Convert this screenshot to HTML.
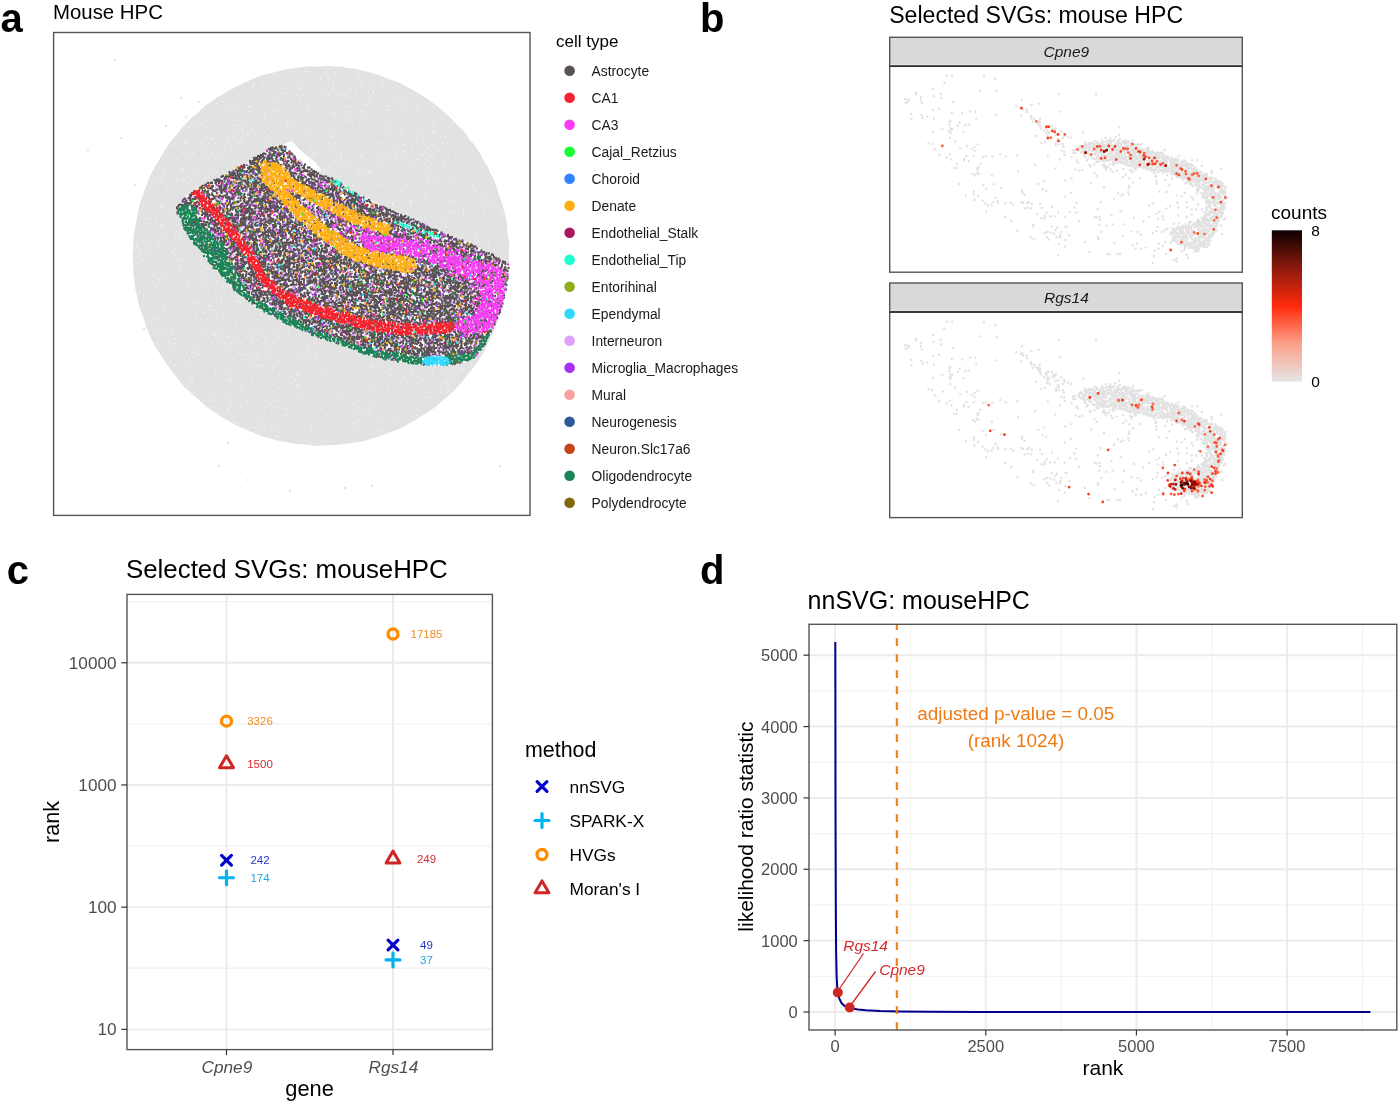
<!DOCTYPE html>
<html><head><meta charset="utf-8"><title>figure</title>
<style>html,body{margin:0;padding:0;background:#fff;}svg{display:block;will-change:transform;}text{font-family:"Liberation Sans", sans-serif;}</style>
</head><body>
<svg width="1400" height="1104" viewBox="0 0 1400 1104" font-family='"Liberation Sans", sans-serif'>
<rect width="1400" height="1104" fill="#fff"/>
<text x="0.5" y="31.6" font-size="40" font-weight="bold">a</text>
<text x="700.0" y="31.6" font-size="40" font-weight="bold">b</text>
<text x="6.8" y="583.6" font-size="40" font-weight="bold">c</text>
<text x="700.0" y="583.6" font-size="40" font-weight="bold">d</text>
<text x="53.0" y="19.3" font-size="20.4">Mouse HPC</text>
<path d="M509.2 255.8 509.0 262.4 508.9 269.0 508.1 275.6 507.2 282.2 506.5 288.7 505.6 295.3 504.0 301.8 502.3 308.2 500.0 314.4 498.1 320.7 495.5 326.8 492.9 332.9 490.1 338.9 487.2 344.8 484.5 350.9 481.0 356.5 477.4 362.1 473.6 367.5 469.3 372.5 465.2 377.7 461.1 382.9 456.7 387.8 452.1 392.5 447.3 397.1 441.9 400.9 437.1 405.4 431.9 409.5 426.4 413.2 420.7 416.5 415.2 420.2 409.3 423.1 403.8 426.7 397.8 429.5 391.7 431.8 385.4 434.0 379.4 436.6 373.0 438.3 366.7 440.3 360.3 441.7 353.8 442.7 347.3 443.7 340.8 444.6 334.2 445.1 327.7 445.2 321.1 445.4 314.5 445.7 308.0 444.8 301.5 444.2 294.9 443.9 288.4 442.5 281.9 441.5 275.6 439.9 269.2 438.1 262.8 436.7 256.8 433.9 250.6 431.7 244.6 429.0 238.5 426.5 232.8 423.2 227.0 420.1 221.2 416.9 215.9 413.0 210.4 409.4 205.0 405.6 200.3 401.0 195.3 396.6 190.4 392.2 185.5 387.8 181.1 382.9 177.0 377.7 172.8 372.6 169.0 367.2 165.0 361.9 161.7 356.2 157.9 350.8 154.6 345.1 151.5 339.2 148.9 333.1 146.2 327.0 144.5 320.6 142.2 314.4 139.7 308.2 138.2 301.8 137.0 295.2 135.3 288.8 134.5 282.2 133.6 275.7 133.4 269.0 133.2 262.4 132.8 255.8 133.2 249.2 133.4 242.6 133.5 235.9 134.8 229.4 136.0 222.9 137.3 216.4 138.6 209.9 139.9 203.4 142.1 197.2 144.3 190.9 146.8 184.8 148.7 178.4 151.9 172.6 155.0 166.8 158.3 161.1 161.7 155.4 165.2 149.8 168.6 144.2 172.9 139.1 177.1 134.0 181.2 128.8 185.8 124.1 190.0 119.0 195.3 115.0 200.0 110.4 205.0 106.1 210.5 102.3 215.6 98.1 221.3 94.9 227.1 91.6 232.7 88.3 238.7 85.5 244.5 82.5 250.6 80.0 256.6 77.2 262.8 75.0 269.2 73.4 275.6 72.0 282.0 70.3 288.4 69.1 294.9 68.1 301.4 67.3 307.9 66.2 314.5 66.4 321.1 66.4 327.7 65.8 334.2 66.4 340.8 66.6 347.3 67.9 353.9 68.6 360.3 70.0 366.7 71.4 373.1 73.2 379.3 75.3 385.4 77.8 391.6 80.0 397.8 82.1 403.8 84.9 409.7 87.9 415.2 91.5 421.0 94.7 426.5 98.3 431.8 102.2 437.2 106.0 442.2 110.4 447.2 114.7 452.0 119.2 456.4 124.1 461.3 128.6 465.6 133.6 469.2 139.2 473.7 144.0 477.5 149.5 480.9 155.1 483.9 161.1 487.6 166.5 490.1 172.7 493.5 178.4 495.8 184.6 497.7 191.0 499.9 197.2 502.2 203.5 503.9 209.9 505.5 216.3 506.9 222.8 507.3 229.4 508.0 236.0 509.3 242.5 508.9 249.2Z" fill="#e2e2e2"/>
<path transform="scale(0.5)" d="M656 137h0m-81 6h0m1 0h0m12-3h0m2 3h0m21 0h0m1 0h0m40 0h0m28 0h0m-109 2h0m51-1h0m6 2h0m22-1h0m20 1h0m-118 4h0m42 0h0m8 3h0m6-3h0m13 5h0m12-2h0m8 1h0m13-3h0m16-1h0m26 1h0m20 3h0m2-2h0m3 1h0m28-2h0m8 3h0m-221 2h0m105 2h0m2-2h0m11 0h0m3 0h0m57 0h0m13 5h0m17-1h0m5 0h0m-242 7h0m57-3h0m59-2h0m42 4h0m2 0h0m39 0h0m41-1h0m18 1h0m12 1h0m-270 4h0m0 2h0m20-4h0m50 4h0m2-3h0m15-2h0m4 5h0m7-3h0m52 3h0m16-2h0m48-1h0m2 3h0m21 0h0m18-2h0m4 2h0m29-2h0m-291 3h0m6 5h0m16-5h0m6 4h0m65-1h0m4 0h0m10 2h0m16-1h0m20-1h0m16 0h0m4 2h0m1-5h0m35 4h0m6 1h0m17-2h0m0-1h0m29 0h0m33-2h0m25 2h0m-330 9h0m59-5h0m10 1h0m25 0h0m26-1h0m13 4h0m37 1h0m15-4h0m12 3h0m10 1h0m22-1h0m0 1h0m34-4h0m1 2h0m20 0h0m19-1h0m8 0h0m16 3h0m-334 4h0m13-2h0m12 1h0m20-2h0m33 1h0m15-1h0m3 1h0m3 0h0m10 3h0m9 1h0m38 0h0m15-1h0m11 0h0m15-3h0m5 3h0m5-3h0m2 2h0m7-1h0m45-2h0m3 5h0m7-5h0m13 0h0m59 0h0m15 4h0m-389 6h0m34-4h0m53 2h0m14 1h0m7-1h0m14-2h0m5 2h0m27 2h0m2-4h0m26 5h0m65-1h0m4-2h0m8-1h0m82-1h0m4 3h0m6 2h0m15-1h0m13-1h0m-378 7h0m41 1h0m68-5h0m44 3h0m39-1h0m27 2h0m0-1h0m43 0h0m30-2h0m4 1h0m31 2h0m38-1h0m10 0h0m13-1h0m-409 9h0m8-2h0m7 2h0m12 0h0m9-4h0m3 4h0m13-1h0m64 0h0m8-2h0m137 3h0m48 0h0m1 0h0m3-5h0m23 1h0m7-1h0m18 1h0m19 0h0m3 4h0m25 0h0m3-1h0m-373 4h0m25-2h0m10 3h0m1 2h0m21-4h0m63-1h0m8 3h0m27-1h0m9 3h0m40-5h0m34 3h0m73 0h0m5-2h0m2 1h0m54 1h0m18-3h0m16 5h0m-460 2h0m59-1h0m0 1h0m14 1h0m60 3h0m4-4h0m5 3h0m2-1h0m4 0h0m44 1h0m14 1h0m4-5h0m30 1h0m5 0h0m66 2h0m20 2h0m7-5h0m0 1h0m29 3h0m2 0h0m24 0h0m3 1h0m12-5h0m-392 11h0m35-5h0m39 1h0m26 0h0m21 0h0m20 3h0m35-1h0m32-2h0m0 3h0m19 1h0m11-1h0m8 1h0m20-4h0m8 0h0m2 3h0m22-3h0m2 0h0m10 4h0m76-2h0m5 1h0m0-3h0m6 1h0m15-1h0m11 3h0m12 1h0m11-3h0m-469 5h0m24 3h0m7-4h0m25 2h0m7 1h0m47 0h0m17-1h0m47 2h0m14 0h0m54-4h0m22 1h0m4 4h0m20-1h0m5 0h0m1 0h0m28-1h0m9-2h0m4 0h0m44 2h0m11 0h0m57 0h0m-438 5h0m52 1h0m12-2h0m54 3h0m1-1h0m27-2h0m29 1h0m33-1h0m56 0h0m79-1h0m49 0h0m-404 6h0m11 5h0m4-4h0m59 0h0m6-1h0m35 4h0m59-2h0m9 1h0m0-1h0m69 1h0m24 1h0m17-2h0m0-1h0m2 2h0m77-1h0m20 2h0m46-4h0m29 4h0m2-1h0m36 1h0m-520 7h0m5-2h0m9-3h0m3 1h0m2 2h0m31 1h0m30 1h0m18-1h0m7-4h0m27 1h0m22 1h0m26-1h0m10 0h0m1 3h0m13-4h0m50 4h0m34-1h0m7 2h0m26 0h0m14-3h0m13 1h0m44-3h0m6 1h0m34 3h0m6 0h0m44-3h0m1 3h0m25 1h0m14-2h0m-529 6h0m36 2h0m63-5h0m9 5h0m7-2h0m43 2h0m47-1h0m82-3h0m18 4h0m71-3h0m17-2h0m20 4h0m43 0h0m3-3h0m17 4h0m45-4h0m-506 7h0m26 0h0m1 1h0m48-2h0m7 1h0m9 1h0m2-2h0m20 1h0m43-1h0m57 4h0m7-5h0m9 4h0m5-1h0m34 1h0m7-4h0m9 5h0m16-2h0m62-2h0m17-1h0m31 3h0m2-3h0m33 2h0m31 3h0m4 0h0m-510 2h0m9 2h0m35 0h0m19 2h0m29-2h0m10 2h0m13-2h0m33 0h0m5-3h0m12 4h0m15-2h0m1-1h0m64 3h0m16-1h0m19 1h0m7-1h0m9-2h0m36-1h0m34 4h0m50-2h0m2 1h0m17 0h0m6 1h0m8-3h0m17 2h0m17-1h0m5 2h0m16-1h0m3-2h0m54 3h0m-509 6h0m33 0h0m11 1h0m9-2h0m5-2h0m11 4h0m12-5h0m2 0h0m80 1h0m39-1h0m46 2h0m1 3h0m1 0h0m3-1h0m31 1h0m106-3h0m31 0h0m42 3h0m12-3h0m1 3h0m1-2h0m-533 3h0m42 5h0m23-3h0m1-1h0m1 1h0m29-2h0m27 1h0m30 0h0m24 4h0m7-5h0m71 1h0m38-1h0m78 2h0m4 3h0m4-1h0m51-4h0m13 5h0m32-5h0m2 2h0m10 0h0m35-2h0m37 4h0m-549 5h0m0 2h0m1-5h0m2 3h0m6 2h0m12-1h0m14 1h0m2 0h0m7-5h0m19 4h0m17-3h0m6-1h0m5 1h0m16-1h0m0 4h0m10 1h0m49-1h0m107-4h0m17 4h0m39-2h0m16-2h0m25 0h0m18 5h0m4 0h0m21-4h0m104 1h0m9 2h0m11-3h0m10 4h0m-575 4h0m9-3h0m62 1h0m96-1h0m3 2h0m19 1h0m92 1h0m1-4h0m34 0h0m15 5h0m45-5h0m34 5h0m6-4h0m38 0h0m12 0h0m18-1h0m0 4h0m25-4h0m10 4h0m9-3h0m20 1h0m22 3h0m-555 3h0m18 2h0m32-1h0m9-2h0m36 2h0m11 0h0m161 0h0m7 2h0m43 0h0m9-5h0m47 5h0m32-5h0m37 3h0m1-1h0m26 3h0m14-5h0m6 0h0m11 1h0m1 3h0m11-1h0m5-1h0m55 2h0m-593 6h0m54 1h0m7-2h0m16 2h0m1-1h0m13 0h0m11-4h0m5 0h0m8 1h0m215 2h0m36 1h0m13-2h0m23 1h0m8 1h0m45-3h0m19 0h0m0 2h0m10 2h0m47 0h0m14-2h0m39 0h0m-538 6h0m6-1h0m2-2h0m14 4h0m3-2h0m17 1h0m3-1h0m21 3h0m27-4h0m30-1h0m124 5h0m1-5h0m0 2h0m2-1h0m2 0h0m3 2h0m47 0h0m0 2h0m41-1h0m31-2h0m16-1h0m8 3h0m13-1h0m3-1h0m11 0h0m5 2h0m33-1h0m25 1h0m43-2h0m8 2h0m18 0h0m17-1h0m-626 8h0m18-3h0m30-1h0m3 0h0m30 2h0m20-1h0m9 3h0m6-1h0m199-4h0m19 1h0m19 2h0m10-2h0m30 0h0m4 2h0m36-3h0m39 0h0m13 5h0m6-4h0m43-1h0m2 2h0m26-2h0m22 2h0m-559 4h0m2 1h0m1 4h0m76-4h0m12 2h0m25 2h0m21 0h0m118-4h0m56 2h0m17-3h0m12 4h0m2-3h0m59-1h0m8 2h0m1 0h0m9-2h0m19 0h0m6 4h0m8 1h0m21-2h0m7-2h0m2-1h0m1 0h0m15 1h0m2 4h0m4-3h0m13 2h0m16 1h0m11-4h0m43 4h0m5-1h0m-573 5h0m6-3h0m17 1h0m1 3h0m30 0h0m13-4h0m13 5h0m26-4h0m8-1h0m128 3h0m56-3h0m5 2h0m0 2h0m6-2h0m18 1h0m5 0h0m19-2h0m18 3h0m26-1h0m31 2h0m19-5h0m5 4h0m21 1h0m6 0h0m40 0h0m14-3h0m33-1h0m-618 10h0m7-5h0m78 1h0m10 1h0m11 2h0m233-2h0m3 2h0m28-2h0m17 1h0m40-2h0m16-1h0m23 2h0m29 1h0m27 2h0m23-5h0m15 1h0m10 3h0m39 0h0m-608 2h0m9 1h0m2 2h0m32 0h0m5-1h0m31 1h0m28-2h0m2 3h0m27-3h0m193 3h0m0-4h0m1 2h0m1-2h0m9 2h0m3 3h0m5 0h0m50-3h0m1-1h0m12 1h0m6 2h0m68-4h0m47 5h0m1-4h0m20 2h0m10 2h0m22-5h0m13 2h0m13-2h0m19 3h0m-583 3h0m20 0h0m5 4h0m14-1h0m1 0h0m14-2h0m5 3h0m8-3h0m13 0h0m203 1h0m5-1h0m21 2h0m16-1h0m25 3h0m12-3h0m10 1h0m1-1h0m1-1h0m103 2h0m18-1h0m68 1h0m-607 7h0m9-4h0m12 3h0m7-2h0m27 3h0m19 1h0m22-1h0m240-3h0m21 4h0m38-5h0m13 4h0m114-1h0m12 2h0m96-1h0m-636 4h0m1 2h0m38 1h0m57-2h0m280-1h0m0 1h0m2-2h0m21 0h0m12 1h0m55 3h0m42-2h0m31 1h0m12-4h0m37 2h0m67 2h0m-649 2h0m1 4h0m4-2h0m10 0h0m17 0h0m2 1h0m11-3h0m2 3h0m14-1h0m16-2h0m362 5h0m1-1h0m49-1h0m21 0h0m21-2h0m17 2h0m9-1h0m32 0h0m48 0h0m15-2h0m-676 10h0m5-2h0m7-2h0m24 4h0m42-2h0m2 0h0m16 2h0m311-2h0m19 0h0m29 0h0m3 2h0m56-1h0m9 0h0m2-3h0m38 0h0m2 5h0m44-4h0m15 1h0m16-1h0m7 3h0m-590 5h0m350-3h0m11 2h0m42-1h0m25 3h0m1-4h0m29 2h0m88-1h0m2 2h0m42-3h0m2 4h0m32 0h0m-645 6h0m21-1h0m446-1h0m4 0h0m11 2h0m31 0h0m6-4h0m39 3h0m58-1h0m28 0h0m-647 4h0m6 2h0m11-1h0m419 3h0m6-1h0m19 1h0m19-4h0m41 0h0m4 1h0m108 1h0m6 0h0m-677 8h0m447-2h0m29 1h0m35 0h0m41-1h0m7 3h0m75 0h0m26-4h0m1 0h0m7 1h0m35 1h0m-699 7h0m18-4h0m440 1h0m60 4h0m5 0h0m3-2h0m28 0h0m14 0h0m30-1h0m2 3h0m13-5h0m28 2h0m-162 7h0m8 0h0m2 2h0m34-2h0m2-2h0m2 0h0m61-1h0m15 2h0m6 1h0m21 0h0m22 0h0m4 2h0m13-1h0m5-1h0m14 1h0m3-4h0m-701 8h0m35-1h0m1 4h0m1-4h0m1 1h0m7-2h0m453 0h0m1 3h0m2 0h0m33 0h0m39-2h0m11 3h0m4 0h0m69-3h0m18 2h0m19 1h0m11-1h0m-709 8h0m37 0h0m6-5h0m5 3h0m6 2h0m9 0h0m443-5h0m43 5h0m2-2h0m133 0h0m-656 6h0m552-2h0m6 3h0m20-4h0m6 0h0m2 2h0m5 0h0m1 3h0m23-4h0m0-1h0m2 4h0m0-2h0m76 2h0m0-4h0m-704 6h0m21 3h0m24 2h0m469-4h0m51 3h0m52-2h0m11 1h0m28-1h0m13-2h0m35 1h0m-703 10h0m37-5h0m497 4h0m5 0h0m3 0h0m6-1h0m24-3h0m18 3h0m22 2h0m28-4h0m40 4h0m15-4h0m8 1h0m-708 4h0m17 1h0m529 1h0m37 0h0m14 1h0m27-2h0m-642 9h0m17-2h0m5 2h0m12-4h0m14 5h0m534-1h0m26-4h0m4 5h0m13-5h0m9 2h0m43-2h0m11 1h0m-688 9h0m14-3h0m22 0h0m8 0h0m1 2h0m3 2h0m27-4h0m9 4h0m508-3h0m2 3h0m20-3h0m1 3h0m62-5h0m22 1h0m-632 9h0m3-4h0m13 5h0m2-2h0m596-3h0m12 4h0m-643 7h0m22-1h0m9 0h0m10-2h0m531-1h0m13 0h0m40 1h0m-674 8h0m80-1h0m0-1h0m579 0h0m12 2h0m5-3h0m48 1h0m9 1h0m-735 5h0m46-1h0m4 1h0m24-1h0m12 1h0m565 1h0m22-2h0m1 3h0m26-3h0m3 1h0m25-1h0m-717 9h0m5-3h0m20-1h0m2 2h0m1 1h0m8-2h0m27-1h0m590 0h0m20 5h0m16-1h0m35-1h0m-738 7h0m0 1h0m26-5h0m14 5h0m5-2h0m18 1h0m19-2h0m24 2h0m6 0h0m565-1h0m26-2h0m23-1h0m-730 9h0m1 2h0m3-3h0m17 2h0m12-3h0m47 4h0m629-1h0m17-4h0m0 5h0m-703 3h0m4 0h0m68 0h0m623-1h0m-709 10h0m2-5h0m21 4h0m5 0h0m3-3h0m35 0h0m23 4h0m6-4h0m19 3h0m597-4h0m15 4h0m-732 5h0m3-2h0m20 4h0m37-5h0m17 0h0m50 5h0m1-3h0m1 0h0m-132 5h0m13 3h0m62 1h0m13-2h0m4-2h0m3 2h0m3-2h0m2 1h0m14 0h0m7 2h0m12-2h0m2 3h0m-123 2h0m19 3h0m58-4h0m42 0h0m2 3h0m-122 4h0m4 1h0m27 3h0m37-1h0m7-3h0m2 3h0m36-1h0m9 0h0m4-1h0m8 3h0m-100 2h0m45 3h0m24-3h0m29 0h0m3 3h0m-122 3h0m8 4h0m1-4h0m24-1h0m2 4h0m23-3h0m7-1h0m48 4h0m-113 5h0m15 1h0m13-3h0m33 2h0m16-2h0m8 3h0m21-3h0m4 2h0m-132 7h0m49-3h0m9 4h0m4-2h0m4-1h0m6 0h0m76 2h0m9-3h0m-138 9h0m26-3h0m2-1h0m40 5h0m19 0h0m6-3h0m0 3h0m6-4h0m10 4h0m5-5h0m1 5h0m6-3h0m13 0h0m7 3h0m-155 6h0m11-4h0m29 0h0m58-1h0m61 0h0m11 3h0m-138 6h0m1 0h0m1 2h0m22-1h0m1 0h0m17 0h0m25 0h0m3 0h0m36-4h0m1 3h0m16-1h0m11 0h0m4 2h0m7 0h0m-175 7h0m90-1h0m22-3h0m8-1h0m9 1h0m8 0h0m-118 7h0m61 2h0m60-3h0m12 1h0m-144 8h0m0-4h0m1 0h0m3 1h0m158-1h0m2 1h0m13 0h0m10 4h0m2 0h0m-188 2h0m7 4h0m16-2h0m96-1h0m33 3h0m11 0h0m-142 5h0m26-4h0m26 0h0m3 1h0m22 3h0m24-3h0m9-1h0m3 3h0m1-1h0m10 0h0m10-2h0m27 0h0m7 4h0m3 0h0m-196 7h0m18-5h0m19 4h0m1-4h0m18 2h0m36 3h0m5-3h0m10-1h0m8 0h0m20 4h0m2-1h0m22-3h0m-160 6h0m43 4h0m3-4h0m44 4h0m17 0h0m17-2h0m11-3h0m3 0h0m18 0h0m1 1h0m15 0h0m38 0h0m17 4h0m-182 1h0m2 4h0m22-2h0m12 1h0m31-2h0m22-1h0m6 2h0m51-2h0m2 3h0m-175 3h0m42 1h0m8 0h0m1-1h0m26 1h0m13 0h0m16-1h0m26 1h0m12 4h0m2-5h0m17 2h0m59 0h0m1 3h0m-231 3h0m133 3h0m3-4h0m107 1h0m-230 4h0m8 3h0m4 1h0m2-1h0m33 0h0m24-1h0m14-1h0m11 2h0m12 0h0m32-1h0m17 1h0m6 0h0m7-2h0m7 1h0m22-2h0m1 1h0m6 1h0m7 2h0m-216 5h0m11 1h0m0-1h0m17 0h0m3-1h0m9-2h0m25 5h0m103-1h0m1-4h0m20 5h0m28 0h0m-143 1h0m23 0h0m24 2h0m27-1h0m30-1h0m50 4h0m27 1h0m6-5h0m5 4h0m-256 6h0m20 1h0m6-5h0m47 2h0m20 3h0m22-4h0m9 4h0m0-4h0m67 2h0m20 2h0m13-5h0m-236 6h0m4 0h0m17 4h0m20-4h0m3 2h0m16 2h0m52 0h0m21-2h0m1 3h0m51-5h0m15 5h0m17 0h0m17-3h0m5-2h0m18 1h0m9 2h0m9-3h0m3 0h0m-266 6h0m14 5h0m16-4h0m20-1h0m25 1h0m15 1h0m22-2h0m5 5h0m1-2h0m9-2h0m5 0h0m10 0h0m32 3h0m21-1h0m18-3h0m20 3h0m8 1h0m23 0h0m-226 7h0m21-3h0m0 1h0m45 0h0m26 2h0m14-4h0m20 0h0m2 3h0m21-2h0m2 2h0m4 1h0m17-5h0m9 1h0m18 3h0m7-1h0m60 0h0m-223 8h0m4-4h0m10 3h0m30-4h0m1 4h0m32-4h0m36 4h0m7-1h0m3-1h0m12-1h0m6 4h0m13-2h0m38 0h0m42 0h0m-316 6h0m6 1h0m19-3h0m8 2h0m6 0h0m28 2h0m8 0h0m22-1h0m14 0h0m0-1h0m5 2h0m18-5h0m5 3h0m11 0h0m19 0h0m3-2h0m61 1h0m84 1h0m-279 7h0m46-3h0m42 3h0m14 0h0m87-4h0m34 4h0m17-3h0m25 4h0m19-5h0m27 2h0m4 2h0m-320 2h0m9 1h0m20 1h0m25-1h0m34 2h0m27-1h0m56-1h0m14 1h0m13 0h0m3 2h0m62-2h0m8 1h0m30 2h0m39-3h0m-356 4h0m19 0h0m16 3h0m9 0h0m1-1h0m10 1h0m9 1h0m3 1h0m43 0h0m19-5h0m21 5h0m28-2h0m25-1h0m4 0h0m18-2h0m19 1h0m40-1h0m3 2h0m6 2h0m32-2h0m53-2h0m-356 9h0m48-3h0m21 3h0m12 2h0m25-5h0m27 1h0m5 0h0m10 1h0m18-1h0m2-1h0m12 0h0m63 3h0m20 2h0m0-3h0m20 0h0m12-2h0m11 4h0m1 1h0m8-3h0m50-1h0m3 3h0m12 1h0m-352 4h0m6-3h0m40 5h0m11-2h0m22 1h0m6 1h0m6-1h0m24 1h0m17-2h0m3 1h0m5-1h0m10 1h0m11-1h0m20 2h0m37 0h0m6-4h0m28 0h0m1 3h0m10-4h0m38 1h0m71 3h0m-410 4h0m33 2h0m67-1h0m9 0h0m32-3h0m71 5h0m5-2h0m64 0h0m43 0h0m28 0h0m37-1h0m28-1h0m12 4h0m-421 6h0m15 0h0m18-3h0m18 3h0m10-4h0m14-1h0m47 2h0m32-1h0m11 2h0m4 1h0m10 1h0m11-1h0m46 1h0m42-3h0m11 2h0m11 1h0m28-1h0m18-2h0m50 3h0m58-1h0m-422 5h0m78-2h0m39 0h0m11-1h0m11 0h0m4 1h0m21 4h0m3-3h0m14-1h0m18-1h0m88 4h0m2-4h0m70 2h0m4 0h0m13 1h0m9-3h0m94 3h0m68 2h0m16-5h0m-546 6h0m9 2h0m24-1h0m0 3h0m17-3h0m7 3h0m9-4h0m15 5h0m87-1h0m1-2h0m16 3h0m1-2h0m10 1h0m24-3h0m24 2h0m4 2h0m2-3h0m99 1h0m21 2h0m12-4h0m1-1h0m39 1h0m3 1h0m35 3h0m7-2h0m0 2h0m25-5h0m1 2h0m3 2h0m8 0h0m1-3h0m19 1h0m3-2h0m13 3h0m-577 4h0m34 3h0m46-4h0m13 1h0m2 3h0m27-4h0m76 3h0m34 2h0m5-3h0m0 3h0m2-5h0m63 3h0m5 1h0m24-2h0m68 2h0m19-2h0m22 1h0m22 0h0m13-2h0m8 1h0m64-2h0m12 0h0m-539 9h0m113 2h0m7-3h0m1-2h0m3 4h0m80 1h0m7-4h0m3-1h0m29 3h0m15 0h0m13 2h0m9-1h0m57 0h0m15 1h0m49-4h0m27 2h0m4-3h0m22 3h0m74-1h0m-531 6h0m6 3h0m1-2h0m71-1h0m2 3h0m1-3h0m4-1h0m26 1h0m13 2h0m57 0h0m31 1h0m12-4h0m77 4h0m41-3h0m88 0h0m8 3h0m27-5h0m17 3h0m9 1h0m21-1h0m3 2h0m7 0h0m3-5h0m2 0h0m6 5h0m-527 3h0m22 3h0m22-2h0m2-1h0m44-2h0m62 0h0m36 4h0m10 1h0m9-4h0m8 2h0m14 1h0m36-1h0m34 1h0m5-3h0m95 2h0m17 2h0m4-1h0m13 1h0m16 0h0m29 0h0m10 0h0m14-2h0m8-3h0m1 3h0m22 0h0m-542 8h0m103-3h0m6 1h0m19-2h0m59 3h0m29 1h0m5-4h0m1 0h0m0 3h0m21 1h0m21 0h0m30-4h0m94 0h0m12 4h0m18 0h0m2-4h0m31 0h0m3 1h0m39-1h0m13 3h0m3-4h0m12 4h0m3-4h0m-519 6h0m12 4h0m5-2h0m5 3h0m20-1h0m62-2h0m4 0h0m8 0h0m32-2h0m12 1h0m17 0h0m1 2h0m5 2h0m30-4h0m53-1h0m41 5h0m63-3h0m107 3h0m26-1h0m8-3h0m5 2h0m5-1h0m-513 9h0m70 0h0m23-4h0m4 2h0m21-3h0m65 4h0m79-3h0m28 1h0m61-1h0m6 1h0m32-2h0m78 4h0m3 0h0m24 1h0m12 0h0m3-4h0m-479 10h0m6-5h0m8 3h0m6 2h0m68-4h0m29 3h0m33 1h0m22-1h0m42-3h0m46 4h0m20-1h0m6-3h0m13 0h0m32 1h0m18 2h0m3-1h0m26-3h0m27 4h0m21-2h0m8-2h0m-392 6h0m5 1h0m15 2h0m117 0h0m1-2h0m5 0h0m58 4h0m15-3h0m5 0h0m16 1h0m13 1h0m44-2h0m82-2h0m21 3h0m7-2h0m-454 7h0m10-1h0m0 2h0m16-2h0m6 3h0m16-4h0m39 5h0m35 0h0m19-1h0m6-2h0m102-2h0m38 3h0m22 0h0m22 2h0m55-4h0m15-1h0m7 1h0m-360 7h0m4 0h0m20 1h0m13-3h0m14 3h0m18-2h0m11 4h0m5-2h0m23-1h0m16 2h0m3 0h0m13 1h0m102-1h0m30-2h0m28-1h0m18 4h0m14-4h0m11-1h0m-382 10h0m7 1h0m37-1h0m7-1h0m11 2h0m2-2h0m10-1h0m56 2h0m10 0h0m74-3h0m54 0h0m21-1h0m7 3h0m26 0h0m4-3h0m76 5h0m37-1h0m1-4h0m-419 6h0m15 4h0m2-2h0m0 3h0m33-2h0m79-2h0m6 3h0m16-1h0m49-2h0m3 1h0m36 2h0m13-1h0m0-1h0m38-1h0m82-1h0m9 0h0m-361 8h0m47-1h0m16-1h0m20 1h0m1 3h0m32 0h0m9-3h0m48 2h0m32 0h0m6-2h0m34 0h0m7 4h0m4-5h0m9 2h0m12-1h0m6 2h0m35-1h0m1 0h0m-338 4h0m8 2h0m19 2h0m20 1h0m4-5h0m11 5h0m5-1h0m23-3h0m6 4h0m25 0h0m1-2h0m6-2h0m6 2h0m33 2h0m32 0h0m13-5h0m19 1h0m15 3h0m36-3h0m5 2h0m13 0h0m2-1h0m19 2h0m1-2h0m7 0h0m16 0h0m37 2h0m4-1h0m6 0h0m-364 6h0m45 1h0m1-2h0m8 3h0m32-1h0m107-3h0m19 1h0m16 2h0m21 0h0m43-3h0m1 3h0m11-1h0m19-3h0m4 4h0m16 0h0m15-3h0m-356 10h0m3 0h0m57-5h0m18 0h0m20 4h0m13-1h0m31-3h0m1 5h0m46-1h0m29 1h0m27 0h0m4-3h0m28 3h0m6-3h0m16-2h0m20 4h0m11-4h0m-322 8h0m50 2h0m21-1h0m72 1h0m21 1h0m4-4h0m37 3h0m10-2h0m13-1h0m1 0h0m3-1h0m33 0h0m38 2h0m-283 8h0m2 0h0m8 1h0m1-3h0m6-2h0m3 0h0m7 5h0m17-3h0m5-2h0m50 5h0m2-3h0m14 2h0m5-2h0m4 3h0m21-2h0m26 0h0m24 1h0m16 0h0m0-2h0m19 3h0m23-1h0m16 1h0m-251 2h0m13 1h0m24 1h0m23-3h0m13 5h0m19-1h0m13-2h0m35 1h0m21-2h0m23-1h0m11 4h0m5-4h0m1 2h0m14 1h0m27 0h0m7 0h0m-243 6h0m38 0h0m11-3h0m32 1h0m9 1h0m25 1h0m115-3h0m-221 6h0m21 2h0m3 1h0m32-1h0m39 3h0m17-1h0m12 1h0m31-2h0m19-1h0m20 3h0m-77 5h0m23-4h0m11 1h0m-68 6h0m4 3h0m5 1h0m7 0h0m16-3h0m18 1h0m44-3h0" stroke="#f7f7f7" stroke-width="2.4" stroke-linecap="round"/>
<path transform="scale(0.5)" d="M230 120h0m132 76h0m36 8h0m26 16h0m-52 14h0m-40 18h0m-90 24h0m-66 24h0m224 8h0m-130 62h0m50 250h0m-32 38h0m168 228h0m-18 46h0m562 0h0m-504 28h0m194 16h0m54-4h0m-164 10h0" stroke="#e0dfe0" stroke-width="4.4" stroke-linecap="round"/>
<path d="M284 144 L292 141 L298 148 L306 155 L316 163 L322 171 L312 172 L300 163 L290 154Z" fill="#fff"/>
<path d="M175.4 209.3 177.5 205.3 181.2 200.9 185.0 197.0 188.2 194.2 191.4 191.9 195.2 189.6 199.8 187.1 204.9 184.5 210.0 182.0 214.4 179.9 218.7 177.9 224.2 175.1 232.3 170.6 241.7 165.2 249.6 160.6 254.8 157.5 258.6 155.1 262.0 153.0 265.4 151.0 268.5 149.3 271.3 147.9 273.8 146.6 275.9 145.6 278.0 145.0 280.1 144.7 282.1 144.8 284.0 145.5 285.7 147.0 287.4 149.2 289.4 151.5 292.0 153.9 294.9 156.5 298.0 159.0 301.1 161.4 304.4 163.8 307.5 166.0 310.6 168.1 313.5 169.9 316.0 171.5 317.4 172.5 318.3 173.3 320.0 174.1 323.1 175.2 327.0 176.4 330.9 177.8 334.5 179.4 338.1 181.2 341.7 183.2 345.3 185.5 348.8 187.9 352.6 190.4 356.6 192.8 360.9 195.3 365.3 197.7 369.9 200.1 374.8 202.5 379.8 204.9 385.2 207.4 390.7 209.9 396.1 212.2 400.9 214.0 405.6 215.6 410.6 217.6 416.4 220.4 422.5 223.7 428.7 226.7 434.7 229.2 440.8 231.6 446.8 233.9 452.8 236.3 458.9 238.6 464.9 241.2 471.1 244.1 477.2 247.3 483.0 250.2 488.3 252.9 493.2 255.3 497.5 257.5 501.0 259.2 503.8 260.6 506.0 262.0 507.4 262.9 508.2 263.8 508.6 266.0 508.6 270.5 508.2 276.5 507.5 282.6 506.5 288.5 505.1 294.6 503.5 300.7 501.7 306.9 499.7 313.0 497.5 318.8 495.2 323.9 492.8 328.6 490.3 333.3 487.9 338.3 485.6 343.3 483.0 347.8 480.1 351.6 477.1 354.8 474.0 357.5 471.2 359.6 468.3 361.2 464.9 362.5 460.4 363.4 455.3 364.0 450.4 364.5 446.3 365.0 442.3 365.3 437.8 365.5 432.1 365.5 425.9 365.4 419.6 365.0 413.6 364.4 407.5 363.5 401.5 362.5 395.5 361.5 389.4 360.3 383.4 359.0 377.4 357.5 371.3 355.9 365.3 354.0 359.3 351.8 353.2 349.3 347.2 347.0 340.8 344.8 334.5 342.7 329.1 341.0 325.3 339.8 322.6 338.9 320.0 338.0 317.7 337.2 315.6 336.5 312.9 335.4 308.9 333.4 304.3 331.1 300.0 329.0 296.3 327.6 293.0 326.5 289.7 325.3 286.5 323.7 283.3 322.0 280.2 320.2 277.0 318.5 273.9 316.8 270.7 315.1 267.5 313.5 264.3 311.8 261.2 310.1 258.3 308.2 255.6 306.3 253.0 304.4 250.8 302.7 248.8 301.0 246.6 299.3 244.2 297.5 241.6 295.6 239.0 293.6 236.5 291.7 234.1 289.7 231.4 287.2 228.5 283.9 225.5 280.2 222.2 276.5 218.7 273.1 215.0 269.8 211.3 265.9 207.6 261.0 203.9 255.5 200.4 250.7 197.3 247.2 194.4 244.2 191.7 240.9 188.9 236.7 186.3 232.0 184.1 227.8 182.8 224.2 182.0 221.1 180.9 218.0 178.7 215.2 176.2 212.4Z" fill="#fdfdfd"/>
<path transform="scale(0.5)" d="M559 293h0m4-1h0m-25 6h0m4-2h0m2 3h0m1-4h0m4 2h0m2 0h0m2-1h0m7-1h0m3 0h0m6-1h0m2 0h0m-37 8h0m5 3h0m2-5h0m3 1h0m1 0h0m3 2h0m3 1h0m5-4h0m1 4h0m6-4h0m3 1h0m0 4h0m4-3h0m9 1h0m-57 7h0m1 1h0m3-3h0m2-1h0m3 1h0m8 0h0m3 1h0m4 0h0m2-2h0m2-1h0m2 5h0m2 0h0m1-3h0m3 1h0m2 1h0m1-3h0m2 1h0m5 2h0m6-4h0m5 2h0m4-1h0m2 2h0m-77 7h0m3 0h0m4-1h0m1-3h0m4 0h0m0 2h0m2 2h0m4-3h0m2 4h0m1-2h0m5 1h0m1 0h0m1-4h0m2 2h0m0-1h0m3 4h0m2-2h0m1-2h0m8 4h0m2-3h0m4-2h0m4 4h0m6-4h0m8 3h0m3-3h0m0 2h0m9 0h0m1-1h0m1 3h0m-90 6h0m5 1h0m0-1h0m3-2h0m2 0h0m3-1h0m2 0h0m2 3h0m2-4h0m5 4h0m2-2h0m9-1h0m0 2h0m2 2h0m2-5h0m5 5h0m1-5h0m2 4h0m3 1h0m4-3h0m1 3h0m10-3h0m1-2h0m1 4h0m8 1h0m2-1h0m5-4h0m2 3h0m3 0h0m3 2h0m1-4h0m-91 5h0m1 3h0m1-1h0m1 2h0m3-1h0m1-3h0m1 4h0m3-2h0m3 0h0m0 2h0m1-2h0m7-1h0m2 0h0m11-1h0m5 1h0m10-1h0m7 3h0m11 0h0m5-3h0m1 3h0m9-2h0m4 4h0m1-5h0m4 2h0m1-1h0m2 4h0m1-5h0m4 2h0m10 3h0m-133 6h0m6-3h0m0 2h0m3 0h0m2-4h0m1 1h0m0 4h0m5-5h0m5 3h0m4 1h0m7-2h0m3 2h0m1-2h0m1-2h0m1 3h0m1 1h0m1 0h0m20-4h0m3 1h0m20 1h0m1-2h0m9 0h0m2 2h0m4 1h0m1-3h0m1 2h0m6 0h0m2 1h0m1 1h0m4-3h0m6 1h0m5-2h0m5 3h0m8 2h0m3 0h0m-147 5h0m5-3h0m2 4h0m1-4h0m3 4h0m2-2h0m11-3h0m2 2h0m1-1h0m4 3h0m3-3h0m3 0h0m4 2h0m4-2h0m3 1h0m0 2h0m11 1h0m40 0h0m1-5h0m3 1h0m4 0h0m1 4h0m2-5h0m1 1h0m1-1h0m10 2h0m1-2h0m4 1h0m0 3h0m6-4h0m3 0h0m3 4h0m4 1h0m8-2h0m-164 5h0m6 2h0m2-4h0m0 4h0m3-2h0m4-2h0m1 4h0m3-4h0m6 1h0m3-1h0m3 1h0m4-1h0m0 2h0m4 2h0m3-4h0m2 1h0m3 4h0m1-5h0m10 0h0m2 3h0m2 2h0m0-3h0m4 3h0m14-5h0m40 1h0m2 0h0m3 3h0m2 0h0m4 1h0m0-1h0m5-4h0m5 5h0m2-4h0m0 2h0m4-2h0m2-1h0m4 0h0m3 1h0m4 0h0m4 3h0m3-3h0m2-1h0m1 3h0m3-1h0m4 3h0m-192 6h0m2-1h0m6 0h0m3 1h0m4-5h0m0 4h0m2 0h0m1-3h0m2-1h0m2 3h0m2-3h0m2 0h0m1 4h0m4-1h0m2-1h0m1 3h0m2-5h0m2 1h0m0 1h0m2 0h0m10 2h0m1 0h0m0-3h0m6 2h0m2 1h0m8-4h0m0 2h0m2-1h0m2 0h0m9 2h0m58-3h0m1 4h0m4-1h0m6-3h0m4 4h0m6 1h0m1-3h0m6 3h0m6-4h0m3 2h0m1-3h0m2 5h0m1-3h0m1-2h0m1 0h0m0 2h0m3-2h0m1 5h0m1 0h0m3-2h0m1-2h0m0 4h0m6-2h0m3 1h0m4 1h0m5 0h0m-218 6h0m4 0h0m5-5h0m6 5h0m0-1h0m1-3h0m2 2h0m5-3h0m8 2h0m2 0h0m3 0h0m2-1h0m1 4h0m1 0h0m2-2h0m4 0h0m0 2h0m5-5h0m10 2h0m1 2h0m1-4h0m4 3h0m5-2h0m2 1h0m2 0h0m5 0h0m0-1h0m3 2h0m1 2h0m3-1h0m13 0h0m28 1h0m7-3h0m18-1h0m1 2h0m0-2h0m7 0h0m0 4h0m5-3h0m3 1h0m2-1h0m6-1h0m6 3h0m5-1h0m2 2h0m4 0h0m8-2h0m1-3h0m2 4h0m1-1h0m3 1h0m3-3h0m3 2h0m6-1h0m3 1h0m5 0h0m1 2h0m-241 6h0m5-5h0m2 2h0m1 2h0m3-2h0m3 1h0m0-1h0m3-1h0m2 2h0m1-1h0m0 2h0m12-4h0m1 3h0m2-2h0m4 3h0m5-1h0m15 1h0m4-3h0m3 0h0m1 3h0m4-3h0m2 3h0m9 1h0m3-4h0m1 4h0m1-1h0m2-3h0m1 4h0m4 0h0m4-2h0m23-1h0m17 3h0m30-5h0m4 2h0m5-1h0m4 2h0m0-3h0m0 4h0m4 1h0m3-2h0m2-3h0m4 2h0m5 2h0m3 0h0m6-2h0m2 1h0m3-2h0m5 4h0m0-5h0m3 4h0m3-4h0m4 1h0m2 1h0m1 3h0m2-5h0m2 3h0m2 0h0m6-1h0m-257 9h0m2-2h0m4-3h0m5 0h0m3 0h0m7 0h0m2 3h0m5-3h0m5 4h0m7 1h0m3-4h0m1 2h0m7-2h0m0-1h0m2 0h0m2 5h0m4-3h0m3-2h0m1 0h0m3 5h0m2-5h0m1 0h0m2 0h0m0 4h0m12-4h0m1 2h0m3 1h0m1 2h0m3-4h0m2 3h0m4-3h0m3 2h0m1-3h0m3 1h0m1 0h0m8 2h0m4-1h0m1 2h0m20-4h0m56 2h0m3-1h0m2 3h0m1-3h0m4 3h0m4 1h0m2-5h0m4 3h0m2-2h0m3-1h0m1 4h0m6 1h0m1-4h0m4 2h0m9 2h0m1 0h0m12-2h0m1 0h0m0-2h0m4 4h0m13-5h0m2 3h0m-283 7h0m2-1h0m3 1h0m0-4h0m1 0h0m7 1h0m3 3h0m4 1h0m2-1h0m1-3h0m1 2h0m2-3h0m11 0h0m1 0h0m1 5h0m1-4h0m3 1h0m5 3h0m1-4h0m1 4h0m2-5h0m1 1h0m6 3h0m1-3h0m8 3h0m3-2h0m5 3h0m1-4h0m6 4h0m1-3h0m3 0h0m1 1h0m2-3h0m1 2h0m5-1h0m2-1h0m5 2h0m5 3h0m0-5h0m2 1h0m1 3h0m1-4h0m11 2h0m1-2h0m1 3h0m0 2h0m4-1h0m1-3h0m2 1h0m2 0h0m3 3h0m44-2h0m6-2h0m33 0h0m3 1h0m2 3h0m0-4h0m4 4h0m2-1h0m5 0h0m2-4h0m3 3h0m1-2h0m2 3h0m1-4h0m9 5h0m3-5h0m1 5h0m0-5h0m6 2h0m5 0h0m1 0h0m5-2h0m5 0h0m1 2h0m5 2h0m1-2h0m-299 9h0m10-2h0m7 0h0m5 0h0m6 1h0m9-2h0m2 1h0m0 1h0m4 0h0m3-3h0m5 0h0m3 4h0m1-5h0m1 2h0m4 0h0m1 2h0m3 1h0m1-5h0m8 3h0m3-1h0m7 3h0m2-4h0m1 0h0m2 0h0m3 2h0m0 2h0m6-5h0m6 4h0m2-1h0m0-3h0m7 0h0m1 1h0m3-1h0m1 3h0m7 1h0m2-4h0m1 4h0m5-1h0m0-3h0m1 4h0m2-4h0m1 1h0m3 3h0m1 0h0m4-3h0m5 2h0m1 2h0m3-3h0m4 3h0m9-5h0m7 5h0m18-4h0m29 4h0m3-2h0m13-3h0m11 2h0m5 1h0m4 1h0m2-2h0m3 1h0m2-3h0m6 4h0m4-4h0m1 1h0m3-1h0m1 4h0m2-4h0m0 2h0m2-2h0m9 1h0m2 4h0m7-2h0m2 0h0m2 2h0m6-1h0m-316 7h0m2-3h0m24 1h0m1-3h0m4 1h0m1-1h0m2 2h0m1 1h0m7 0h0m0 2h0m10-3h0m9 0h0m1-2h0m10 5h0m0-3h0m4-2h0m3 1h0m2 1h0m4 3h0m3-3h0m4-2h0m1 2h0m3-1h0m4 2h0m4 1h0m3 0h0m7 1h0m2-3h0m2-2h0m3 2h0m3 1h0m0-3h0m3 0h0m0 1h0m9 1h0m2-2h0m1 1h0m9 2h0m2-1h0m2-2h0m0 2h0m3 2h0m5-3h0m4 1h0m33-2h0m2 4h0m2 0h0m3-1h0m0 2h0m9-2h0m37-3h0m1 2h0m5-2h0m4 0h0m4 3h0m4-1h0m4-2h0m3 3h0m3 1h0m1 1h0m2-1h0m2-2h0m7 0h0m1-2h0m2 4h0m2-2h0m0-1h0m1 4h0m8-5h0m2 2h0m2 3h0m5-2h0m2-1h0m3 1h0m3 2h0m6 0h0m1-3h0m2 3h0m1-1h0m-333 2h0m0 4h0m2-2h0m8 2h0m24-3h0m2 2h0m1 2h0m1 0h0m1-5h0m7 1h0m2 2h0m4 0h0m3-1h0m3 1h0m0 2h0m2-4h0m1 1h0m4 2h0m1 1h0m1-3h0m4-1h0m1 4h0m4-1h0m2 0h0m7-4h0m0 4h0m4-1h0m2-3h0m6 0h0m3 0h0m3 3h0m5-2h0m2 3h0m10-4h0m1 4h0m3-1h0m9-1h0m2 0h0m2-2h0m3 1h0m1 0h0m6 2h0m1 0h0m3 0h0m5 0h0m3-3h0m4 1h0m5 1h0m6 2h0m1-3h0m26 4h0m5 0h0m4-2h0m2-2h0m1 4h0m2 0h0m1-4h0m2 0h0m1 4h0m2-4h0m32 1h0m7 3h0m6-3h0m4-1h0m3-1h0m4 0h0m3 5h0m2-3h0m3 0h0m1-2h0m2 5h0m5-3h0m5 1h0m18 2h0m0-3h0m3-1h0m0-1h0m3 4h0m2-3h0m4 1h0m3-1h0m1 4h0m6 0h0m9 0h0m-360 4h0m3-2h0m1 2h0m2 2h0m4-5h0m3 4h0m1-3h0m1 4h0m4-3h0m4 0h0m1 0h0m6-1h0m8 4h0m3 0h0m11-3h0m5 0h0m2 0h0m4-2h0m3 4h0m8 1h0m2-3h0m0 2h0m1-1h0m11-2h0m4 1h0m1 3h0m2-4h0m3 1h0m3 0h0m8-2h0m5 5h0m0-5h0m7 5h0m0-5h0m1 4h0m9-3h0m0 4h0m3-2h0m2-3h0m7 3h0m1 1h0m3-2h0m3-2h0m0 4h0m3 1h0m3-3h0m2 3h0m0-4h0m1 4h0m3-4h0m1 3h0m4-4h0m1 0h0m1 3h0m5-3h0m5 0h0m1 2h0m3-2h0m3 3h0m2 2h0m7 0h0m12 0h0m3-1h0m5-1h0m6 1h0m4-2h0m7-2h0m2 5h0m6-1h0m3-2h0m9-2h0m2 5h0m3-4h0m3 3h0m17-1h0m15-3h0m8 4h0m0-3h0m1 0h0m5 4h0m1 0h0m1-5h0m3 2h0m1 1h0m2 1h0m1-4h0m8 4h0m3-4h0m2 5h0m4-1h0m3 1h0m2-1h0m0-4h0m2 2h0m0 2h0m4-1h0m4-2h0m3 4h0m4-5h0m1 5h0m0-5h0m16 4h0m-373 3h0m5 4h0m1-3h0m3 2h0m4 0h0m4-1h0m3-3h0m4 4h0m3 0h0m2-2h0m1 0h0m16-2h0m9 3h0m2-2h0m13 0h0m2 0h0m1 3h0m5 1h0m8 0h0m3-5h0m5 3h0m7 1h0m2 1h0m1-3h0m4 1h0m2-2h0m2 1h0m8 3h0m3-5h0m1 1h0m2 2h0m1 1h0m3-3h0m1 0h0m1 2h0m6 2h0m0-5h0m2 3h0m2-3h0m1 1h0m3 0h0m4-1h0m5 4h0m0-3h0m4 1h0m1 3h0m5-4h0m1 2h0m0-1h0m4 0h0m2 2h0m3 0h0m0-3h0m2-1h0m1 4h0m3-3h0m1 2h0m3-1h0m3 2h0m1 0h0m2-3h0m2 0h0m2 0h0m0 4h0m5 0h0m34-5h0m2 4h0m6 1h0m13-2h0m8-3h0m2 3h0m5 0h0m23-3h0m10 2h0m1 1h0m2-3h0m3 2h0m6-1h0m0 3h0m2-3h0m2 1h0m3 3h0m6 0h0m1-3h0m2-2h0m1 4h0m5 0h0m0-4h0m1 3h0m4-1h0m3-2h0m1 5h0m3 0h0m4-4h0m2 1h0m1 1h0m7 0h0m5-3h0m2 0h0m5 2h0m3 3h0m-386 5h0m1-2h0m3-1h0m3 1h0m7-2h0m1 5h0m1-5h0m8 0h0m5 3h0m5 1h0m4 0h0m3-4h0m1 1h0m5 3h0m26-3h0m3 2h0m1-3h0m3 1h0m3 4h0m6-4h0m2 3h0m6 0h0m1-3h0m2 0h0m5 1h0m0 2h0m1-3h0m13 4h0m4-1h0m2-3h0m2 3h0m5 0h0m4-1h0m2-3h0m13 3h0m4 1h0m4-1h0m3-3h0m3 3h0m3 1h0m6-2h0m8 2h0m1-3h0m1 3h0m3 0h0m2-1h0m3-1h0m2 3h0m3-2h0m2 2h0m7-4h0m3-1h0m12 0h0m13 4h0m16-1h0m1-1h0m1-2h0m2 5h0m1-1h0m1-2h0m6-1h0m6 3h0m32-3h0m10 1h0m1 0h0m18 1h0m5 0h0m2 1h0m5-2h0m4 0h0m0 2h0m6 1h0m1-4h0m5 0h0m1 3h0m4-1h0m1 1h0m3-2h0m2-2h0m1 0h0m2 4h0m7-1h0m0-1h0m16 0h0m3 1h0m7 2h0m-407 3h0m1-2h0m0 4h0m29-3h0m3 4h0m5-2h0m2-3h0m11 4h0m1-1h0m4 2h0m14-5h0m4 2h0m11 0h0m1 3h0m1-2h0m6 2h0m7-2h0m2 2h0m6-3h0m2 0h0m1 3h0m2-5h0m3 0h0m1 3h0m4 1h0m1-1h0m6-2h0m5 2h0m1-3h0m4 3h0m4 1h0m2-3h0m2-1h0m0 1h0m1 3h0m2 1h0m2 0h0m5-2h0m2-1h0m5 0h0m3 2h0m1-2h0m2 2h0m1-4h0m2 1h0m4 2h0m2-3h0m0 4h0m0-3h0m4 2h0m4 0h0m1-3h0m2 4h0m3-3h0m2 0h0m2 3h0m1 0h0m3-3h0m5 1h0m3-2h0m5 3h0m3-2h0m1 3h0m3-1h0m18-1h0m8 0h0m11 0h0m6 3h0m3-4h0m6 1h0m8 0h0m3 3h0m0-5h0m4 5h0m7-1h0m0-1h0m25-2h0m12 4h0m2 0h0m12-4h0m3 1h0m1 0h0m6 3h0m6-2h0m5-2h0m1 4h0m2-5h0m1 0h0m1 3h0m2-3h0m3 3h0m3-2h0m1 3h0m4 0h0m3-1h0m5 2h0m3 0h0m2-4h0m4 1h0m4 2h0m1-3h0m4 0h0m1 4h0m2-5h0m1 1h0m4 3h0m0-1h0m2 2h0m-419 5h0m39-2h0m3-1h0m7 2h0m6-2h0m1 4h0m4 0h0m6-2h0m2 2h0m10-1h0m5 0h0m8-3h0m3 0h0m5 3h0m3-3h0m3 0h0m0-1h0m12 1h0m0 1h0m3 1h0m1 1h0m4-3h0m2 3h0m2-4h0m1 4h0m4-1h0m4-2h0m1 0h0m1 4h0m1-2h0m3-1h0m5-1h0m1 0h0m1 3h0m4-1h0m8 0h0m4-1h0m9-1h0m0 4h0m2 0h0m1-1h0m2-3h0m2 0h0m3 2h0m3-2h0m5 2h0m3-1h0m4 2h0m0-4h0m6 5h0m1-3h0m2 2h0m8-3h0m2 3h0m1-4h0m0 4h0m5 1h0m41-4h0m2-1h0m1 5h0m0-5h0m2 3h0m1 1h0m6-1h0m9 0h0m1 1h0m1-1h0m5 2h0m2-4h0m2 0h0m3 4h0m2-2h0m35-3h0m10 1h0m8 2h0m3-2h0m1 4h0m1-4h0m2 2h0m4-2h0m0 1h0m3 0h0m2 2h0m9-2h0m2 1h0m3-2h0m5 2h0m2-2h0m0 4h0m5-4h0m4 2h0m3-2h0m2-1h0m1 5h0m9-2h0m2 1h0m3-4h0m2 0h0m2 3h0m4 0h0m1 1h0m-432 3h0m8 3h0m14-2h0m20-1h0m7 3h0m2-3h0m1 0h0m3 1h0m3 1h0m1 1h0m1-2h0m4 3h0m1-1h0m24-3h0m2 0h0m1-1h0m2 5h0m5-5h0m1 2h0m2-1h0m0 1h0m4 1h0m2-2h0m1 4h0m0-3h0m7 2h0m3 1h0m1-2h0m2-1h0m0 3h0m5-1h0m3-1h0m4-1h0m0 3h0m3-5h0m7 4h0m1-4h0m3 0h0m0 2h0m4-1h0m3 0h0m4 4h0m4-3h0m5 0h0m1-2h0m2 0h0m0 5h0m10-1h0m2 0h0m3-1h0m18 2h0m0-3h0m4 0h0m4-1h0m2 0h0m1 2h0m9 1h0m3-3h0m15 4h0m12-1h0m19-2h0m8-1h0m1 4h0m4-5h0m6 4h0m1 1h0m1-4h0m3 2h0m5-1h0m1-1h0m4 0h0m2 2h0m1 2h0m3 0h0m2-2h0m17-1h0m16 0h0m6-2h0m7 3h0m1 1h0m4-4h0m1 1h0m2 3h0m2-1h0m4 1h0m0-3h0m2 3h0m3 1h0m0-1h0m3-1h0m5-3h0m0 3h0m4 1h0m3 0h0m1 1h0m0-1h0m2 0h0m5 0h0m1-1h0m2-1h0m5 2h0m0-1h0m1-3h0m2 3h0m3-1h0m3 1h0m0 2h0m2-4h0m4 2h0m5 1h0m4 1h0m1-5h0m1 2h0m4 0h0m0 3h0m6-1h0m-419 4h0m17 2h0m1 1h0m8-1h0m1-3h0m5 0h0m1 3h0m8 1h0m0-1h0m19-3h0m9-1h0m0 4h0m2 1h0m3-1h0m4 0h0m4 0h0m4 0h0m2 0h0m5 0h0m9-1h0m1 1h0m1-3h0m3 3h0m3-1h0m4 0h0m1-1h0m1-1h0m1 2h0m2-1h0m8 0h0m2 1h0m2-3h0m3 4h0m1 1h0m3-5h0m7 0h0m1 5h0m7-5h0m1 5h0m3-3h0m3 3h0m11-4h0m1 4h0m5 0h0m0-3h0m2-1h0m2 2h0m2-3h0m2 5h0m1-5h0m1 1h0m3 0h0m1 2h0m3 2h0m2-2h0m3-3h0m1 2h0m2-2h0m1 3h0m6 2h0m36-4h0m11 2h0m4 0h0m6 0h0m4 0h0m7 1h0m2-3h0m6 1h0m8 0h0m0-2h0m1 5h0m42-1h0m4 1h0m11-5h0m7 1h0m0 1h0m4-1h0m1 2h0m6 0h0m4-3h0m5 1h0m7 2h0m4-3h0m3 5h0m8-4h0m5 1h0m3 0h0m2 1h0m0 2h0m5-1h0m3-2h0m1-1h0m2 3h0m0-3h0m4 2h0m1-2h0m2-1h0m6 3h0m-419 5h0m1 2h0m4 0h0m5 1h0m8-5h0m4 2h0m2-2h0m1 5h0m3-1h0m3-1h0m3-2h0m23-1h0m3 4h0m1-3h0m6 3h0m0-3h0m0 4h0m3-5h0m1 2h0m1 1h0m4-3h0m1 2h0m6 2h0m1-4h0m1 3h0m1-2h0m4 1h0m3 3h0m1-4h0m5 0h0m4 0h0m1 3h0m0-4h0m4 1h0m1 2h0m6-3h0m2 5h0m6-1h0m1-2h0m3 2h0m2-3h0m4 1h0m5 3h0m1-4h0m2 2h0m1-2h0m2 4h0m2 0h0m1-2h0m1-3h0m1 2h0m5 0h0m2 1h0m7-1h0m4-2h0m1 3h0m2 2h0m7-4h0m0 4h0m6-3h0m1 1h0m1 1h0m8 0h0m2 1h0m4-1h0m8-3h0m5 2h0m8 0h0m10 1h0m1 1h0m5-4h0m2 3h0m4-3h0m14 2h0m0-1h0m1 0h0m7 3h0m1-2h0m13-2h0m1 4h0m3-3h0m5 2h0m2 0h0m6 1h0m21-2h0m24 2h0m13-4h0m6 4h0m1-4h0m4-1h0m1 5h0m1 0h0m1-2h0m5-1h0m2-1h0m1 3h0m1-4h0m2 5h0m3-5h0m1 4h0m6-4h0m1 4h0m1-3h0m5 2h0m3-3h0m0 2h0m4-1h0m2 1h0m1 2h0m1-2h0m3-1h0m3 0h0m1 3h0m3-4h0m2 0h0m2 5h0m3-3h0m1-1h0m5 0h0m4 4h0m-456 5h0m15 1h0m3 0h0m10-1h0m3 0h0m2 1h0m4-4h0m3-1h0m5 3h0m0-1h0m3-2h0m2 1h0m2 4h0m3-5h0m1 4h0m2-1h0m4 2h0m1-4h0m11 1h0m1 1h0m17 2h0m2-5h0m2 0h0m4 3h0m6-1h0m3 0h0m1 1h0m1 0h0m0-2h0m3 0h0m2 4h0m7-2h0m2-2h0m2 3h0m1-2h0m2 1h0m6-1h0m4-2h0m5 3h0m4-1h0m0 1h0m5-1h0m3-2h0m5 2h0m3 2h0m1-1h0m9-2h0m1 3h0m5-1h0m4 1h0m6-4h0m0 4h0m4 1h0m4 0h0m1-3h0m2-2h0m0 5h0m3-2h0m1-2h0m4-1h0m5 2h0m3 3h0m3 0h0m2-5h0m2 2h0m0 2h0m4-3h0m15 1h0m20-1h0m5-1h0m7 5h0m2-3h0m2 1h0m1-3h0m3 5h0m3-3h0m1 3h0m1 0h0m1-5h0m2 2h0m4 1h0m7 2h0m1-4h0m3-1h0m3 4h0m6-3h0m9 1h0m1 2h0m31-3h0m7 1h0m1 3h0m38 0h0m1-5h0m6 3h0m0-1h0m2 2h0m3-1h0m5-1h0m2-2h0m10 0h0m7 2h0m2-2h0m8 2h0m4-1h0m6-1h0m0 3h0m4-3h0m2 3h0m5 1h0m-472 4h0m8-1h0m23 0h0m3 1h0m2-2h0m2 0h0m1 0h0m6 3h0m10 2h0m2-4h0m3 1h0m15 2h0m22-3h0m2 0h0m2 2h0m4-2h0m2 1h0m3-1h0m4-1h0m4 1h0m3 1h0m3 2h0m2-2h0m2 2h0m3-2h0m0 2h0m1-1h0m5-3h0m1 1h0m2 0h0m2 0h0m5-1h0m1 3h0m1-3h0m6 0h0m0 5h0m4 0h0m0-5h0m14 5h0m0-5h0m2 1h0m2 3h0m2-2h0m8 2h0m1-2h0m4 2h0m4-1h0m1-2h0m3 0h0m4 3h0m8-4h0m1 4h0m3 1h0m1-3h0m3 1h0m7-3h0m5 4h0m5-2h0m9 2h0m5-2h0m31 3h0m0-3h0m2 1h0m5 1h0m1-2h0m10 0h0m0 2h0m3 1h0m4-5h0m9 0h0m2 1h0m11 0h0m6 0h0m9 0h0m5 4h0m24-2h0m35-3h0m0 2h0m2 1h0m1-2h0m3 2h0m6-2h0m4 1h0m5 2h0m3 1h0m3-4h0m16-1h0m4 0h0m4 2h0m1 2h0m8-2h0m1 2h0m0-4h0m4 3h0m2 0h0m1-1h0m0 2h0m5-1h0m2 2h0m-487 1h0m3 0h0m36 1h0m1 0h0m0-1h0m5 3h0m8-3h0m0 4h0m3-3h0m3 2h0m3 0h0m4-3h0m2 4h0m0-2h0m2-2h0m4 3h0m21 0h0m8-3h0m3 1h0m2 4h0m2-2h0m12-3h0m5 4h0m8-4h0m1 0h0m8 3h0m0 1h0m2-1h0m0 2h0m3-3h0m11-1h0m1 4h0m6-1h0m3-4h0m2 4h0m5 0h0m1-4h0m6 3h0m6 1h0m2-2h0m0 2h0m4-3h0m4 3h0m4-1h0m2-3h0m2 4h0m6 1h0m1-4h0m3 0h0m5 1h0m2 2h0m3-1h0m0 2h0m2-5h0m5 2h0m4 3h0m1-2h0m11 2h0m13-5h0m33 3h0m10-2h0m1 1h0m3 2h0m1-2h0m5-1h0m2 3h0m5 0h0m5 1h0m2-4h0m2-1h0m0 2h0m10 2h0m2 1h0m8 0h0m6-1h0m5-4h0m2 5h0m42-2h0m7 1h0m1-4h0m11 1h0m1 2h0m6 2h0m5-3h0m2 3h0m5-2h0m1 2h0m5-1h0m4-2h0m1-2h0m8 1h0m3-1h0m1 3h0m5-1h0m5-2h0m3 4h0m0 1h0m2-3h0m2 3h0m3-2h0m0-3h0m1 1h0m2 3h0m0 1h0m1-2h0m4 1h0m1-1h0m2 2h0m3-1h0m-494 6h0m16 0h0m21 0h0m8-3h0m2-1h0m5 3h0m2-2h0m4-1h0m1 5h0m5-3h0m5 2h0m5-2h0m7-1h0m8-1h0m8 1h0m6 3h0m2-3h0m2 2h0m2-3h0m4 0h0m4 2h0m5-2h0m1 5h0m5 0h0m1-4h0m3 1h0m3-1h0m3 2h0m2-3h0m3 1h0m5 2h0m4 1h0m0 1h0m3-3h0m3-1h0m1 2h0m3-2h0m2 4h0m3-4h0m4 0h0m0 3h0m2 1h0m5-1h0m2 1h0m1-4h0m1 1h0m4-2h0m0 2h0m3 1h0m4-2h0m2-1h0m5 4h0m1-3h0m1 1h0m8 1h0m3 1h0m3-4h0m5 3h0m0 2h0m2-2h0m5 1h0m2-3h0m2-1h0m0 1h0m2 3h0m1 1h0m2-4h0m4 3h0m3 1h0m1-5h0m43 5h0m13-1h0m4-2h0m10 3h0m2-3h0m2-1h0m5-1h0m5 3h0m11-3h0m7 5h0m3-4h0m4 1h0m8 0h0m5 0h0m7 2h0m4-3h0m4 3h0m19-2h0m3-2h0m0 4h0m9-2h0m2 3h0m1-3h0m2-2h0m9 1h0m6 4h0m8-4h0m3 4h0m4 0h0m1-3h0m3 1h0m5-2h0m4 4h0m2-5h0m1 5h0m9-1h0m3 1h0m17-1h0m4-4h0m8 3h0m-488 5h0m14 2h0m11-4h0m5 4h0m1-3h0m7 4h0m4-4h0m4-1h0m5 0h0m1 3h0m3 2h0m5-1h0m5 1h0m4-2h0m23-3h0m3 5h0m1-5h0m1 4h0m7-1h0m2 2h0m3-2h0m4-2h0m3 0h0m1 4h0m2-4h0m4 3h0m4-1h0m2-2h0m2 0h0m1 1h0m5 1h0m2 2h0m2-3h0m2 2h0m5 0h0m1-1h0m1-3h0m2 4h0m4-2h0m5-1h0m0 4h0m6-1h0m0-3h0m3 1h0m2 2h0m1-2h0m3-2h0m1 3h0m9-3h0m1 3h0m3-1h0m5 2h0m0 1h0m4-3h0m0-2h0m8 2h0m5 1h0m4 1h0m7 1h0m3-5h0m6 1h0m1 4h0m2-3h0m1-2h0m1 3h0m50-3h0m4 0h0m1 1h0m0-1h0m1 5h0m3-1h0m13 0h0m4 1h0m7-5h0m4 1h0m6 3h0m12 0h0m10 0h0m4-4h0m3 3h0m3-2h0m3-1h0m6 4h0m10 1h0m1-4h0m2-1h0m4 0h0m3 1h0m3 0h0m1 3h0m3-2h0m5 0h0m3-2h0m0 2h0m4 3h0m1-3h0m2-2h0m3 2h0m2 3h0m4-4h0m3 4h0m7 0h0m7-4h0m4 1h0m3 0h0m3 1h0m2-1h0m4 1h0m5-1h0m13-1h0m5-1h0m5 2h0m0 2h0m3-3h0m5 0h0m2 4h0m3-1h0m5 1h0m0-3h0m-496 5h0m21 3h0m8-1h0m2 1h0m5-2h0m5 0h0m1-1h0m4 0h0m1-1h0m1 4h0m2 1h0m4-4h0m3 4h0m5-2h0m1 2h0m24-5h0m4 3h0m3-3h0m2 2h0m1-2h0m2 3h0m3 0h0m1-1h0m3-1h0m2 3h0m1 0h0m3-1h0m7-3h0m8 0h0m4 3h0m7-1h0m3 3h0m6-5h0m4 2h0m5 1h0m9 0h0m0-3h0m5 2h0m7 3h0m4-4h0m3 1h0m5-1h0m0 2h0m1 1h0m3-1h0m3-2h0m3 2h0m1-3h0m5 3h0m3-2h0m3 1h0m1 3h0m4 0h0m2 0h0m4-4h0m0 4h0m6-1h0m5 1h0m0-5h0m1 4h0m5-1h0m3 1h0m19-1h0m3 2h0m11 0h0m9-3h0m9-1h0m4-1h0m2 3h0m4-3h0m2 2h0m7 1h0m7 0h0m5 1h0m15-2h0m17 2h0m5 1h0m19-4h0m5 4h0m3-5h0m5 1h0m2-1h0m3 5h0m0-5h0m3 1h0m4 1h0m8 2h0m3-4h0m1 4h0m3 0h0m2 1h0m0-5h0m14 1h0m2 4h0m4 0h0m5-5h0m0 4h0m2-2h0m0-1h0m6 1h0m1 3h0m5-4h0m0 2h0m20 1h0m3-4h0m14 3h0m1-3h0m3 1h0m0 2h0m2-3h0m4 5h0m1-1h0m4 1h0m-512 1h0m28 3h0m13-3h0m3 3h0m2 1h0m1 1h0m1-3h0m3 1h0m0-2h0m8 1h0m3 1h0m4 1h0m1 1h0m3 0h0m16-5h0m2 0h0m6 4h0m4-4h0m7 0h0m2 4h0m3-3h0m2-1h0m2 1h0m5 0h0m8 3h0m1-3h0m3 4h0m1-4h0m2 2h0m1-1h0m2 2h0m2-1h0m6 0h0m2 1h0m1-3h0m2 4h0m1-2h0m1-3h0m3 3h0m1-1h0m3 1h0m1-2h0m2-1h0m1 5h0m5 0h0m3 0h0m2-5h0m1 5h0m6-1h0m5-3h0m0 4h0m6 0h0m0-5h0m1 4h0m1-3h0m5 2h0m7 0h0m3 2h0m1-4h0m4 1h0m1 3h0m7-3h0m1-1h0m3 0h0m4 1h0m3 1h0m1-3h0m5 0h0m10 4h0m4-4h0m27 1h0m1 2h0m11 0h0m4-1h0m8 1h0m0-3h0m2 0h0m3 5h0m6-1h0m4 0h0m4-1h0m4 2h0m1-1h0m6-3h0m28 2h0m6 2h0m8-3h0m3-1h0m10 4h0m2-1h0m2-3h0m8 1h0m8 1h0m17-2h0m14 4h0m2-2h0m4 2h0m8-1h0m2 0h0m4 0h0m1 1h0m2-5h0m5 5h0m1-4h0m2 0h0m2 2h0m2 1h0m4-3h0m2 0h0m2 2h0m6 0h0m1-2h0m3 1h0m4 0h0m4 3h0m3-2h0m9-2h0m0 4h0m0-5h0m3 5h0m2 0h0m1-4h0m2 3h0m4-3h0m0 2h0m-506 6h0m18 0h0m11 0h0m6 1h0m2-2h0m1-2h0m5 4h0m1-2h0m3 1h0m28-3h0m3 3h0m10-1h0m1 3h0m2-2h0m0-3h0m3 1h0m1 3h0m6 0h0m5-2h0m0 2h0m6 0h0m4-2h0m1 3h0m3 0h0m2-1h0m2-3h0m1 3h0m3-3h0m5 4h0m5-5h0m2 4h0m1-1h0m6 0h0m0-1h0m2-1h0m4 3h0m1 0h0m1-3h0m4 4h0m0-5h0m2 1h0m4-1h0m3 0h0m2 4h0m5-3h0m1 4h0m3-1h0m3-1h0m7 1h0m2 1h0m3-4h0m3-1h0m5 4h0m3 1h0m1-5h0m5 4h0m2 0h0m3-2h0m4-1h0m5 4h0m7 0h0m1-3h0m4 2h0m8-2h0m23 0h0m28 2h0m11 0h0m7 1h0m6-2h0m8-2h0m10 4h0m6-5h0m1 1h0m4 4h0m8 0h0m10-2h0m20-1h0m9-2h0m21 3h0m0-2h0m8 3h0m3-3h0m14-1h0m8 5h0m8-2h0m3-1h0m4 1h0m0 2h0m7-4h0m6 1h0m2 1h0m4-1h0m2 1h0m1-3h0m3 2h0m0 2h0m2-2h0m1 2h0m1-1h0m3-2h0m4 2h0m7-1h0m1 2h0m5 0h0m2-3h0m7 2h0m3 2h0m-542 6h0m1 0h0m1-5h0m13 3h0m41 0h0m0 1h0m4-2h0m3 1h0m1 1h0m0-3h0m2-1h0m3 4h0m3-1h0m2 2h0m6-5h0m17 3h0m3-1h0m4-2h0m1 4h0m5-2h0m15 0h0m0 3h0m8-1h0m0-4h0m2 4h0m5-2h0m2-2h0m6 4h0m2-3h0m2 2h0m5 1h0m0-3h0m2 0h0m4 0h0m1 4h0m1-3h0m2-2h0m1 3h0m8 1h0m5-4h0m9 1h0m10-1h0m1 5h0m3-2h0m9 0h0m3 0h0m5-2h0m4 0h0m1-1h0m6 2h0m8-2h0m1 5h0m5-1h0m1-1h0m1 0h0m1-1h0m3-2h0m3 0h0m8 4h0m1 1h0m6-3h0m36 3h0m9-5h0m9 1h0m7 4h0m8-2h0m14-2h0m12 3h0m47 1h0m3-4h0m16 0h0m8 0h0m16 0h0m13 3h0m3-4h0m7 0h0m4 2h0m4-2h0m2 0h0m1 5h0m5-1h0m2-3h0m3 2h0m2 2h0m1-5h0m3 1h0m5 1h0m2 2h0m2 1h0m2-3h0m4 1h0m4-1h0m5 3h0m1-5h0m4 3h0m1-3h0m3 1h0m6 3h0m0-3h0m4 0h0m3 4h0m-550 4h0m30 1h0m18-4h0m2 0h0m3 4h0m5-4h0m1 2h0m5-1h0m0 4h0m1-1h0m2-1h0m3-1h0m2 2h0m2-3h0m2 3h0m27-2h0m6-2h0m1 3h0m2-3h0m10 2h0m3 2h0m2 0h0m1-1h0m5-2h0m3 4h0m7-1h0m3 0h0m3-2h0m3 2h0m2-2h0m2 2h0m3 1h0m3-3h0m5-1h0m1 3h0m3-1h0m0 2h0m6 0h0m2 0h0m5-2h0m0-3h0m3 2h0m4-2h0m2 4h0m2-2h0m7 2h0m2 0h0m1-1h0m3 0h0m3 2h0m0-1h0m6-4h0m0 2h0m2 0h0m3 3h0m2-3h0m1 1h0m3-2h0m5-1h0m0 4h0m1-4h0m0 1h0m5 2h0m1-2h0m2 3h0m3 0h0m4-3h0m0 4h0m1-5h0m0 4h0m9-1h0m3 1h0m0-3h0m4 0h0m5 1h0m20-1h0m2 3h0m44 0h0m10 0h0m13 1h0m3-1h0m5 1h0m2-5h0m4 1h0m7 1h0m6-2h0m16 0h0m34 2h0m7 2h0m6-4h0m7 4h0m5 0h0m2-1h0m3 2h0m3-3h0m1-1h0m7-1h0m10 3h0m3-1h0m5 0h0m8-2h0m0 4h0m1-3h0m2 2h0m11 1h0m11-4h0m3 1h0m6 3h0m1-4h0m2 4h0m2 1h0m1-3h0m15 1h0m-548 5h0m19 1h0m6-2h0m5 0h0m11 1h0m4 1h0m3 0h0m2-3h0m8 5h0m3-3h0m3 1h0m4-3h0m0 3h0m26 1h0m1-4h0m2 4h0m0-3h0m7 0h0m0 4h0m3-5h0m10 1h0m1-1h0m5 4h0m5 0h0m4 0h0m4 0h0m6-1h0m1-3h0m3 3h0m1 2h0m0-5h0m7 1h0m0 3h0m10-4h0m0 2h0m7-1h0m3 3h0m1 0h0m7 1h0m1-3h0m4 1h0m2-3h0m8 1h0m4 1h0m4 3h0m5-3h0m2 3h0m3-4h0m1 3h0m2-4h0m8 2h0m1-1h0m7 0h0m4 0h0m5 4h0m1-4h0m4-1h0m0 2h0m4-2h0m4 1h0m0 4h0m0-5h0m2 0h0m1 2h0m3 1h0m6 2h0m67 0h0m8-2h0m15 0h0m5-3h0m4 5h0m4 0h0m12-4h0m2 0h0m0 4h0m10-5h0m30 3h0m12 2h0m10-2h0m3-3h0m2 2h0m6 1h0m18-3h0m1 3h0m5-1h0m6 3h0m10-1h0m1-4h0m1 4h0m7 0h0m1-4h0m2 0h0m2 1h0m2 3h0m3 0h0m1-3h0m3-1h0m7 3h0m1 2h0m5-1h0m2-3h0m6 4h0m1-4h0m3-1h0m5 1h0m2-1h0m2 5h0m3 0h0m0-3h0m5 1h0m6 2h0m-558 2h0m8 3h0m5-2h0m16 2h0m5-3h0m1 1h0m10 2h0m3 0h0m2-4h0m5 1h0m3 1h0m3-2h0m3 5h0m23-1h0m3-4h0m4 2h0m2 1h0m5 2h0m1-4h0m0 4h0m4-4h0m3 0h0m0 4h0m1-3h0m1 1h0m1 2h0m7-4h0m1 3h0m5-3h0m0 2h0m3 0h0m0-3h0m5 1h0m1 1h0m7 0h0m3-2h0m4 4h0m5-2h0m0 1h0m6 0h0m0 2h0m1-4h0m1 3h0m1 1h0m1-2h0m4-1h0m5 3h0m5-2h0m7-3h0m3 0h0m3 5h0m5-3h0m0-1h0m1 2h0m11-2h0m2-1h0m5 1h0m1 4h0m1-4h0m1 1h0m4 2h0m0-3h0m3 3h0m12-4h0m4 3h0m2 1h0m6-1h0m4-3h0m0 4h0m2 1h0m2-1h0m8 0h0m4-1h0m15-2h0m15 1h0m10-2h0m24 2h0m35 0h0m18-2h0m6 3h0m3-1h0m2-1h0m1 4h0m3-1h0m16-2h0m2-1h0m3 1h0m2 0h0m19-1h0m20 4h0m4-4h0m5-1h0m25 1h0m4 0h0m1 4h0m1-3h0m0-1h0m5 0h0m4-1h0m2 2h0m1-2h0m2 2h0m8 0h0m10 1h0m3-3h0m8 2h0m3 3h0m3-1h0m3 1h0m1-2h0m5-3h0m2 4h0m0 1h0m-568 2h0m9 1h0m5-1h0m3 3h0m24-2h0m2 2h0m0-3h0m3 1h0m3-2h0m3 4h0m3 0h0m7-2h0m0 3h0m1-1h0m3 1h0m0-5h0m31 0h0m1 4h0m2-3h0m4-1h0m2 3h0m2-1h0m4 2h0m0-3h0m5 2h0m5 1h0m5-3h0m0-1h0m8 5h0m2-3h0m7 2h0m3-1h0m1-3h0m7 4h0m0 1h0m0-3h0m1 0h0m2-1h0m2 2h0m2-2h0m2 1h0m3 2h0m3 1h0m5-2h0m3-1h0m2 3h0m3-4h0m3 0h0m1 4h0m2 0h0m3-5h0m5 5h0m5-1h0m3 1h0m2-5h0m5 2h0m3-2h0m6 3h0m3 0h0m0-3h0m2 1h0m3 2h0m4-2h0m3 0h0m2 1h0m1-2h0m2 1h0m4-1h0m0 4h0m3-1h0m2-2h0m2 0h0m0 2h0m2-1h0m1-1h0m4-1h0m4 4h0m5-1h0m3-1h0m2 3h0m0-5h0m5 4h0m2-3h0m2 3h0m0-1h0m34-3h0m4 0h0m19 5h0m55-2h0m13-3h0m4 2h0m6 2h0m4 0h0m7 0h0m8-2h0m20 2h0m8 1h0m2-3h0m2-1h0m3 4h0m12-2h0m5-2h0m16 2h0m2 2h0m3-2h0m10-1h0m7 2h0m3-4h0m2 3h0m6-2h0m1 3h0m5 0h0m5 0h0m3-4h0m1 5h0m5-4h0m3 1h0m3 0h0m6 3h0m3-5h0m0 4h0m3 0h0m2-3h0m3 4h0m-580 3h0m12 0h0m18-1h0m13-1h0m8 5h0m1 0h0m3-4h0m1 4h0m9-4h0m3 0h0m0 2h0m1 2h0m3-3h0m0 2h0m5 0h0m25 0h0m1-3h0m1 1h0m3 1h0m4-1h0m0-2h0m17 1h0m0 4h0m2 0h0m8-2h0m2-2h0m2 4h0m1-3h0m1 1h0m0-3h0m7 0h0m0 2h0m3 1h0m3 2h0m0-5h0m2 0h0m2 3h0m3 1h0m2 0h0m3 0h0m4-2h0m4 0h0m0-1h0m5-1h0m3 1h0m3 4h0m3-5h0m0 2h0m3 2h0m6-4h0m5 2h0m7 3h0m4-1h0m3 0h0m5-3h0m2 1h0m0 1h0m1 1h0m2-2h0m4 3h0m3-2h0m2 0h0m2-3h0m2 4h0m3 1h0m2-3h0m3-1h0m3 4h0m1-4h0m2 3h0m1-3h0m5 3h0m0-2h0m3 3h0m3-2h0m0-1h0m3 3h0m4-1h0m4-3h0m2 2h0m9 0h0m3 2h0m0-3h0m6 1h0m3-2h0m2 3h0m8-2h0m39 1h0m15-3h0m40 3h0m1-1h0m6 0h0m5-1h0m1 3h0m3-2h0m4-1h0m3 4h0m2-4h0m3 4h0m3-3h0m3 1h0m15 2h0m6-5h0m1 3h0m6-3h0m7 5h0m20-4h0m11 0h0m8-1h0m2 4h0m5-2h0m17-2h0m4 1h0m9 1h0m2 3h0m0-5h0m4 1h0m3-1h0m7 2h0m4 0h0m7 2h0m1-4h0m6 3h0m1-2h0m1 2h0m3-1h0m-586 4h0m1 1h0m3 2h0m5-3h0m25 3h0m6-3h0m6 5h0m1-5h0m4 3h0m3 2h0m2 0h0m3-1h0m2-2h0m2 0h0m1 3h0m2-5h0m8 0h0m1 2h0m0 2h0m24-2h0m2 2h0m2-4h0m1 0h0m2 5h0m1-5h0m4 5h0m2-5h0m4 3h0m3-3h0m7 1h0m4 0h0m7 4h0m4-1h0m1-1h0m2-1h0m2 3h0m0-5h0m3 4h0m2-1h0m3 0h0m0 2h0m1-5h0m8 1h0m6 1h0m1 2h0m4-1h0m6 0h0m6 0h0m4 0h0m5 2h0m1-5h0m3 2h0m2 0h0m2 3h0m5 0h0m1-2h0m3-3h0m3 0h0m5 0h0m2 3h0m1-3h0m0 4h0m3-1h0m0-3h0m6 3h0m7 1h0m3 0h0m3-2h0m10 0h0m9-2h0m5 3h0m5-2h0m3 4h0m0-3h0m6 2h0m1-3h0m5 4h0m0-5h0m2 5h0m1-3h0m2 1h0m11-2h0m2 3h0m2-2h0m2 1h0m3-1h0m3 2h0m3 1h0m21-5h0m13 2h0m7-1h0m49 2h0m10 0h0m2 2h0m5-2h0m5-3h0m2 0h0m4 4h0m1 0h0m7 1h0m4-2h0m3 2h0m3-2h0m8 1h0m4-2h0m9-2h0m3 1h0m4-1h0m15 4h0m8-2h0m9 0h0m14 2h0m1-4h0m8 1h0m2 4h0m17-4h0m3-1h0m3 2h0m2 2h0m1-2h0m4 0h0m8 3h0m0-3h0m7-2h0m-561 8h0m21 1h0m3-1h0m2-1h0m0 3h0m4-2h0m1 2h0m1-1h0m3-2h0m2 2h0m8-1h0m1 2h0m2-2h0m2 0h0m2 2h0m1-2h0m24-2h0m7 5h0m2-3h0m6 3h0m3-5h0m2 3h0m3-1h0m4-2h0m2 2h0m2-2h0m4 4h0m0-1h0m4 0h0m4 2h0m0-3h0m0-1h0m4 0h0m3-1h0m1 3h0m2 2h0m3-1h0m4-4h0m2 0h0m5 0h0m0 4h0m2-2h0m5 1h0m3-1h0m4-2h0m10 0h0m1 2h0m9 1h0m4-1h0m4-1h0m4 2h0m2 0h0m0-3h0m5 3h0m3-1h0m3 0h0m2-2h0m4 5h0m0-5h0m0 2h0m2-1h0m0 3h0m1-4h0m8 1h0m2-1h0m1 3h0m9-3h0m1 3h0m0 1h0m6-2h0m4 3h0m3-2h0m5 0h0m4-2h0m2 0h0m1 3h0m4-3h0m6 4h0m2-3h0m2-1h0m7 0h0m10 2h0m2-1h0m1 2h0m5-1h0m2-1h0m2-2h0m5 1h0m1-1h0m11 3h0m7 2h0m5-2h0m13-2h0m18 4h0m10-1h0m14 0h0m1-4h0m3 3h0m3 1h0m2-4h0m1 4h0m0-3h0m1 0h0m7 2h0m7-3h0m2 5h0m5-2h0m3-2h0m2 4h0m1-2h0m2-1h0m6-2h0m5 4h0m6 1h0m3-2h0m11-1h0m23 0h0m11-2h0m19 0h0m27 1h0m12 4h0m4-3h0m6 3h0m2-4h0m1 0h0m6 1h0m-553 9h0m8-5h0m1 2h0m9 1h0m4-2h0m4 1h0m3 2h0m9 0h0m3-1h0m0-3h0m1 4h0m5-3h0m1 4h0m7-1h0m4-1h0m5-3h0m8 4h0m1-2h0m2-2h0m1 1h0m2 1h0m1 3h0m2-1h0m2 1h0m1-2h0m3 1h0m2-1h0m3-2h0m7 4h0m4-5h0m2 4h0m1-2h0m7-1h0m1 4h0m6-1h0m3-3h0m0 4h0m4-3h0m1-2h0m2 2h0m2-1h0m4-1h0m1 1h0m1 4h0m4-2h0m4 1h0m1-4h0m4 1h0m2 4h0m1-1h0m3-2h0m4 1h0m5 2h0m2-3h0m5-1h0m1 1h0m3-1h0m3 2h0m1-2h0m3-1h0m1 4h0m0-3h0m3 1h0m1 2h0m8 1h0m2-3h0m1-1h0m6 1h0m0-1h0m2-1h0m5 0h0m3 5h0m1-2h0m4-1h0m5-2h0m0 2h0m11 2h0m9-4h0m2 4h0m6-3h0m0 3h0m5-4h0m0 4h0m2-2h0m3-2h0m1 5h0m2-3h0m1 1h0m3 1h0m0 1h0m6-4h0m1 0h0m1 4h0m2-2h0m3 0h0m3-2h0m1 4h0m1-5h0m7 1h0m2 0h0m9 1h0m1 2h0m1-4h0m2 2h0m3 1h0m0 2h0m4-4h0m0-1h0m1 4h0m5 0h0m3-1h0m0 2h0m0-5h0m2 3h0m1 1h0m4 0h0m28 1h0m3 0h0m2-4h0m0-1h0m1 3h0m6-3h0m4 1h0m2 4h0m1-1h0m4 1h0m1-2h0m1-3h0m1 3h0m6-1h0m1 3h0m6-2h0m1-3h0m3 1h0m3 4h0m1-1h0m3 1h0m1-5h0m0 4h0m5-4h0m1 2h0m2 0h0m4 1h0m0-3h0m2 5h0m4-5h0m1 2h0m1 1h0m6-1h0m5 1h0m1 1h0m2-4h0m0 4h0m22-3h0m13 4h0m12-4h0m4 0h0m2 3h0m2-4h0m0 1h0m2 2h0m3-1h0m3-2h0m11 5h0m0-3h0m5 3h0m17-4h0m2 2h0m3-3h0m3 2h0m-545 5h0m6-1h0m4 2h0m3 3h0m3-2h0m6 1h0m1-2h0m5 0h0m0-1h0m3 3h0m3 0h0m1-2h0m1 3h0m3-3h0m1-1h0m18-1h0m6 3h0m4-1h0m7 0h0m4 3h0m2-3h0m1 3h0m3-5h0m1 4h0m2-1h0m4-3h0m1 4h0m1 0h0m5 0h0m3-2h0m0-1h0m1 4h0m3-3h0m5 2h0m1-2h0m5 0h0m4-1h0m1 4h0m5-4h0m2 3h0m4-4h0m7 5h0m1-2h0m1-2h0m1 2h0m5-2h0m4 4h0m3-1h0m1-3h0m1 1h0m3 2h0m3-4h0m2 2h0m1-1h0m5 4h0m3-2h0m4 1h0m0-3h0m3 0h0m4 4h0m2-2h0m6-1h0m6 0h0m3-2h0m0 3h0m3-1h0m1 2h0m9 0h0m1 1h0m6-2h0m0 2h0m1-3h0m7 0h0m2-2h0m1 1h0m7 1h0m4 2h0m6-1h0m0 2h0m6-2h0m0 1h0m3-3h0m5 2h0m3 0h0m1-1h0m1-2h0m6 5h0m0-5h0m2 4h0m3-1h0m2 1h0m5-1h0m6 0h0m1-1h0m0 2h0m4-2h0m2-2h0m1 3h0m5-1h0m3 1h0m2-2h0m4 3h0m4-1h0m12-1h0m14-2h0m1 5h0m8-5h0m6 3h0m2-2h0m0 4h0m4-4h0m1 1h0m2-2h0m2 4h0m5-1h0m2 1h0m3 1h0m3-5h0m0 4h0m1 0h0m4 0h0m4-1h0m3-2h0m2 2h0m1 0h0m3 2h0m2-4h0m3 3h0m1-4h0m3 2h0m3-1h0m5 3h0m1-1h0m3 2h0m2-5h0m5 3h0m5 2h0m4 0h0m12-1h0m0 1h0m19-2h0m17-1h0m4 0h0m0 3h0m18 0h0m3-5h0m4 4h0m4 1h0m16-3h0m1 2h0m1 1h0m5-3h0m-551 9h0m6 0h0m2-4h0m0 4h0m9-5h0m4 4h0m3-4h0m0 2h0m2 3h0m1-1h0m3-4h0m5 4h0m4 0h0m1-1h0m6 2h0m0-5h0m0 2h0m2 1h0m2 0h0m25 0h0m0-3h0m8 2h0m3 1h0m1 2h0m3-3h0m2 1h0m2-3h0m1 5h0m3-1h0m1-2h0m2 3h0m2 0h0m2-4h0m10 2h0m2-3h0m5 1h0m1 2h0m5-1h0m2-2h0m7 3h0m0-3h0m3 1h0m12 2h0m2 1h0m4 1h0m0-1h0m4-2h0m7 3h0m0-1h0m6-3h0m1 1h0m8 2h0m6-2h0m4 2h0m2-4h0m2 5h0m6-4h0m7 4h0m1-3h0m5 1h0m0 2h0m3-1h0m1-3h0m4 0h0m1 3h0m3-1h0m5-1h0m3-2h0m4 2h0m5 0h0m1 1h0m1-3h0m3 2h0m3-1h0m3 4h0m3-4h0m3 4h0m3-1h0m5-1h0m4 1h0m2-3h0m1 3h0m5-1h0m5 1h0m2-3h0m1 4h0m3-5h0m2 4h0m1 1h0m0-5h0m5 1h0m4 1h0m2 3h0m7-1h0m1-3h0m0 1h0m3 0h0m0-2h0m3 1h0m2 4h0m2-1h0m1-3h0m2-1h0m2 2h0m1-2h0m5 0h0m3 0h0m1 3h0m4 0h0m4 1h0m4-2h0m3 2h0m1-4h0m5 1h0m1 1h0m3 2h0m7-1h0m1 0h0m1 2h0m2-4h0m2-1h0m10 4h0m1-2h0m7 2h0m3-2h0m4-1h0m0 3h0m2-3h0m0 2h0m4-1h0m8 2h0m5 1h0m0-1h0m3 1h0m0-3h0m8-2h0m0 2h0m1 0h0m1-1h0m4 0h0m5 4h0m3-1h0m7 0h0m1-3h0m5 2h0m0-3h0m4 4h0m5 1h0m23-5h0m3 0h0m6 2h0m2-1h0m2 2h0m2-2h0m1 1h0m13 2h0m2 0h0m17-1h0m4-1h0m3-1h0m5 0h0m0 4h0m-552 2h0m25 3h0m3-1h0m2-2h0m0 2h0m0 2h0m4-3h0m4 3h0m0-5h0m1 2h0m10-2h0m2 3h0m4 2h0m5 0h0m0-4h0m26 4h0m6-1h0m2 1h0m3-1h0m4-2h0m3-2h0m0 2h0m3 1h0m1-2h0m0 4h0m3-4h0m4 3h0m0-3h0m2 3h0m4-1h0m3-1h0m4 0h0m3-2h0m0 3h0m0 2h0m4 0h0m1-4h0m5-1h0m4 2h0m0-2h0m7 2h0m0 3h0m0-5h0m1 3h0m3 1h0m0 1h0m3-2h0m1 2h0m4-4h0m0 2h0m2 1h0m1-3h0m3 2h0m6 0h0m2-3h0m3 4h0m1-2h0m2 1h0m2 2h0m0-5h0m8 4h0m3 0h0m3-4h0m4 2h0m1 0h0m1-2h0m1 1h0m5 3h0m8-3h0m3 4h0m1-2h0m1-2h0m3 0h0m0 2h0m3 2h0m1 0h0m1-3h0m6 1h0m0 2h0m1-1h0m3 1h0m4-3h0m5 0h0m1 1h0m7 2h0m8-4h0m2 3h0m2-2h0m1 0h0m7 3h0m6-2h0m0-2h0m5 0h0m3 3h0m2 1h0m2-4h0m2 4h0m4-3h0m1 2h0m2-2h0m4 3h0m9-1h0m3 1h0m3-5h0m2 1h0m2 4h0m2-4h0m7 4h0m1-1h0m4 0h0m1-3h0m3-1h0m2 4h0m0-3h0m5 3h0m0-3h0m3 4h0m0-5h0m1 2h0m3 0h0m3-2h0m1 5h0m1-5h0m2 3h0m5 0h0m8-2h0m3 1h0m4 3h0m11-4h0m1 1h0m2 0h0m2-1h0m1 2h0m3 2h0m2 0h0m7-2h0m6 0h0m0-1h0m8 2h0m0 1h0m1-3h0m2 2h0m2-4h0m1 4h0m4-2h0m2 0h0m10 0h0m5 3h0m1-2h0m3-2h0m2 4h0m4-1h0m2 1h0m1-1h0m4-3h0m7-1h0m6 3h0m9 0h0m4-3h0m9 0h0m6 1h0m3 4h0m3-1h0m20 1h0m6-2h0m1 0h0m-548 7h0m4 0h0m0-3h0m20-1h0m7 1h0m2-1h0m5 2h0m2 3h0m3-1h0m2-3h0m2 0h0m4 3h0m4 0h0m3 1h0m1-5h0m19 3h0m10 2h0m0-5h0m2 2h0m6 2h0m4 1h0m4-3h0m5 3h0m9 0h0m3 0h0m0-3h0m1-1h0m6 4h0m5-3h0m0 2h0m1 1h0m3-5h0m0 2h0m3 3h0m3-5h0m6 5h0m3-1h0m1-3h0m3 1h0m4-1h0m3 3h0m3-3h0m1-1h0m2 5h0m4 0h0m2-4h0m1 4h0m4-4h0m2 2h0m2 1h0m2 1h0m2-5h0m2 1h0m1 1h0m4 3h0m2-3h0m2 0h0m6 3h0m0-3h0m2 3h0m1-3h0m6 0h0m3-1h0m3 1h0m6-1h0m5 3h0m0 1h0m4-2h0m5 2h0m0-5h0m2 1h0m2 3h0m6-2h0m0 2h0m4-4h0m1 5h0m4-2h0m0-3h0m1 5h0m6 0h0m3-2h0m2-1h0m0-2h0m4 5h0m8-4h0m2 2h0m2 1h0m2-4h0m1 1h0m2 3h0m5-2h0m1 2h0m2-2h0m2 1h0m0 2h0m6 0h0m1-5h0m1 5h0m5 0h0m1-2h0m1-2h0m2 0h0m1 3h0m4-4h0m2 3h0m0-3h0m9 5h0m3-2h0m1 0h0m0-1h0m4 0h0m1 2h0m1-1h0m1-2h0m2 1h0m3-1h0m1 3h0m3 1h0m6-1h0m3-4h0m2 1h0m1 1h0m5-2h0m1 4h0m0 1h0m5-4h0m8 4h0m1 0h0m2-5h0m3 2h0m1-2h0m3 1h0m8 0h0m8 1h0m0 2h0m4 1h0m3-4h0m1 4h0m5-5h0m3 0h0m2 3h0m5-1h0m5-1h0m4 0h0m3 2h0m1-2h0m2-1h0m0 2h0m2 1h0m2-2h0m1 1h0m5 2h0m4-1h0m2 0h0m0-3h0m6 2h0m1 3h0m4-1h0m3 0h0m1-2h0m4-2h0m4 3h0m5-1h0m10 3h0m12-3h0m27 3h0m3-2h0m-519 3h0m2 5h0m7-1h0m0-3h0m6 2h0m4-2h0m2 2h0m7-3h0m5 5h0m2-4h0m10 0h0m24 2h0m4 0h0m2-3h0m1 0h0m2 0h0m1 5h0m2-1h0m1-4h0m3 2h0m5-2h0m1 0h0m6 0h0m0 5h0m10-3h0m9 2h0m1-3h0m12 4h0m4 0h0m6-2h0m10 0h0m0-3h0m4 2h0m5 2h0m3-2h0m4 2h0m2 1h0m1-5h0m1 1h0m2 3h0m6 0h0m2 1h0m1-4h0m2-1h0m6 5h0m1-2h0m3-1h0m5-2h0m2 0h0m0 2h0m2 2h0m0 1h0m2-5h0m1 4h0m5-1h0m2 1h0m2-2h0m3 3h0m0-3h0m5 0h0m0 2h0m3-2h0m1 1h0m2-3h0m4 2h0m2 3h0m2-2h0m6 0h0m3 0h0m9 0h0m9 2h0m6-5h0m3 4h0m3-2h0m7-1h0m1 3h0m2-3h0m1-1h0m9 5h0m0-4h0m2 3h0m2 1h0m4-5h0m2 4h0m3 1h0m1-1h0m3 0h0m6-2h0m4 0h0m0 3h0m2-5h0m1 4h0m6-1h0m3-1h0m0-2h0m4 4h0m1-4h0m4 5h0m2-5h0m0 4h0m5-3h0m2 0h0m2-1h0m3 1h0m1 2h0m2 0h0m5 1h0m3-4h0m4 3h0m1 0h0m3 0h0m1-2h0m5-1h0m1 4h0m3-4h0m1 3h0m7-2h0m3 2h0m1 2h0m1 0h0m1-4h0m7 2h0m4 2h0m0-5h0m2 5h0m3-2h0m3-2h0m1 2h0m3 1h0m2-4h0m1 5h0m1-4h0m7 4h0m3-2h0m4-1h0m3 2h0m3-1h0m9-2h0m3-1h0m8 1h0m3 1h0m2 2h0m3-3h0m1 4h0m2-5h0m16 3h0m20 0h0m1-1h0m-537 8h0m18 0h0m4-3h0m0-1h0m0 4h0m2-2h0m3-1h0m9 2h0m0-1h0m3 3h0m4 0h0m2-4h0m1 4h0m1-2h0m3 2h0m1-4h0m17 3h0m0 1h0m29-2h0m2 0h0m1 0h0m9 0h0m2 2h0m2-2h0m2 0h0m4 2h0m4-3h0m5 2h0m3-4h0m1 5h0m3-5h0m0 4h0m3-3h0m4 0h0m4 4h0m7-3h0m3 1h0m2 1h0m3-1h0m4 2h0m1-3h0m4 2h0m2-2h0m1 0h0m3-2h0m1 1h0m2 4h0m1-5h0m10 1h0m3 2h0m2-3h0m3 0h0m0 3h0m2 0h0m3-3h0m7 1h0m3 3h0m4-4h0m0 1h0m1 4h0m6-1h0m6-1h0m1 2h0m2-3h0m5 0h0m5-2h0m6 2h0m2 2h0m2-2h0m1 2h0m1-2h0m2 1h0m4-1h0m2 3h0m5 0h0m4-5h0m2 4h0m3-1h0m6 0h0m7-2h0m1 4h0m5-3h0m2 1h0m6 2h0m3-1h0m4-2h0m3 1h0m5 1h0m3-3h0m1 3h0m6 0h0m0-2h0m8-1h0m2-1h0m3 4h0m1-4h0m1 1h0m0 3h0m4-3h0m2 4h0m2-2h0m13 0h0m2-2h0m2 3h0m4-2h0m6 2h0m1 0h0m1-2h0m9 1h0m0-3h0m1 5h0m3-1h0m1 1h0m5-3h0m6 3h0m0-2h0m10-2h0m1 4h0m4-2h0m1 1h0m5 1h0m4-3h0m2-1h0m4 0h0m2-1h0m2 2h0m0 2h0m3 0h0m2-4h0m7 3h0m3 2h0m2-4h0m1-1h0m1 4h0m2-4h0m2 1h0m5 0h0m2 0h0m2 1h0m8 1h0m3-2h0m0-1h0m27 5h0m15-2h0m17 0h0m-514 5h0m0 3h0m6-2h0m2-1h0m2-1h0m4 3h0m6 0h0m3 1h0m1-5h0m2 5h0m3-4h0m3 3h0m1 1h0m0-3h0m4-1h0m2 2h0m4 0h0m15-3h0m7 5h0m12-5h0m2 1h0m7 0h0m4 2h0m1 2h0m2-2h0m3-2h0m3 3h0m2-2h0m10 2h0m5 0h0m1-1h0m3 1h0m3-1h0m14-2h0m8-1h0m1 2h0m6 3h0m0-3h0m2-1h0m0-1h0m5 1h0m3 3h0m0-4h0m4 2h0m0 2h0m4-1h0m4 0h0m1 1h0m1-3h0m0-1h0m2 4h0m1-3h0m4 3h0m2-2h0m5 0h0m5-1h0m3 2h0m4 2h0m1-3h0m4-2h0m0 3h0m2 0h0m1 2h0m1-2h0m4 0h0m0-3h0m2 5h0m1-1h0m0-3h0m4 1h0m8 0h0m1 0h0m3 3h0m4-1h0m3-1h0m4-1h0m2 2h0m2-1h0m4 0h0m2-1h0m4-2h0m0 2h0m5 0h0m0-1h0m5 3h0m3-4h0m1 2h0m3 0h0m2 3h0m2-2h0m1-2h0m1 4h0m2-4h0m2 4h0m1-3h0m5 2h0m4-4h0m4 3h0m4 2h0m2-3h0m2 3h0m3-2h0m2 1h0m1-2h0m1 1h0m2 2h0m7-3h0m5 2h0m1 1h0m4-1h0m2-4h0m1 2h0m8 2h0m5-3h0m5 1h0m2 0h0m3 3h0m0-2h0m4 1h0m4 1h0m2 0h0m1-3h0m2 1h0m1-3h0m4 3h0m3-2h0m1 2h0m8-2h0m9-1h0m2 3h0m7 0h0m4 1h0m3-4h0m3 2h0m1-2h0m4 2h0m1-2h0m4 3h0m3-1h0m0 2h0m4-2h0m7 1h0m4 0h0m3-3h0m1 1h0m5 1h0m3 1h0m1-3h0m14 5h0m5-1h0m3-2h0m22 2h0m-497 2h0m3 5h0m1-3h0m6 0h0m1 1h0m4 2h0m2-2h0m0-1h0m1 3h0m1-4h0m4 1h0m4-1h0m3 1h0m5-1h0m4 1h0m1 3h0m1-1h0m2-4h0m2 2h0m3 1h0m20-3h0m19 4h0m11-4h0m0 3h0m1-1h0m3 2h0m3-4h0m0 2h0m2 3h0m5-3h0m11 3h0m2-4h0m2 4h0m1-4h0m6 2h0m0 2h0m5-5h0m4 0h0m3 5h0m2 0h0m2-1h0m5 0h0m1-4h0m3 0h0m1 5h0m3-2h0m6 1h0m1 1h0m3-4h0m5 3h0m5 0h0m5-4h0m2 1h0m1 4h0m1-5h0m1 1h0m3 2h0m3-1h0m4 0h0m3-2h0m1 4h0m1 1h0m2-3h0m7-2h0m0 5h0m2-4h0m5 0h0m2 3h0m3 0h0m2-2h0m2-1h0m3 2h0m2 1h0m1-3h0m4 3h0m3 0h0m4 1h0m0-1h0m6-1h0m2-1h0m4 0h0m4 0h0m1-2h0m2 4h0m7-1h0m3-1h0m5 1h0m5 1h0m2-2h0m3 1h0m2 1h0m2-2h0m2 2h0m12-3h0m3 2h0m1 1h0m2-2h0m9-1h0m0 2h0m3-1h0m4 0h0m1 0h0m2-2h0m2 3h0m4 2h0m3 0h0m2-4h0m1 1h0m2-1h0m3 0h0m1 4h0m3-5h0m0 1h0m3 3h0m3-3h0m5 2h0m4-1h0m3-2h0m0 2h0m3 2h0m2 1h0m1-2h0m5 1h0m3 0h0m5-1h0m1-1h0m5 2h0m2-3h0m4 0h0m2 1h0m2 3h0m1-3h0m5 1h0m4-3h0m3 1h0m7 0h0m1 3h0m0-3h0m4-1h0m2 5h0m1 0h0m7-1h0m5-4h0m0 3h0m3 1h0m1-4h0m1 4h0m26-1h0m4 1h0m6-4h0m-502 10h0m6 0h0m7-2h0m2-2h0m5 0h0m0 4h0m1-1h0m1-3h0m2 4h0m1 1h0m8-3h0m2 2h0m4-2h0m2-1h0m1 2h0m7-2h0m0 2h0m9-2h0m3 3h0m24 0h0m4-4h0m19 3h0m0 2h0m0-3h0m13 3h0m3-2h0m1-3h0m3 5h0m3-2h0m6 2h0m1-2h0m3 0h0m8-1h0m3-2h0m1 3h0m2 0h0m2-1h0m4 0h0m1 0h0m6 2h0m11-3h0m4 3h0m2 1h0m5-4h0m2 1h0m3 0h0m1 3h0m2-4h0m1 3h0m1 1h0m10 0h0m0-5h0m2 3h0m4 2h0m2-2h0m6 0h0m3 0h0m1-3h0m1 5h0m7-4h0m2 4h0m2-5h0m1 1h0m3 4h0m3-5h0m1 0h0m4 1h0m3 2h0m8-1h0m1 2h0m0-3h0m3 1h0m1 3h0m6 0h0m4-1h0m7-2h0m4 1h0m3 1h0m3 0h0m3 0h0m3-4h0m5 4h0m3-4h0m1 4h0m3-2h0m4 3h0m2-2h0m1-3h0m5 3h0m3 1h0m3 1h0m9-3h0m6-1h0m3 0h0m0 4h0m3-3h0m12 2h0m0-3h0m5-1h0m2 4h0m2-2h0m4 1h0m1-2h0m3-1h0m2 2h0m3 1h0m2 2h0m5-2h0m1-1h0m4 0h0m3-2h0m0 4h0m2-2h0m1-1h0m3 1h0m2-2h0m2 4h0m1-4h0m2 4h0m3-3h0m1 2h0m6 0h0m11-1h0m0-1h0m4 0h0m2 2h0m1 0h0m5 0h0m2-1h0m4-1h0m3 1h0m9 2h0m11-1h0m16 2h0m10-2h0m12-2h0m-503 9h0m3 1h0m5-5h0m4 1h0m8 1h0m3-1h0m3 2h0m1 0h0m2-3h0m1 3h0m4-3h0m6 0h0m1 5h0m1-5h0m1 5h0m2-3h0m3-1h0m1 3h0m5-3h0m0 2h0m2-2h0m1 4h0m1 0h0m1 0h0m2-3h0m2 3h0m47-3h0m3 0h0m5-2h0m4 0h0m2 2h0m2 0h0m1 1h0m3 1h0m1-3h0m2 2h0m3-1h0m3 0h0m1-1h0m4 0h0m0 2h0m10 2h0m4-1h0m2-2h0m1 1h0m2 2h0m2 0h0m3-4h0m6 4h0m1 0h0m4 0h0m1-5h0m1 4h0m2-2h0m2 2h0m6 1h0m3-5h0m3 2h0m4 1h0m5-1h0m1 1h0m3-2h0m9 1h0m3-1h0m3 0h0m5 4h0m1-4h0m6 2h0m4-3h0m4 3h0m0-3h0m2 0h0m2 3h0m0 2h0m4-1h0m2-2h0m5-2h0m3 5h0m6-2h0m3-3h0m1 4h0m3 0h0m0-4h0m3 4h0m4-4h0m0 2h0m5-2h0m1 0h0m1 5h0m3-2h0m0-3h0m3 5h0m1-5h0m1 0h0m4 0h0m2 2h0m1 0h0m3-2h0m3 2h0m1 0h0m3 3h0m2-3h0m4-1h0m2 1h0m3 3h0m1-1h0m0 1h0m2-4h0m7 0h0m2 2h0m7-2h0m2 3h0m3-4h0m1 5h0m5-4h0m2-1h0m3 2h0m18 0h0m5 0h0m2-2h0m2 4h0m3 1h0m2 0h0m2-5h0m1 4h0m0-3h0m1 4h0m6 0h0m1-4h0m6 4h0m0-4h0m3 4h0m3-4h0m2 2h0m2-2h0m2 2h0m2-1h0m3 2h0m2-3h0m2-1h0m5 3h0m0 2h0m1-3h0m1-1h0m2 3h0m6 0h0m7 1h0m0-5h0m5 0h0m10 0h0m4 3h0m1 2h0m3-2h0m10-2h0m4 4h0m5-3h0m-492 4h0m17 2h0m15-1h0m1 0h0m3 1h0m1 1h0m3-1h0m3 3h0m1-3h0m5 1h0m1-3h0m4 3h0m2 0h0m2-2h0m8 3h0m10-4h0m14 5h0m2-1h0m7 1h0m5-1h0m17-1h0m3-3h0m7 3h0m1-3h0m7 5h0m1-1h0m2-4h0m2 1h0m0 4h0m4-4h0m0 4h0m8 0h0m5-3h0m1 1h0m1 2h0m1-3h0m1 1h0m4-3h0m5 1h0m1 1h0m2 3h0m11-2h0m8 1h0m4 1h0m0-5h0m3 0h0m1 5h0m8 0h0m1-3h0m3 2h0m2 0h0m5 1h0m2-5h0m1 3h0m2-2h0m3 0h0m2-1h0m7 1h0m2 4h0m1-1h0m2-2h0m2 3h0m1-5h0m6 2h0m1 2h0m5 1h0m8-2h0m4 1h0m3 1h0m2-4h0m1 2h0m2-2h0m2 0h0m1 2h0m7 0h0m5 2h0m4-5h0m4 4h0m3-2h0m5 2h0m4-2h0m2 1h0m2 1h0m1-4h0m1 3h0m9 1h0m0-4h0m2 0h0m3 0h0m0 5h0m3-2h0m1-2h0m2 4h0m4-5h0m5 4h0m1 0h0m4-4h0m0 4h0m2-1h0m1-1h0m2 0h0m3 1h0m1-3h0m2 4h0m4-3h0m3 3h0m0-1h0m0 2h0m4-5h0m1 5h0m4 0h0m1-5h0m4 4h0m1-3h0m1-1h0m3 4h0m1 1h0m3-1h0m9-3h0m3 0h0m0 4h0m2-4h0m1 4h0m5-3h0m5 2h0m3 0h0m1-3h0m5 3h0m5 1h0m7-3h0m5 1h0m0-3h0m3 0h0m1 1h0m5 4h0m17 0h0m2-4h0m15 0h0m7 0h0m-456 10h0m3 0h0m7 0h0m1-5h0m3 2h0m2 1h0m6 1h0m6-2h0m1 3h0m5 0h0m10-3h0m7 1h0m15-2h0m15 0h0m22 0h0m7-1h0m7 1h0m1 2h0m3-1h0m3 2h0m3-3h0m2-1h0m4 0h0m4 5h0m0-5h0m1 5h0m6-2h0m4-2h0m5 3h0m2 0h0m2-4h0m2 1h0m11 4h0m2-3h0m1-1h0m2 3h0m4-4h0m2 0h0m3 3h0m0-3h0m6 0h0m2 5h0m2-4h0m2-1h0m2 3h0m1-1h0m2 2h0m2-1h0m2-1h0m3 2h0m1 0h0m9 1h0m4-2h0m4 2h0m1-5h0m3 1h0m2 4h0m1-5h0m3 3h0m2-3h0m2 4h0m6 0h0m1-2h0m4-1h0m1 3h0m4-1h0m3 2h0m6-4h0m3 0h0m1 3h0m1-1h0m5-2h0m5 3h0m2-3h0m2 0h0m3-1h0m0 4h0m3 1h0m0-4h0m1-1h0m10 2h0m3 1h0m2-2h0m7 3h0m2 1h0m0-3h0m4 2h0m8-2h0m3 0h0m0 1h0m3 2h0m1-4h0m1 3h0m1-4h0m4 5h0m1-3h0m1 3h0m2-5h0m3 2h0m2-2h0m6 5h0m3-5h0m2 2h0m1-2h0m7 1h0m4-1h0m1 5h0m1-2h0m4 2h0m4-1h0m1-3h0m0 2h0m4 0h0m2-1h0m4 2h0m0-4h0m5 4h0m7-4h0m3 1h0m1 0h0m17 2h0m8-3h0m12 2h0m6-2h0m2 1h0m-474 5h0m4 2h0m29-2h0m3 3h0m1-1h0m1 2h0m2-4h0m6 1h0m6 1h0m2 2h0m2-3h0m2 2h0m4 1h0m4-2h0m4 3h0m6 0h0m6-4h0m61 1h0m3-2h0m1 3h0m7-2h0m1 4h0m3-1h0m5-3h0m4 1h0m2-1h0m3 0h0m5 0h0m13 1h0m5 3h0m0-4h0m4 0h0m0 4h0m3-5h0m0 5h0m3-4h0m2 2h0m6-2h0m5 3h0m4-2h0m0 2h0m1 0h0m5 0h0m2-2h0m3 0h0m11-2h0m0 2h0m3-1h0m6 4h0m2 0h0m1-4h0m3 2h0m1 2h0m2-1h0m1-4h0m3 1h0m4-1h0m0 4h0m4-2h0m3 2h0m3-2h0m3 3h0m0-5h0m1 3h0m0-3h0m5 1h0m2 2h0m3-3h0m5 2h0m2 3h0m2-4h0m8 0h0m3 3h0m2-3h0m3 2h0m1 0h0m5 2h0m2 0h0m2-3h0m1-1h0m1 3h0m4 0h0m4-2h0m1 3h0m4-1h0m4 0h0m3 1h0m1-3h0m5 1h0m3 0h0m4 0h0m6 0h0m2-2h0m4 2h0m3 2h0m0-3h0m2 1h0m4-2h0m5 2h0m5 0h0m5 1h0m3-2h0m2-1h0m5 2h0m1 2h0m2-1h0m2-4h0m2 3h0m6-3h0m3 4h0m10-3h0m35 1h0m-457 8h0m24 1h0m2-4h0m3 3h0m6-4h0m2 0h0m0 4h0m3-1h0m5 2h0m0-5h0m5 3h0m5-1h0m2 2h0m1 1h0m1-2h0m6-2h0m3 3h0m2-4h0m2 3h0m25-1h0m22 0h0m19-2h0m5 1h0m13 0h0m1 0h0m4 1h0m3 1h0m5 1h0m2 1h0m1-4h0m3 0h0m1 0h0m4 1h0m4 0h0m7 3h0m3-4h0m4-1h0m2 3h0m8 0h0m1-3h0m2 5h0m5 0h0m2-5h0m6 1h0m1 0h0m6 1h0m1-2h0m3 1h0m2 3h0m2 0h0m3-3h0m4 2h0m1-2h0m5 2h0m3-3h0m1 4h0m1-1h0m0 2h0m3 0h0m3-2h0m4 1h0m4 1h0m3-4h0m1 3h0m4-4h0m3 4h0m1-4h0m0 4h0m10 1h0m0-5h0m8 1h0m2 4h0m0-2h0m8-1h0m1-1h0m3 4h0m3-1h0m1-2h0m4 1h0m1 2h0m3 0h0m4-1h0m2-4h0m1 1h0m3 0h0m1 2h0m4-2h0m4 3h0m2-3h0m3-1h0m1 4h0m3-3h0m5 2h0m0 1h0m1 0h0m9-3h0m4 2h0m4 2h0m1-5h0m2 4h0m2-3h0m1 1h0m10-1h0m2 0h0m4 3h0m3-2h0m2-1h0m1 3h0m13-3h0m5-1h0m12 1h0m2 0h0m8 4h0m9-2h0m2-3h0m-450 7h0m28 0h0m3 1h0m4 1h0m2 1h0m2-3h0m5-1h0m1 2h0m5 1h0m5 2h0m0-5h0m6 4h0m3 1h0m4-3h0m3 1h0m1-2h0m8 4h0m1-1h0m2 1h0m5-2h0m4 2h0m26 0h0m2-4h0m9 0h0m2 3h0m33 0h0m4-2h0m4-1h0m0 4h0m2-5h0m0 4h0m7-2h0m3 3h0m2-3h0m3 1h0m2-2h0m1 2h0m1-2h0m4 2h0m1 0h0m5-1h0m4 0h0m3 0h0m5 3h0m2-1h0m1-2h0m6 1h0m2-2h0m2 1h0m8-2h0m2 1h0m2 0h0m2 0h0m4 2h0m1 1h0m6-2h0m7 2h0m2-3h0m9 0h0m5 4h0m3-5h0m4 1h0m5 2h0m0 2h0m5 0h0m0-3h0m2-1h0m3 1h0m2-1h0m3 4h0m1-3h0m1-1h0m2 0h0m0-1h0m2 4h0m2-4h0m3 3h0m4 2h0m2-4h0m1 1h0m9 0h0m1-2h0m0 3h0m3-3h0m5 0h0m4 4h0m0 1h0m3-1h0m2-4h0m2 2h0m1 3h0m1-2h0m6 2h0m4-5h0m3 4h0m1 1h0m7-1h0m4 1h0m1-2h0m7 0h0m12-2h0m2 3h0m11 1h0m7-3h0m9 2h0m2-2h0m6 1h0m9-3h0m-407 10h0m4 1h0m1-5h0m8 4h0m0-1h0m4-3h0m2 3h0m2 2h0m1 0h0m3-1h0m2 1h0m4-1h0m5-1h0m4-2h0m1 3h0m3 1h0m7-4h0m5 3h0m2-4h0m3 2h0m2-1h0m4 2h0m2 1h0m5-1h0m4 2h0m40-1h0m35-4h0m3 1h0m2 3h0m1-1h0m2-2h0m1 2h0m4-2h0m1 1h0m2 2h0m2-3h0m3-1h0m1 0h0m4 4h0m3 0h0m6-1h0m2-2h0m0 4h0m2-5h0m2 1h0m2 3h0m4 0h0m2-4h0m3 5h0m2-4h0m0 2h0m1-2h0m5-1h0m3 2h0m1 2h0m5 1h0m3-1h0m3-3h0m0 4h0m2 0h0m1 0h0m7-2h0m0 2h0m3-1h0m6-4h0m7 3h0m6 1h0m1-2h0m3 3h0m0-3h0m4 2h0m1-4h0m1 3h0m1 2h0m8-5h0m0 2h0m3 1h0m5-2h0m3 0h0m3 0h0m1 4h0m5-3h0m5 1h0m4-2h0m2 1h0m2-2h0m1 4h0m4-1h0m2-1h0m0-2h0m3 5h0m2 0h0m7-2h0m9-1h0m12-1h0m2 1h0m2 3h0m3-5h0m19 5h0m6 0h0m1-2h0m11-3h0m6 5h0m6-5h0m-399 8h0m7 0h0m5 2h0m2-4h0m3 4h0m2-4h0m4 0h0m1 5h0m1-3h0m5 1h0m2-1h0m4 1h0m0-1h0m4 1h0m1-1h0m4-2h0m0 4h0m2 1h0m6-1h0m4-3h0m5 3h0m2-4h0m4 5h0m0-3h0m1 3h0m13 0h0m23-5h0m3 3h0m5 2h0m4 0h0m55-5h0m10 0h0m3 1h0m6 1h0m8-1h0m4 1h0m6-1h0m5 4h0m2-3h0m8 2h0m0-3h0m2 1h0m9 1h0m4 0h0m2 2h0m4-2h0m6-3h0m2 4h0m3 1h0m1-4h0m1 2h0m8-3h0m3 3h0m1 0h0m9-3h0m0 1h0m2 3h0m4-2h0m4 1h0m0-1h0m7 1h0m1-1h0m4-2h0m4 2h0m5-1h0m1 4h0m5-3h0m5 2h0m1-1h0m14 1h0m20 0h0m8 0h0m5-1h0m3-2h0m5-1h0m3 4h0m6 1h0m8-1h0m-376 4h0m5 0h0m6-2h0m6 5h0m3 0h0m4-3h0m3 0h0m1 1h0m8 0h0m2 1h0m3 1h0m5-1h0m7-2h0m2-2h0m3 5h0m3-4h0m4 1h0m3 3h0m3-2h0m2 0h0m5 2h0m2-4h0m2 4h0m3-2h0m2-1h0m0 2h0m3-1h0m18 2h0m6-1h0m23-1h0m7 1h0m5-1h0m22-1h0m3 2h0m17-4h0m9 1h0m12 1h0m13-1h0m19 0h0m44 4h0m4-2h0m4-3h0m8 3h0m9 1h0m1-3h0m7 1h0m11 0h0m8-1h0m10 1h0m2-2h0m2 5h0m14-5h0m8 1h0m-380 7h0m10 0h0m5 0h0m3 1h0m1-3h0m4 1h0m2 3h0m3 0h0m2-2h0m6-1h0m2-1h0m7 3h0m7 0h0m5 0h0m1-3h0m3 3h0m1-2h0m3 4h0m1-4h0m2-1h0m5 3h0m3-1h0m3-1h0m5 0h0m4 1h0m3 3h0m4 0h0m1-3h0m4 0h0m1-1h0m1 3h0m3-2h0m4 2h0m10 1h0m1 0h0m8-4h0m2 3h0m27 1h0m18-1h0m17-4h0m51 4h0m45-4h0m5 3h0m25 0h0m10 0h0m15-3h0m1 4h0m1-4h0m6 0h0m-330 7h0m2 0h0m5 1h0m3 0h0m4-2h0m1 4h0m5-4h0m5 3h0m3-3h0m6 3h0m9-2h0m1 0h0m4 3h0m1 0h0m2-1h0m5-2h0m2 3h0m1-2h0m2 1h0m2-3h0m1 4h0m2-2h0m1 1h0m3 0h0m3-2h0m4 3h0m3-4h0m3 1h0m0-1h0m2 5h0m2-1h0m2-4h0m0 2h0m1 2h0m2-3h0m2-1h0m2 5h0m5-4h0m2 2h0m2 0h0m5 1h0m9-1h0m0 2h0m15-1h0m4 1h0m16-4h0m12 3h0m41-4h0m18 1h0m45 3h0m3-3h0m5 2h0m2-3h0m0 4h0m0-1h0m6-1h0m2 3h0m4-3h0m12 3h0m7-4h0m3-1h0m11 2h0m20 1h0m3 1h0m4-1h0m-328 3h0m11 3h0m3 2h0m0-1h0m4-2h0m1 0h0m9 0h0m0 2h0m1-2h0m1 2h0m7-4h0m3 3h0m4-1h0m1 2h0m2 0h0m5-4h0m4 0h0m5 4h0m3 0h0m4 0h0m1-4h0m10 1h0m2 0h0m5 4h0m1-4h0m3 0h0m1 3h0m2 1h0m1 0h0m8-1h0m0-3h0m3 1h0m1-2h0m3 3h0m1 0h0m0 2h0m11-2h0m11-3h0m0 2h0m2 2h0m8 1h0m5-1h0m1-2h0m2 2h0m8 1h0m16-2h0m2 2h0m1-2h0m10 2h0m4-1h0m6 0h0m3 0h0m2 1h0m9-4h0m1 1h0m3 0h0m1 2h0m2-3h0m3 4h0m5-2h0m1 0h0m1 2h0m4-5h0m4 3h0m0 1h0m4 1h0m2-2h0m3 1h0m1-1h0m5 2h0m7-3h0m3 0h0m4 3h0m2-5h0m2 4h0m1-2h0m0-1h0m3-1h0m5 4h0m1-1h0m9 1h0m1 0h0m6 1h0m1-4h0m1 0h0m4 2h0m2-1h0m8 2h0m8 0h0m2-2h0m1-2h0m-339 8h0m37-2h0m2 2h0m2 1h0m2 1h0m2 1h0m1-1h0m5-3h0m1 3h0m3-1h0m3 1h0m3 1h0m0-3h0m7 0h0m2-2h0m1 2h0m2 1h0m4-1h0m1-2h0m2 5h0m1-2h0m0-3h0m1 2h0m2-2h0m2 5h0m0-5h0m4 2h0m17 1h0m0-3h0m2 4h0m3-1h0m3 1h0m3-1h0m5 2h0m0-3h0m4-2h0m0 4h0m1-2h0m6-1h0m2-1h0m2 5h0m3-4h0m5 3h0m1-3h0m3 2h0m2-3h0m4 2h0m2 2h0m4 1h0m5-3h0m2-2h0m1 4h0m4 1h0m2-5h0m4 1h0m0 2h0m3 1h0m1-3h0m3 3h0m3 0h0m5-4h0m1 5h0m2-5h0m5 4h0m4-1h0m1-2h0m3 4h0m3-3h0m6 2h0m9-3h0m1 2h0m2-2h0m2 1h0m1-2h0m7 5h0m2-1h0m5-1h0m6-2h0m4 1h0m3 1h0m9 1h0m4-4h0m0 4h0m4-3h0m2 1h0m5 3h0m6-4h0m2 2h0m3-2h0m4 3h0m3-4h0m2 5h0m3-2h0m0 2h0m2-4h0m3 4h0m3-2h0m2-3h0m2 3h0m2-3h0m1 3h0m3 0h0m0-3h0m5 3h0m2 0h0m-305 3h0m21 1h0m3 1h0m4 2h0m1-4h0m4 4h0m0-4h0m2 5h0m3-5h0m1 2h0m3 2h0m0-4h0m1 1h0m0 4h0m5-5h0m11 4h0m3-3h0m2-1h0m0 2h0m1 3h0m6-5h0m5 5h0m1-5h0m2 2h0m3 0h0m1 2h0m5-2h0m3 2h0m0-4h0m3 3h0m2-3h0m2 0h0m4 4h0m2-4h0m3 0h0m1 3h0m3 1h0m1-4h0m6 1h0m5 0h0m3 2h0m1 1h0m13 1h0m1-2h0m5-2h0m1 2h0m1 2h0m5-2h0m3 0h0m2-1h0m1-2h0m1 4h0m5 1h0m1-4h0m2 3h0m3 1h0m1-4h0m4-1h0m7 3h0m1-2h0m2 0h0m1 2h0m6-1h0m3 0h0m2 0h0m3 0h0m5-1h0m1 2h0m3-2h0m1 3h0m5-1h0m1-2h0m1 1h0m7-2h0m0 4h0m3-4h0m5 1h0m1 3h0m5 1h0m5 0h0m4-5h0m2 3h0m1-2h0m5 2h0m2 2h0m9-3h0m0-1h0m0 4h0m4-2h0m2-2h0m2 3h0m4 1h0m8-1h0m2-3h0m5 4h0m0-1h0m3 1h0m4-5h0m-294 8h0m17-2h0m8 2h0m5-1h0m5 1h0m6-1h0m8 3h0m0-3h0m4 2h0m2-3h0m3 5h0m3-5h0m2 3h0m2-1h0m2 0h0m4-2h0m5 5h0m1-4h0m1 3h0m3-3h0m3-1h0m1 2h0m0 2h0m5-2h0m1 0h0m3-2h0m3 4h0m3-4h0m2 1h0m5 1h0m2 3h0m3-2h0m2-3h0m0 2h0m2 0h0m2 2h0m4-3h0m5 1h0m2-2h0m4 3h0m6 1h0m6-4h0m2 4h0m3-2h0m3 0h0m4 1h0m4 1h0m2-2h0m5 0h0m10-1h0m3 2h0m3 1h0m1-1h0m0-1h0m4 1h0m1-3h0m2 1h0m4 1h0m3 0h0m2-1h0m0 2h0m6 0h0m1 2h0m3-1h0m5-2h0m2 3h0m0-3h0m4-2h0m3 0h0m5 4h0m2 1h0m1-3h0m4-2h0m2 4h0m4 1h0m4-4h0m3 3h0m6-1h0m3 2h0m1-2h0m3 0h0m4-3h0m2 0h0m1 3h0m8-3h0m0 4h0m16 1h0m3-1h0m-283 2h0m12 4h0m24-4h0m2 0h0m3 0h0m2 4h0m4 1h0m2-1h0m1-2h0m3 2h0m2-4h0m0 4h0m8-4h0m3 1h0m0 4h0m3-3h0m3-1h0m2-1h0m5 1h0m4 4h0m0-3h0m3-2h0m1 0h0m9 2h0m2-1h0m4 4h0m1-4h0m2 3h0m2-4h0m1 4h0m4 0h0m4-2h0m0 2h0m7 1h0m1-3h0m4 3h0m1-3h0m5 1h0m0-1h0m3-1h0m6 4h0m10-4h0m3 4h0m0-5h0m1 0h0m7 3h0m7-3h0m0 3h0m2 0h0m4 2h0m4-3h0m8-1h0m2-1h0m3 4h0m6-2h0m0 3h0m1-3h0m4 1h0m1-2h0m3 4h0m1-1h0m2-3h0m2 4h0m2-5h0m0 2h0m5 0h0m3 0h0m2 0h0m3 0h0m6 1h0m1 0h0m0-3h0m7 0h0m4 4h0m5 1h0m2-2h0m8-2h0m10 2h0m6 0h0m-244 7h0m1-2h0m7-2h0m12 4h0m1-3h0m14 4h0m5 0h0m1-5h0m1 3h0m4 0h0m3-3h0m2 5h0m3 0h0m3-3h0m0 2h0m2 0h0m1-2h0m9 2h0m0-1h0m4 0h0m4 0h0m6-2h0m1 4h0m1-3h0m1 3h0m1-5h0m3 5h0m3-3h0m7 3h0m4-4h0m5 0h0m4 0h0m3 2h0m2 1h0m2-2h0m2-2h0m4 2h0m1-1h0m1 3h0m5-3h0m2 0h0m0-1h0m1 4h0m2-2h0m2 2h0m1-2h0m5-1h0m1 1h0m3-2h0m2 0h0m5 1h0m9 3h0m4-3h0m3-1h0m5 3h0m6-1h0m1-2h0m1 3h0m1 2h0m5-5h0m3 5h0m3-2h0m2-3h0m4 0h0m4 2h0m3-2h0m2 3h0m2 0h0m4 0h0m3-3h0m6 0h0m3 4h0m3-3h0m-237 6h0m16 3h0m11-4h0m22 4h0m14-3h0m3-1h0m3 2h0m6 0h0m11 0h0m4 2h0m3-2h0m3 1h0m3-3h0m1 1h0m0 4h0m2-3h0m3 3h0m3-5h0m2 2h0m1 2h0m6-4h0m1 2h0m2-2h0m0 4h0m5-4h0m2 5h0m5-3h0m3 2h0m1-4h0m2 5h0m1-3h0m4 1h0m2 0h0m1-3h0m3 1h0m1 0h0m3 2h0m5-3h0m3 0h0m0 2h0m4 0h0m3 3h0m1-1h0m0-1h0m4 0h0m2-3h0m3 3h0m7-2h0m2-1h0m2 3h0m3 2h0m1-3h0m6 1h0m2-3h0m1 5h0m2-2h0m2-3h0m1 5h0m1-3h0m4 1h0m0-3h0m5 2h0m0 2h0m3 1h0m3-2h0m2-3h0m7 0h0m5 4h0m-197 7h0m6-1h0m5-4h0m33 0h0m10 1h0m15-1h0m2 2h0m2 0h0m2-2h0m1 1h0m10 1h0m4-2h0m1 4h0m4-3h0m0 1h0m4-1h0m1 3h0m2-2h0m6-1h0m4-1h0m4 3h0m4-3h0m1 2h0m12-1h0m3 1h0m4-2h0m3 2h0m5 1h0m3-1h0m19 1h0m23 0h0m-198 3h0m9 0h0m9 5h0m12 0h0m7-1h0m10-3h0m0 4h0m21-2h0m82 0h0m3 2h0m-100 3h0m18 2h0m11-2h0m1-2h0m6 6h0m7 2h0m60 0h0m2-2h0" stroke="#5A5156" stroke-width="4.7" stroke-linecap="round"/>
<path transform="scale(0.5)" d="M565 299h0m-16 12h0m19 5h0m-34 2h0m27 1h0m-81 24h0m19 1h0m18 0h0m42 5h0m40 4h0m-116 6h0m-34 4h0m219 1h0m-183 5h0m34 2h0m130 12h0m24-3h0m-195 5h0m31 7h0m208 1h0m-198 4h0m196 3h0m-193 5h0m187 1h0m-341 4h0m0 3h0m7-2h0m1 1h0m1-2h0m6 2h0m91 1h0m116-4h0m-232 10h0m2-2h0m2 1h0m1 1h0m1-5h0m1 1h0m0 4h0m3-4h0m1 4h0m2-4h0m2-1h0m1 4h0m1-2h0m9 3h0m4-4h0m1 0h0m1 4h0m2 0h0m21-4h0m150 3h0m-207 5h0m5-1h0m2-1h0m5 2h0m1 2h0m2-1h0m3-1h0m2-3h0m2 1h0m1 0h0m1 3h0m5-3h0m4 0h0m0 4h0m346-4h0m16 4h0m-394 1h0m3 3h0m2-2h0m0 4h0m2-4h0m3 1h0m3 3h0m0-1h0m2-4h0m0 4h0m5-3h0m4-1h0m1 3h0m0 1h0m4-4h0m0 4h0m3-1h0m4-3h0m68 5h0m12-5h0m171 3h0m-283 5h0m4 3h0m3-2h0m1-1h0m3 3h0m1 0h0m3-5h0m0 2h0m5 3h0m1-3h0m3-2h0m1 0h0m5 1h0m0 3h0m1-3h0m1 3h0m-28 6h0m1-1h0m2-3h0m4 5h0m1-5h0m5 1h0m0 4h0m2-5h0m0 4h0m3 0h0m2-3h0m1 3h0m1-3h0m2-1h0m1 5h0m1-3h0m3-2h0m1 4h0m1-3h0m152 4h0m124 0h0m-306 3h0m1 3h0m4-5h0m1 0h0m4 2h0m1 3h0m2-2h0m3-3h0m1 4h0m1-3h0m2-1h0m1 3h0m5-1h0m3 1h0m2-1h0m2 3h0m18-1h0m48 1h0m139 0h0m215-1h0m-452 3h0m3-1h0m2 5h0m5-5h0m5 5h0m2-5h0m2 2h0m2 3h0m3-2h0m1 0h0m3 1h0m0-3h0m4 2h0m3 0h0m2 2h0m13-2h0m242 1h0m55-3h0m115 0h0m-460 6h0m2 3h0m4-3h0m1 1h0m1-2h0m0 4h0m3 0h0m0-1h0m1-3h0m1 1h0m1 3h0m4-2h0m1 3h0m4-3h0m2-2h0m3 0h0m2 4h0m2-3h0m2 2h0m0 1h0m9-1h0m1 1h0m77-1h0m316 0h0m36 1h0m-467 7h0m0-5h0m2 4h0m4-1h0m4 0h0m0-1h0m1 2h0m1-4h0m3 2h0m2-1h0m0 4h0m3-4h0m0-1h0m4 3h0m3 0h0m1 1h0m1-3h0m3 3h0m1 0h0m1-4h0m1 4h0m5-3h0m0 4h0m4-2h0m80-2h0m4 0h0m235 4h0m-359 5h0m5 1h0m0-1h0m2 0h0m3-2h0m7 2h0m4-3h0m1 2h0m1 0h0m1 2h0m4-3h0m0 3h0m6-4h0m4 2h0m1 0h0m2-3h0m1 2h0m4 3h0m4-1h0m157-4h0m177 1h0m53-1h0m29 5h0m-465 2h0m2 3h0m3-3h0m1 3h0m3 1h0m2 0h0m1-1h0m3-3h0m2 4h0m4-1h0m1-1h0m3-1h0m4-2h0m0 4h0m4-2h0m1 2h0m1-4h0m4 2h0m1 2h0m1-4h0m3 4h0m2 1h0m105-3h0m38 0h0m263 2h0m26-1h0m-470 3h0m0 4h0m5 1h0m2-4h0m2 1h0m1-1h0m1 4h0m4-1h0m1 1h0m0-5h0m5 2h0m0 2h0m4-1h0m2-3h0m0 3h0m4-2h0m1 1h0m3 3h0m7-3h0m3 3h0m1-2h0m2-3h0m4 3h0m2 2h0m425-4h0m-479 6h0m1 1h0m3-2h0m1 4h0m2 0h0m5 1h0m4-3h0m1 1h0m2-1h0m2 3h0m3-3h0m0 2h0m2-2h0m6 3h0m3-3h0m0 2h0m3-1h0m2 2h0m0-5h0m2 3h0m3-3h0m1 1h0m2 3h0m1-3h0m5 3h0m2-3h0m2 3h0m24-3h0m28-1h0m-101 7h0m1 2h0m0-2h0m4-1h0m1 0h0m6 4h0m1-4h0m2 3h0m2-3h0m0 2h0m1 1h0m5-3h0m3 4h0m3-4h0m0 4h0m1-4h0m2 4h0m1-3h0m1 4h0m0-4h0m3 3h0m2-3h0m3 4h0m3 0h0m1-2h0m0-3h0m4 3h0m1 1h0m67-1h0m8 1h0m86-3h0m33-1h0m158 5h0m-399 1h0m3 4h0m4-2h0m3-1h0m0 3h0m4-4h0m1 4h0m4-2h0m2 0h0m4 1h0m3 2h0m1-3h0m3 3h0m3-2h0m1-2h0m3 2h0m1 1h0m3-4h0m2 3h0m4 1h0m3 1h0m1-3h0m63 0h0m33 0h0m32 0h0m46 2h0m130-1h0m-351 3h0m3 1h0m3 0h0m3 4h0m1-4h0m2 1h0m3 1h0m1 2h0m0-5h0m2 1h0m2 4h0m3-1h0m1-2h0m0 3h0m4 0h0m3-5h0m4 3h0m1-3h0m2 5h0m1-2h0m1 2h0m3 0h0m1-2h0m3 1h0m73-4h0m83 4h0m249 0h0m-451 4h0m6 1h0m3 2h0m0-1h0m10 1h0m1-1h0m2 0h0m8 1h0m0-5h0m4 2h0m0-2h0m1 5h0m2-3h0m4 1h0m2-1h0m38 2h0m184-1h0m258-2h0m25 2h0m4 2h0m-543 3h0m1 3h0m3 0h0m1-4h0m1 3h0m1-4h0m1 5h0m6-4h0m6 4h0m2-1h0m3 1h0m3-4h0m0 2h0m2-1h0m1-1h0m2-1h0m2 2h0m1 1h0m1-3h0m5 5h0m69 0h0m92-1h0m31 0h0m181-2h0m123-2h0m-538 6h0m3 3h0m5-1h0m3 0h0m7 3h0m5 0h0m2-2h0m3-2h0m1 3h0m4-3h0m1 1h0m3 2h0m4 0h0m5 1h0m18 0h0m373-5h0m-431 6h0m5 3h0m3 0h0m5-1h0m0 3h0m3-5h0m0 4h0m2 1h0m0-2h0m3-2h0m1 4h0m2 0h0m0-5h0m4 1h0m1 2h0m2-1h0m2 2h0m2-4h0m2 1h0m6 4h0m35-3h0m98-2h0m176 0h0m-348 8h0m4 1h0m3 0h0m6-2h0m2 2h0m2 0h0m4 0h0m1 0h0m3 1h0m2-1h0m5-1h0m2-1h0m1-1h0m3 0h0m0 4h0m2-3h0m0-1h0m64 5h0m107 0h0m53-2h0m-253 3h0m1 2h0m1 2h0m2-4h0m1 2h0m1 2h0m2-4h0m2 5h0m6-1h0m2-1h0m1-3h0m3 4h0m1-3h0m1-1h0m1 1h0m8 0h0m1 3h0m1 1h0m60-4h0m48 2h0m35-1h0m254 2h0m-428 4h0m2 2h0m1-4h0m3 4h0m1 1h0m1-5h0m1 4h0m4-2h0m0-1h0m0 3h0m1 0h0m2-4h0m1 2h0m6 0h0m4 2h0m6 0h0m2 0h0m187-2h0m99-1h0m185 3h0m-503 2h0m6 4h0m0-4h0m5 4h0m6-2h0m4 0h0m1 3h0m1-5h0m3 4h0m7-3h0m89 3h0m71-3h0m47 1h0m57 3h0m2-4h0m33 4h0m157 0h0m-480 6h0m1-5h0m2 5h0m1-3h0m0-1h0m4 3h0m1-1h0m4 2h0m2 0h0m6 0h0m1-4h0m1-1h0m1 5h0m1-5h0m1 4h0m371 0h0m23-2h0m37 1h0m-451 5h0m4-2h0m2 0h0m6 3h0m6 2h0m3 0h0m0-4h0m1 4h0m1-3h0m6 3h0m382-2h0m20 1h0m-425 5h0m1 2h0m1-4h0m3 4h0m0-4h0m4-1h0m2 2h0m3 0h0m0 2h0m5-3h0m1 2h0m2 2h0m260 0h0m172-2h0m93-3h0m-545 7h0m2 0h0m4 3h0m3-3h0m3 0h0m8 0h0m244 0h0m140 0h0m63 4h0m-461 2h0m4-1h0m0 4h0m1-2h0m1-2h0m3 0h0m1 1h0m4 3h0m6-4h0m0 1h0m2 2h0m329-2h0m-344 5h0m1 1h0m4 2h0m3 0h0m0-2h0m3 0h0m1 0h0m0 4h0m4-1h0m1 0h0m1 1h0m150-1h0m36-2h0m124 2h0m28-3h0m67-1h0m104 2h0m-517 5h0m5-1h0m7 1h0m1 4h0m43-2h0m240-2h0m25 4h0m120-5h0m-434 8h0m3-2h0m3 0h0m4 1h0m9 4h0m4 0h0m309 0h0m-325 2h0m7 0h0m3 1h0m0 2h0m4-4h0m2 5h0m3-4h0m5 2h0m1-1h0m2 2h0m248-2h0m22 2h0m-288 4h0m1-2h0m4 3h0m1-3h0m1 0h0m2 4h0m1-2h0m1-2h0m0 3h0m5-3h0m2 4h0m2-4h0m1 1h0m0 3h0m6 1h0m5-1h0m170-4h0m-189 7h0m1 1h0m1 3h0m5-1h0m2-1h0m2-2h0m0-1h0m4 2h0m3-1h0m0 4h0m3-4h0m1 3h0m2 1h0m5-1h0m35-4h0m88 3h0m61 0h0m94 2h0m56-1h0m-353 5h0m1-2h0m3 3h0m5-3h0m1 3h0m2 1h0m3 0h0m1-4h0m0 2h0m3 2h0m3-3h0m1 2h0m1-3h0m0 4h0m3-1h0m6-4h0m48 5h0m289-3h0m-355 7h0m4 1h0m1-1h0m5 0h0m1 0h0m3-1h0m1 3h0m4-1h0m5-1h0m335 2h0m-356 2h0m6 0h0m2 1h0m0-1h0m1 2h0m3 0h0m3 1h0m3-4h0m1 5h0m4-4h0m1 1h0m0 3h0m1 0h0m0-3h0m1-1h0m6 0h0m1 4h0m4 0h0m238-1h0m131 1h0m-394 3h0m4-1h0m1 3h0m1 1h0m5-2h0m4 0h0m2-2h0m0 2h0m4-2h0m0 3h0m3-1h0m0 2h0m4 0h0m2-5h0m0 4h0m76 1h0m167 0h0m-263 1h0m4 2h0m5-2h0m2 0h0m1 3h0m2 2h0m2-4h0m4-1h0m4 3h0m0-2h0m2 1h0m1 2h0m2-3h0m6 3h0m49-4h0m166 1h0m113 2h0m-346 3h0m0 1h0m4 0h0m2 2h0m1 0h0m4-2h0m1-1h0m4 4h0m1-4h0m2 4h0m3-4h0m0 4h0m1-2h0m4 3h0m-16 1h0m6 2h0m4 0h0m4 2h0m3-4h0m1 1h0m0 4h0m2-4h0m24 3h0m98 1h0m234-5h0m-357 10h0m1-4h0m1 4h0m2-4h0m3 1h0m2 4h0m3-1h0m0-1h0m0-3h0m2 5h0m2-5h0m0 4h0m1-1h0m3 0h0m6 0h0m1-1h0m3 1h0m6 2h0m3-1h0m87-1h0m20-1h0m178 1h0m30 0h0m-336 7h0m3-4h0m2 3h0m2-1h0m3 2h0m1-3h0m2-1h0m2 3h0m3-1h0m0 3h0m2-3h0m7 2h0m1-2h0m113 3h0m105-3h0m79 0h0m7-1h0m0 4h0m2-4h0m-324 5h0m3 2h0m5 1h0m1 1h0m6 0h0m2-4h0m0 4h0m6 0h0m0-4h0m2 5h0m1-4h0m4 1h0m1 0h0m1 3h0m2 0h0m98-2h0m44-2h0m135 2h0m4 0h0m4 0h0m1 1h0m-295 5h0m6-2h0m3 2h0m3-2h0m3 2h0m1-2h0m0 4h0m3-1h0m9 1h0m108-2h0m84 1h0m3-3h0m60 3h0m4 0h0m5-4h0m-284 6h0m4 1h0m1 0h0m4-1h0m4 4h0m3-2h0m0-2h0m3 1h0m3-1h0m1 0h0m2 5h0m1-4h0m3 3h0m1-2h0m2 0h0m4 3h0m1 0h0m5 0h0m226 0h0m2 0h0m2-3h0m4 2h0m3-4h0m3 1h0m-264 5h0m5 2h0m3-2h0m3 2h0m3-1h0m0-1h0m4 2h0m2 3h0m4-5h0m7 2h0m2-1h0m4 2h0m5 0h0m203 2h0m5-5h0m4 4h0m3-3h0m0 2h0m2 0h0m-244 3h0m2 0h0m2 2h0m3 0h0m2 3h0m3-3h0m1 3h0m1 0h0m1-5h0m4 5h0m0-5h0m0 2h0m3 0h0m3-1h0m0 3h0m2-1h0m2 1h0m1-3h0m4 1h0m1 3h0m4-4h0m0 3h0m5-3h0m3 1h0m6 2h0m1-1h0m2-1h0m6 2h0m6 0h0m3 1h0m8-2h0m48 0h0m58 2h0m0-3h0m42 2h0m2 1h0m2-2h0m0 2h0m4-4h0m-215 6h0m9 3h0m2-3h0m1 4h0m4-2h0m3-2h0m1 0h0m0-1h0m5 0h0m1 3h0m6-2h0m1 4h0m3-4h0m0 2h0m2-3h0m3 1h0m0 2h0m5-1h0m4 1h0m1 1h0m3-1h0m1-3h0m1 4h0m0-3h0m2 2h0m6-2h0m4 2h0m1 2h0m1-3h0m2 0h0m11 3h0m2 0h0m12 0h0m56 0h0m3 0h0m4-2h0m4 2h0m1-1h0m9 0h0m3-3h0m0 1h0m5-1h0m3 1h0m5-2h0m1 5h0m1 0h0m0-1h0m4 0h0m1-2h0m2-1h0m6 1h0m0-1h0m3 1h0m-181 5h0m2 2h0m3-3h0m2 2h0m3-2h0m2 3h0m1-3h0m4 0h0m2 5h0m0-1h0m3-2h0m5-2h0m4 4h0m3-1h0m1-1h0m4-2h0m0 2h0m5 3h0m2-5h0m0 3h0m3-3h0m1 2h0m1 1h0m1 2h0m2-4h0m1 4h0m6-5h0m1 2h0m3 1h0m2-2h0m1 1h0m5 1h0m2 0h0m2-2h0m0 3h0m5-4h0m6 0h0m15 3h0m29 2h0m1-3h0m1-1h0m3 3h0m5-2h0m0-1h0m1 4h0m4-1h0m1-4h0m0 3h0m2-2h0m2 4h0m1 0h0m1-4h0m1 0h0m1 3h0m1 1h0m3-1h0m0-4h0m3 5h0m1-1h0m6 0h0m2 1h0m1-5h0m0 3h0m2-2h0m0 3h0m2-2h0m2-1h0m4 0h0m-155 5h0m3 3h0m0-1h0m10-2h0m1 2h0m1 0h0m3 1h0m0-2h0m2 1h0m2 0h0m1 1h0m6 2h0m0-5h0m5 4h0m1-2h0m2 0h0m4 0h0m3 3h0m0-1h0m2 0h0m2-3h0m2 4h0m0-3h0m27 0h0m22 3h0m8-2h0m1-2h0m2 4h0m5-1h0m3-1h0m2-1h0m1 1h0m1 2h0m5-1h0m3 0h0m2-4h0m6 0h0m4 1h0m-118 5h0m6 0h0m4 1h0m5 0h0m3 0h0m7 0h0m5 2h0m8-1h0m26-2h0m13 3h0m5-3h0m2 0h0m4 2h0m16-2h0" stroke="#1C8356" stroke-width="4.7" stroke-linecap="round"/>
<path transform="scale(0.5)" d="M572 297h0m-20 12h0m18-2h0m-37 6h0m24 1h0m28-1h0m-43 8h0m15-2h0m42 2h0m-105 8h0m76-5h0m33 0h0m0 3h0m-37 3h0m11 6h0m26 1h0m-132 6h0m24 4h0m93-4h0m-90 6h0m40 0h0m53 2h0m4-1h0m-83 5h0m8-1h0m90 3h0m27-3h0m14 2h0m-198 7h0m17-2h0m33-1h0m35 0h0m88 2h0m13-2h0m5 2h0m-175 7h0m1-1h0m19 1h0m49-3h0m96 4h0m15-4h0m4 2h0m4 3h0m-240 2h0m14 2h0m86 1h0m128-3h0m4 4h0m-156 5h0m160 1h0m48-2h0m-264 4h0m20 1h0m40 0h0m16 2h0m3 0h0m47 1h0m98-4h0m25-1h0m-299 9h0m46 2h0m28-3h0m14 3h0m4-3h0m40 1h0m2-1h0m33 3h0m141-4h0m-322 6h0m61 1h0m6 2h0m3 1h0m26-2h0m25-3h0m10 4h0m40 0h0m58 1h0m11 0h0m79 0h0m9-5h0m-97 11h0m6 0h0m6-2h0m110-1h0m-285 6h0m34 0h0m30-1h0m6-1h0m4 1h0m105 4h0m8 0h0m77-3h0m38-2h0m-346 8h0m117 2h0m22-4h0m9 5h0m69-4h0m9 0h0m6 4h0m12-5h0m0 1h0m108 0h0m-353 5h0m162 4h0m8-1h0m53-3h0m1 1h0m5 3h0m7 1h0m7 0h0m10 0h0m2-5h0m105 0h0m-357 9h0m48-1h0m24-2h0m8 1h0m53 1h0m16 3h0m17-2h0m22-1h0m41-1h0m4 2h0m2 0h0m11 2h0m151-1h0m-264 5h0m45-1h0m9-2h0m46 0h0m10 5h0m12-1h0m3-3h0m0-1h0m100 5h0m-298 6h0m17-3h0m18 3h0m20-1h0m79 1h0m50 0h0m9-5h0m22 4h0m133-1h0m20 1h0m-404 6h0m71 1h0m7-2h0m24-3h0m42 3h0m3-2h0m115 1h0m5 1h0m27-2h0m59 4h0m35-5h0m7 4h0m21-4h0m-449 10h0m36 0h0m55 1h0m3-1h0m57-4h0m2 5h0m124-4h0m30 4h0m4-3h0m151-1h0m-252 7h0m68 1h0m5 2h0m18-1h0m2-4h0m28 3h0m21 2h0m75-2h0m-393 4h0m22 0h0m50 2h0m90-3h0m16 2h0m15 1h0m187 1h0m86 1h0m-478 5h0m20 0h0m53-3h0m28 1h0m2-2h0m53 0h0m30 4h0m46 1h0m74-1h0m45-1h0m14 0h0m6 0h0m36 0h0m19 2h0m45-1h0m-388 5h0m26 1h0m19-3h0m42 1h0m15 3h0m7-4h0m26 1h0m236 2h0m2 0h0m17-1h0m-448 4h0m22 4h0m100-2h0m44-1h0m31 3h0m83-3h0m134 3h0m-442 2h0m111 0h0m8 4h0m0-2h0m27 1h0m52-1h0m9 2h0m9-4h0m13 2h0m10 0h0m70 1h0m1-2h0m137-1h0m13 1h0m52 2h0m-396 4h0m19 3h0m56-1h0m9 1h0m46-1h0m7-1h0m221 0h0m45 0h0m-470 6h0m5-1h0m17 1h0m122 2h0m58-5h0m144 1h0m56-1h0m63 0h0m5 3h0m7 1h0m14-4h0m3 3h0m-494 8h0m149-1h0m58-2h0m104 0h0m27-2h0m81 2h0m72 2h0m11 1h0m2-2h0m-499 6h0m4-3h0m42 1h0m3 4h0m5-2h0m31 0h0m32-3h0m28 3h0m21 1h0m24-2h0m134 2h0m-297 5h0m34 0h0m76 2h0m189 0h0m46-2h0m10-3h0m29 1h0m-250 9h0m5-4h0m78 4h0m283-4h0m-509 7h0m60 2h0m61-3h0m10 2h0m111-2h0m115 0h0m15 2h0m91 1h0m52 0h0m-485 8h0m40-3h0m5 3h0m66-2h0m9 1h0m65 0h0m29-4h0m35 5h0m58-4h0m31 1h0m13-1h0m-385 8h0m107 1h0m46-2h0m26-2h0m40 5h0m6 0h0m3-2h0m57-3h0m43 4h0m57 0h0m22 1h0m34-2h0m6-3h0m38 0h0m36 2h0m-440 4h0m4 5h0m3 0h0m4-5h0m21 0h0m7 2h0m58-2h0m22 2h0m20 1h0m17 1h0m30-3h0m67 2h0m32 0h0m44 1h0m25-2h0m38-2h0m65 1h0m-445 9h0m33-1h0m11-2h0m29 0h0m2 0h0m12 4h0m5-1h0m104 1h0m19-3h0m27-1h0m14 0h0m18 0h0m2 0h0m17 4h0m18-4h0m31-1h0m-406 6h0m47 2h0m30-1h0m32 0h0m22 3h0m65-2h0m77 1h0m2-3h0m6 4h0m8 0h0m122 0h0m4 0h0m-434 6h0m2-4h0m18 1h0m120 3h0m33-4h0m222 2h0m43-2h0m20 0h0m-432 8h0m5 3h0m72-2h0m33 1h0m7-1h0m6-3h0m7 5h0m96-4h0m29 3h0m14-2h0m38 0h0m48 1h0m15-3h0m15 3h0m39 1h0m4-3h0m70 3h0m-516 6h0m7 0h0m34-3h0m49-1h0m4 1h0m87-1h0m68 2h0m31 1h0m25 0h0m16 2h0m73-1h0m38 0h0m25 1h0m14-5h0m-460 10h0m92 1h0m24-1h0m7 0h0m10-1h0m32-3h0m9 4h0m4-3h0m115 4h0m47-1h0m47-2h0m7 2h0m84-1h0m-357 7h0m41 0h0m52 0h0m39-4h0m27 5h0m74-2h0m24 1h0m34-2h0m14-1h0m16 0h0m50 3h0m-466 6h0m126-2h0m12 2h0m6-1h0m36-2h0m25 4h0m28-4h0m59 2h0m26 1h0m66 0h0m10 0h0m58 1h0m-452 2h0m11 0h0m89 0h0m23 0h0m64 2h0m142 2h0m19-4h0m15 0h0m10-1h0m72 0h0m-437 9h0m124 1h0m26 0h0m9 0h0m2-2h0m45 0h0m30-2h0m45 4h0m28-3h0m24 4h0m31-5h0m16 3h0m25-3h0m-390 8h0m87-2h0m38 5h0m13-5h0m93 5h0m57-5h0m2 5h0m79-2h0m-372 6h0m3 0h0m10 0h0m104-3h0m23 5h0m38-2h0m2 2h0m117-5h0m22 0h0m14 4h0m-311 3h0m1 1h0m31 0h0m122 3h0m26 0h0m157-1h0m22-3h0m28-1h0m-138 9h0m67 1h0m14-1h0m14-3h0m-346 6h0m26 1h0m22-1h0m1 2h0m12 0h0m115-1h0m13 2h0m26-1h0m4 1h0m5 1h0m23-4h0m43 5h0m-55 5h0m20-4h0m16 2h0m24 0h0m44 3h0m-281 3h0m19 0h0m3-2h0m3 2h0m35-1h0m135 3h0m162-1h0m-271 3h0m11 3h0m213 0h0m35 1h0m-362 5h0m16-3h0m51 4h0m26 0h0m28 0h0m8-2h0m-36 8h0m4-2h0m21 1h0m0 2h0m132-3h0m12 0h0m26-2h0m15 1h0m44 2h0m-265 4h0m74 1h0m9 2h0m22 1h0m43-4h0m3 1h0m-156 7h0m98 0h0m2-2h0m7 1h0m5 1h0m13-3h0m49 2h0m38-2h0m54 5h0m1-3h0m-235 6h0m32 2h0m63-2h0m78 0h0m54 1h0m-215 6h0m69 2h0m15-1h0m31-4h0m13 0h0m16 3h0m-127 7h0m21-1h0m104 0h0m7 2h0m19-4h0m25 4h0m2-5h0m2 3h0m11 0h0m-183 6h0m103 2h0m1 2h0m11 0h0m3 0h0m6 3h0m33 0h0m-133 3h0m60 15h0m80-4h0" stroke="#DEA0FD" stroke-width="4.1" stroke-linecap="round"/>
<path transform="scale(0.5)" d="M542 311h0m12-4h0m21 2h0m21 20h0m-67 4h0m-41 13h0m21-1h0m-19 4h0m-34 15h0m-8 6h0m10-2h0m160-2h0m9 4h0m-213 2h0m60 0h0m6 1h0m148 2h0m-197 5h0m55 2h0m129 0h0m16-2h0m-169 4h0m209 5h0m4 0h0m-261 6h0m308 0h0m-191 4h0m-163 5h0m85-2h0m8 3h0m226-3h0m-240 8h0m57 0h0m44 3h0m80-4h0m50 1h0m52 2h0m-286 4h0m5 0h0m78 3h0m0 5h0m42-2h0m-54 6h0m-94 5h0m52 4h0m49 0h0m50-2h0m178-1h0m-249 8h0m10-2h0m20-2h0m-56 6h0m83 0h0m290 5h0m-280 2h0m14 3h0m129-2h0m79 0h0m-348 9h0m30-2h0m16 0h0m58 0h0m66-3h0m3 1h0m175-1h0m17 4h0m-388 2h0m147 5h0m28-3h0m24-1h0m267 4h0m-269 6h0m-186 1h0m96 5h0m174-2h0m68 0h0m144 0h0m-391 6h0m107 2h0m202-4h0m15-1h0m52 0h0m-445 9h0m22 1h0m136-3h0m32-1h0m189 0h0m-308 7h0m59 0h0m34 2h0m231-3h0m-419 8h0m164 7h0m27 1h0m230 0h0m8 1h0m58 0h0m40-5h0m-413 9h0m36-2h0m21 1h0m55 0h0m29 2h0m109-3h0m31 0h0m-70 6h0m-158 6h0m110-1h0m-50 6h0m238 5h0m-424 4h0m74 0h0m125-1h0m-1 9h0m7-3h0m280 2h0m-44 2h0m-359 11h0m47-5h0m21 1h0m84 0h0m97 0h0m-148 6h0m191 3h0m-319 7h0m49-3h0m35 2h0m364 0h0m-476 4h0m240-1h0m41 3h0m176-4h0m-453 8h0m97-2h0m-17 10h0m50 0h0m136-2h0m26 1h0m15 2h0m74 0h0m-256 2h0m7 1h0m130 3h0m124-5h0m-336 6h0m181 4h0m121-4h0m-201 6h0m7 1h0m42 4h0m31 0h0m-189 4h0m99-1h0m22-2h0m190 3h0m78-3h0m33 2h0m-388 6h0m297-2h0m-284 8h0m7 1h0m102-3h0m135 0h0m-284 10h0m287 0h0m73 1h0m14-5h0m26 5h0m-312 5h0m-1 6h0m235 0h0m-226 7h0m291-1h0m-291 4h0m306 2h0m-1 4h0m-330 9h0m26-1h0m325 0h0m-313 3h0m120 3h0m4-1h0m60 11h0m37 1h0m-21 3h0m-98 14h0m1 3h0m57-4h0m66-1h0m42 8h0m-145 7h0m56 0h0" stroke="#A532F2" stroke-width="4.1" stroke-linecap="round"/>
<path transform="scale(0.5)" d="M570 316h0m-57 7h0m16-1h0m2 1h0m63 0h0m-73 6h0m4-2h0m4-3h0m2 3h0m2-1h0m0 3h0m4-1h0m1-1h0m5 0h0m3 0h0m4 0h0m3 2h0m-46 5h0m4 1h0m11-4h0m2 4h0m1 0h0m5-2h0m4-1h0m0 2h0m0-1h0m1 1h0m3 1h0m4 0h0m2-3h0m2 2h0m1-4h0m2 0h0m1 3h0m1-3h0m3 3h0m0 2h0m1-5h0m2 0h0m1 5h0m2-1h0m3-2h0m-89 4h0m48 5h0m2-2h0m1-1h0m2 3h0m1-4h0m2 3h0m1-2h0m4 1h0m0 2h0m3-2h0m5 0h0m2-1h0m2 2h0m1-4h0m2 3h0m2-3h0m1 5h0m2 0h0m2-3h0m0-1h0m1 4h0m2-4h0m3 0h0m5 0h0m2 1h0m-43 8h0m3 0h0m2 0h0m2 1h0m1-3h0m5-1h0m0 1h0m1-2h0m3 4h0m1 1h0m5-2h0m3-1h0m3-1h0m1 1h0m4 2h0m0-4h0m1 1h0m2 3h0m1-4h0m2 5h0m3-1h0m3-1h0m0-1h0m2 3h0m-77 6h0m25-5h0m4 1h0m2-1h0m1 2h0m1 3h0m0-5h0m2 4h0m1-1h0m7 0h0m2-3h0m0 5h0m3-4h0m1-1h0m2 2h0m2-1h0m1 0h0m3 4h0m2-1h0m4-2h0m5 3h0m3-3h0m4 3h0m1-3h0m3-2h0m2 4h0m-88 3h0m32 0h0m2 1h0m1-2h0m4 5h0m2-2h0m2-1h0m3-2h0m2 1h0m1 1h0m3 3h0m1-2h0m1-1h0m2-1h0m0 3h0m5-4h0m2 4h0m0 1h0m5 0h0m0-4h0m2 3h0m1-3h0m2 3h0m3-4h0m0 5h0m2 0h0m1-5h0m3 4h0m3-1h0m4-1h0m2 2h0m4 1h0m-116 4h0m55-2h0m2 2h0m3-2h0m0 3h0m3-3h0m1 1h0m0 3h0m3-2h0m4-3h0m2 2h0m1 2h0m4-4h0m0 3h0m4 2h0m1-5h0m0 3h0m5 1h0m2-4h0m3 4h0m4-1h0m6-2h0m2 4h0m2-5h0m1 3h0m2 1h0m2-4h0m1 1h0m0 2h0m4 0h0m2-1h0m3 1h0m2 2h0m-94 4h0m32 0h0m0-1h0m3 0h0m0 1h0m6 1h0m2-4h0m2 3h0m1-3h0m4 5h0m3-5h0m2 2h0m1 1h0m2 2h0m1-5h0m2 4h0m2-3h0m2 4h0m1-5h0m9 0h0m2 5h0m2-4h0m1 4h0m3-1h0m0-2h0m5 0h0m3 0h0m0 3h0m2 0h0m1-3h0m3 0h0m1 3h0m2-2h0m1 0h0m3 2h0m4 0h0m53-4h0m-253 7h0m11-2h0m44 1h0m23-1h0m31 1h0m22-1h0m0 2h0m3-1h0m3 4h0m1-2h0m1 0h0m3-3h0m1 1h0m1 4h0m2-2h0m3-1h0m1 2h0m8-3h0m1-1h0m1 4h0m2-4h0m3 5h0m0-5h0m1 0h0m5 2h0m0 1h0m3 1h0m1-3h0m7 0h0m2 0h0m1 4h0m3-4h0m0 3h0m5-4h0m1 3h0m2-2h0m2 3h0m2-1h0m1 2h0m0-3h0m6 2h0m0-1h0m2 0h0m80 2h0m-238 3h0m83-2h0m3 1h0m2 1h0m3 3h0m1-2h0m0 2h0m2-2h0m4 2h0m3-4h0m5 4h0m1-3h0m0-2h0m1 2h0m3 3h0m1-3h0m1-2h0m7 1h0m6 0h0m1-1h0m1 1h0m1 3h0m3-2h0m1-2h0m1 1h0m4 0h0m5 1h0m1-2h0m2 4h0m1-2h0m5 3h0m1-1h0m3 0h0m1-2h0m3 2h0m1-4h0m0 5h0m2-3h0m4 1h0m2 1h0m-114 3h0m38 3h0m4-1h0m1-1h0m0 3h0m3-4h0m1 3h0m3-3h0m4-1h0m1 4h0m2-1h0m1 1h0m2-3h0m1-1h0m2 5h0m1-3h0m2 3h0m12-3h0m3 0h0m3-2h0m2 0h0m3 5h0m1-3h0m5 2h0m2 0h0m1 0h0m5-1h0m3-1h0m3 3h0m0-4h0m3 1h0m3 1h0m1-3h0m5 4h0m48-1h0m-248 3h0m112 2h0m3 0h0m9 0h0m1 3h0m5-5h0m1 5h0m0-1h0m2-4h0m1 3h0m2-1h0m2-2h0m0 2h0m1 3h0m2 0h0m2-2h0m4 2h0m2-2h0m21-1h0m2-2h0m4 4h0m3-1h0m2 2h0m0-3h0m0-1h0m4 2h0m1-2h0m2 3h0m4-2h0m2 0h0m5-1h0m1-1h0m1 2h0m5-2h0m1 4h0m4-4h0m3 2h0m2 3h0m-111 1h0m19 1h0m2 0h0m4 3h0m3-4h0m1 4h0m2 1h0m1 0h0m3 0h0m7 0h0m2-3h0m1-1h0m4 4h0m1-4h0m24 0h0m2 2h0m4 2h0m3-1h0m4-3h0m1 0h0m4 0h0m1 3h0m1-2h0m0 3h0m3-4h0m1-1h0m2 4h0m1 1h0m9-3h0m0 2h0m1 1h0m3-3h0m1 0h0m0 2h0m2 0h0m5 1h0m22-3h0m-253 9h0m23 0h0m17 0h0m41-1h0m54-2h0m2-1h0m1 2h0m0 1h0m4-1h0m3 0h0m3 0h0m0 2h0m6-4h0m1-1h0m1 4h0m3 0h0m2-4h0m2 5h0m2-4h0m2 3h0m25-2h0m6 0h0m5 0h0m0 1h0m6 1h0m4-3h0m0 3h0m1-3h0m3 0h0m0 4h0m5-4h0m0 4h0m3-2h0m1-3h0m1 4h0m6-2h0m7 1h0m-235 6h0m93 0h0m40-1h0m1-1h0m3 0h0m0 4h0m3-1h0m4-3h0m1 3h0m3-4h0m0 2h0m3 3h0m2-2h0m5 1h0m1-1h0m3-1h0m7 3h0m27-5h0m3 0h0m4 2h0m3 1h0m1 0h0m2-3h0m1 5h0m2-2h0m5-3h0m0 3h0m1 2h0m4-3h0m0 3h0m3-5h0m1 5h0m1-2h0m1 0h0m9-2h0m2 0h0m5 1h0m0 2h0m2-1h0m3-1h0m20 3h0m42-5h0m-297 11h0m23-3h0m91 2h0m15 0h0m4-4h0m1 3h0m2-2h0m5 3h0m6-2h0m0 3h0m1-5h0m4 0h0m0 2h0m2 2h0m2-3h0m3 3h0m3 0h0m35-1h0m4-2h0m3 3h0m4 0h0m2-2h0m0 3h0m7-2h0m0 1h0m3-2h0m1 3h0m0-5h0m5 0h0m0 5h0m1-1h0m2-2h0m2 2h0m1-1h0m3-2h0m0-1h0m3 1h0m3 0h0m3 2h0m-293 4h0m181 1h0m1 0h0m2-2h0m3 0h0m0 2h0m0 3h0m3-2h0m2-1h0m5 0h0m1 2h0m1-3h0m1-1h0m4 3h0m2-2h0m0 1h0m1 3h0m2-4h0m7 2h0m46 1h0m3 1h0m1-3h0m0 3h0m1-5h0m0 2h0m4 3h0m3-4h0m0 4h0m2-4h0m3 2h0m0 2h0m3-3h0m3 0h0m2 2h0m1 1h0m1-5h0m1 1h0m4 0h0m3 2h0m1 1h0m1-4h0m1 5h0m1-3h0m3 1h0m2-1h0m4-1h0m-120 9h0m0-4h0m3 3h0m1-3h0m3 0h0m0 4h0m4-3h0m2 2h0m0 2h0m3-5h0m1 5h0m5-5h0m2 1h0m0 3h0m0 1h0m1-3h0m2 1h0m1-3h0m3 2h0m53 2h0m3-1h0m1-3h0m1 2h0m4 2h0m8-1h0m1-2h0m0 3h0m5-2h0m3-1h0m3-1h0m2 3h0m1-3h0m2 5h0m1-2h0m2-3h0m2 2h0m5-1h0m8 3h0m28-1h0m-163 4h0m1 2h0m1-3h0m2 3h0m4 2h0m4-1h0m2-2h0m3 3h0m0-1h0m1-4h0m2 2h0m2 0h0m0 3h0m1-2h0m6-3h0m0 3h0m3-2h0m0 3h0m2-4h0m1 2h0m3 1h0m48-3h0m3 1h0m1 1h0m3-1h0m2-1h0m2 2h0m3-2h0m1 5h0m1-4h0m0 4h0m2-1h0m1-2h0m1-1h0m2 0h0m1 4h0m4-4h0m2 1h0m1-1h0m3 4h0m2-3h0m2-2h0m5 0h0m5 1h0m0 4h0m1-2h0m2 2h0m1-2h0m2 2h0m1-2h0m5 0h0m2 1h0m-184 3h0m13 1h0m30 0h0m2 0h0m2-1h0m1 2h0m1-2h0m10 4h0m1-3h0m0 1h0m4-1h0m4 1h0m0-1h0m3-1h0m8 1h0m2-2h0m4 5h0m51-4h0m5-1h0m1 4h0m3-4h0m1 4h0m4-3h0m3 3h0m1-3h0m0 1h0m2 3h0m1-5h0m3 4h0m1-3h0m3 4h0m2-4h0m2 2h0m7 0h0m3-1h0m4-2h0m3 0h0m1 3h0m2 1h0m1-4h0m1 2h0m1-1h0m2 3h0m4-2h0m-290 9h0m146-2h0m0-1h0m2 1h0m0-1h0m7-2h0m2 3h0m4 0h0m1 2h0m2-1h0m2-4h0m1 0h0m5 2h0m0 2h0m3-4h0m0 3h0m2 1h0m5 0h0m37 1h0m25-4h0m4 2h0m5-2h0m0 3h0m5-4h0m0 3h0m5 0h0m1 0h0m1-1h0m2 2h0m2-1h0m6-1h0m0 3h0m8-3h0m4 1h0m2 0h0m3 1h0m2-1h0m4-1h0m1 2h0m3-1h0m5 1h0m-154 2h0m4 3h0m7-1h0m1 2h0m1-2h0m2 2h0m3-2h0m3 0h0m0 3h0m3-2h0m1 1h0m1-1h0m2-3h0m4 4h0m2-3h0m1 4h0m1-3h0m75 1h0m2 1h0m3-2h0m3 1h0m1-2h0m1 1h0m1 2h0m1 0h0m4-1h0m1 2h0m1-5h0m1 1h0m4-1h0m0 3h0m2 2h0m5-1h0m1-4h0m1 0h0m4 1h0m2 0h0m1 2h0m2-2h0m6 1h0m0 3h0m2-4h0m0 2h0m4-3h0m-333 11h0m76-4h0m2 2h0m82-1h0m10-2h0m2 0h0m1 1h0m3-1h0m4 2h0m1 3h0m3-2h0m0-2h0m4 0h0m0 3h0m2-2h0m2 0h0m2 3h0m1-4h0m4-1h0m4 4h0m1-1h0m3-3h0m1 3h0m2 2h0m1-3h0m1 1h0m52-3h0m19 0h0m9 3h0m4-2h0m4 2h0m2 1h0m2-3h0m4 1h0m3 2h0m2-3h0m0 2h0m2 1h0m1-3h0m0-1h0m4 2h0m3-2h0m1 1h0m3-1h0m0 5h0m3-1h0m2-4h0m0 4h0m1-2h0m4-2h0m8 1h0m-298 5h0m79 0h0m57 4h0m2-3h0m1-1h0m2 4h0m1 0h0m0-1h0m5-1h0m1 2h0m2-2h0m1 0h0m5 0h0m0 2h0m2 0h0m2-2h0m4 0h0m1 3h0m0-4h0m2 1h0m2 2h0m1-3h0m1 0h0m0 2h0m4-1h0m0 3h0m1-4h0m2 3h0m0 1h0m3 0h0m88-3h0m5 2h0m0-4h0m3 0h0m1 3h0m4 0h0m54-3h0m-375 7h0m26 1h0m75 1h0m33-3h0m47 4h0m7-2h0m2-1h0m1-1h0m1 2h0m3 3h0m1-4h0m3 3h0m1-2h0m1-1h0m1 4h0m2-2h0m0 2h0m4-2h0m2 0h0m4-2h0m2 1h0m5 0h0m2 0h0m0-2h0m5 4h0m25-2h0m59-2h0m3 0h0m3 0h0m5 1h0m-324 8h0m184-3h0m6 0h0m3 5h0m2-1h0m4 0h0m2-4h0m2 5h0m4-3h0m1-1h0m3 0h0m1 2h0m2-2h0m0 1h0m3 3h0m1-4h0m1 2h0m2 2h0m2-4h0m2 1h0m4-1h0m0 4h0m2-4h0m4 4h0m1-1h0m2 1h0m141-4h0m21 0h0m-331 8h0m20-2h0m63 2h0m45-2h0m2 2h0m3 0h0m0-3h0m2 3h0m2-3h0m2 1h0m1 3h0m5 1h0m0-1h0m1-2h0m1 2h0m3 1h0m7-1h0m2-3h0m3 3h0m2-4h0m2 5h0m2-5h0m5 0h0m0 4h0m110-2h0m114 3h0m-459 4h0m42-3h0m157 0h0m2 0h0m2 4h0m2-1h0m2 1h0m5 1h0m1-2h0m2-2h0m1 2h0m2-1h0m2 1h0m3-2h0m0 2h0m6 0h0m3 1h0m2-2h0m4 3h0m1-4h0m1 0h0m4-1h0m4 4h0m1-1h0m228 0h0m-406 6h0m141 2h0m1-2h0m5-2h0m4 1h0m1-1h0m0-1h0m5 2h0m4 3h0m0-3h0m3 2h0m1-3h0m1-1h0m2 0h0m2 1h0m1 4h0m1-5h0m1 4h0m1-2h0m1-1h0m4 1h0m2 0h0m0 1h0m4 1h0m4 0h0m5 0h0m6 1h0m166-2h0m-281 4h0m58-1h0m5 1h0m0-1h0m2 2h0m0-2h0m2 1h0m1-1h0m4 0h0m1 1h0m3 0h0m4-1h0m0 3h0m3-2h0m5-1h0m4 3h0m2-2h0m1 4h0m4-5h0m0 3h0m2 2h0m1-3h0m1 1h0m3 1h0m3-3h0m0-1h0m2 5h0m1-4h0m1 3h0m0-4h0m2 2h0m2 2h0m4-1h0m10 2h0m3-2h0m1 2h0m-228 6h0m23-4h0m29 2h0m0 2h0m102-5h0m6 0h0m3 3h0m2-3h0m0 4h0m1 1h0m3 0h0m0-4h0m0 2h0m1-2h0m1 0h0m3 0h0m3 3h0m1-4h0m3 1h0m0-1h0m2 3h0m2-3h0m3 3h0m2 1h0m3-1h0m5 0h0m3-2h0m2 3h0m3-3h0m2 3h0m4-4h0m0 1h0m3 0h0m6-1h0m0 4h0m1-3h0m5 3h0m2 1h0m3-1h0m2-3h0m5 4h0m2-2h0m1 2h0m1-3h0m75-2h0m54 0h0m-291 7h0m90-1h0m2 1h0m2 3h0m3-3h0m1 1h0m1 3h0m1-2h0m1-3h0m1 0h0m1 5h0m1-1h0m2 1h0m4-4h0m1 1h0m0 1h0m3-2h0m1-1h0m3 4h0m4-4h0m0 4h0m5 0h0m2 0h0m4-2h0m3-2h0m1 3h0m0 2h0m3-4h0m1 0h0m2 2h0m4-1h0m2 2h0m3-3h0m1 4h0m5 0h0m2-2h0m2 1h0m2-3h0m1 1h0m2 1h0m3-2h0m1 2h0m3 2h0m1-5h0m1 3h0m0-1h0m6 0h0m2-2h0m4 3h0m0 2h0m2 0h0m3-2h0m2-2h0m3 2h0m3 1h0m1-1h0m2 2h0m6-1h0m-106 7h0m6-4h0m0 3h0m3-4h0m0 3h0m2 1h0m4-2h0m2 0h0m1 2h0m1-4h0m0 5h0m1-5h0m1 5h0m1-2h0m2 2h0m1-4h0m2 2h0m5 2h0m2-5h0m2 2h0m3 0h0m1 3h0m1-4h0m1 4h0m4-4h0m0 3h0m2 1h0m5-3h0m1 1h0m3-1h0m1-2h0m3 1h0m2 0h0m1 3h0m4-4h0m0 2h0m4 3h0m3-1h0m0-3h0m4 2h0m1-2h0m2 1h0m6-2h0m1 5h0m3-5h0m1 2h0m2-1h0m1 3h0m3-2h0m2 1h0m7-2h0m2 0h0m3 4h0m1 0h0m1-3h0m4 1h0m-366 3h0m82 3h0m49-3h0m24 5h0m9 0h0m17 0h0m15-4h0m55-1h0m7 0h0m9 4h0m3-1h0m1-3h0m6 1h0m3 2h0m1-2h0m0 4h0m3-2h0m1-3h0m3 0h0m2 3h0m2-2h0m2 4h0m2-5h0m1 5h0m2-5h0m1 4h0m2-3h0m1-1h0m3 4h0m1 1h0m2-5h0m1 1h0m5-1h0m0 2h0m1 2h0m1-3h0m2-1h0m2 4h0m2 1h0m3-3h0m2 3h0m1-2h0m4 0h0m1-1h0m2-2h0m3 1h0m1 2h0m1 2h0m4 0h0m2-3h0m1 1h0m1-2h0m2 2h0m1 0h0m1-2h0m3 1h0m1 1h0m3 2h0m3-4h0m6 2h0m0-1h0m-228 8h0m72-3h0m63-1h0m6 0h0m2 1h0m5 4h0m2-5h0m1 2h0m2 2h0m1-2h0m2 3h0m1-4h0m2 4h0m0-4h0m6 3h0m3-4h0m1 1h0m3 4h0m0-1h0m5 0h0m2 0h0m1-4h0m4 4h0m4 1h0m1-2h0m2-2h0m1 0h0m5 1h0m2 3h0m2-3h0m0 2h0m5 1h0m1-4h0m1 4h0m2-5h0m1 5h0m2-5h0m1 4h0m0-1h0m4 2h0m1-4h0m2 0h0m6-1h0m0 5h0m4-1h0m152-1h0m-363 7h0m43-3h0m20 0h0m80 0h0m3-1h0m0 1h0m3-1h0m6 3h0m2 0h0m4-2h0m1 0h0m2 3h0m1-2h0m7 2h0m1-2h0m2-2h0m0 5h0m3-5h0m2 3h0m2 0h0m0-1h0m3 2h0m2-3h0m1 1h0m3 1h0m2 0h0m3 2h0m3-3h0m3-2h0m2 1h0m5 0h0m-294 10h0m55 0h0m93-1h0m2 0h0m26-2h0m15 3h0m61-5h0m12 2h0m3 1h0m3-1h0m3 2h0m3-1h0m6-2h0m0 1h0m0 2h0m2 0h0m4-2h0m1-2h0m29 1h0m-297 10h0m216-5h0m131 3h0m21 1h0m84-1h0m-400 6h0m86 2h0m23-3h0m11-2h0m26 3h0m74 5h0m10 0h0m40-1h0m97 0h0m-289 10h0m90-3h0m-110 6h0m184-2h0m71 2h0m-94 4h0m38 1h0m3 4h0m71-1h0m-187 2h0m-81 10h0m251 1h0m74-5h0m-391 11h0m163-1h0m83 0h0m17-4h0m87 2h0m-153 9h0m18-3h0m-91 4h0m4 4h0m37-2h0m149 1h0m-341 7h0m76-1h0m27 2h0m23-2h0m6 1h0m6 0h0m158 1h0m40-4h0m-227 8h0m50 1h0m-37 6h0m213-1h0m5 1h0m-300 5h0m106 0h0m58 1h0m52-1h0m23 5h0m123 14h0m-322 11h0m72-3h0m1 16h0m94-4h0m53 3h0m5 2h0m26 0h0m-171 5h0m42 1h0m122-4h0m-189 8h0m59-1h0m-8 13h0m30-3h0m15 3h0m96 9h0" stroke="#FEAF16" stroke-width="4.7" stroke-linecap="round"/>
<path transform="scale(0.5)" d="M534 301h0m37 19h0m16-2h0m3 21h0m2 1h0m14 10h0m-148 9h0m193 6h0m-216 6h0m11-5h0m193 1h0m2 4h0m10 3h0m-198 7h0m17 0h0m41-2h0m64 1h0m9 2h0m-175 6h0m107-4h0m-47 7h0m-25 6h0m231 2h0m45 1h0m-169 4h0m168 3h0m-233 3h0m86 4h0m44 1h0m41 1h0m109 0h0m-128 7h0m96-1h0m-249 4h0m32 0h0m32 4h0m112-4h0m-255 11h0m2 0h0m59-4h0m40 2h0m4-1h0m153 3h0m7-2h0m8-1h0m-8 6h0m15-2h0m-262 9h0m250 2h0m-9 5h0m2-4h0m3 4h0m24 0h0m12-1h0m9 2h0m-160 6h0m141-2h0m9 2h0m4-5h0m11 3h0m5 0h0m7 1h0m5-3h0m-304 10h0m247-1h0m11-3h0m12 3h0m11 0h0m14 0h0m7-1h0m3-3h0m4 4h0m1-1h0m7 0h0m39-1h0m19 2h0m32-2h0m-400 7h0m5-1h0m47 1h0m66-1h0m127 0h0m27 0h0m15 3h0m0-5h0m0 3h0m5-2h0m1 3h0m6-1h0m3 1h0m6 1h0m9-2h0m14 1h0m27-3h0m31 4h0m3-2h0m57 0h0m-393 8h0m76-4h0m122 1h0m15 1h0m1-3h0m11 2h0m3-2h0m1 4h0m3-1h0m0-3h0m4 2h0m1-2h0m2 2h0m2 3h0m2-5h0m3 5h0m0-5h0m3 2h0m4 1h0m2 2h0m1-5h0m3 1h0m5 0h0m2 1h0m3 0h0m0-1h0m4 1h0m3-2h0m2 5h0m1-1h0m1 1h0m2-3h0m1-1h0m2 1h0m3 3h0m3-2h0m7 2h0m4-1h0m3-1h0m6 1h0m1 1h0m0-5h0m32 4h0m-381 5h0m68 0h0m129 2h0m68 0h0m2-3h0m3-1h0m4 3h0m3-1h0m2-1h0m2-1h0m4 1h0m1 3h0m0-4h0m5 4h0m4-4h0m3 2h0m1-3h0m4 2h0m5-2h0m2 2h0m1 1h0m3-2h0m8-1h0m6 2h0m6 2h0m5 0h0m4-2h0m8 0h0m1-1h0m2 1h0m1 0h0m2 3h0m4-5h0m0 3h0m4 0h0m2 1h0m6-4h0m2 5h0m2 0h0m8-5h0m8 2h0m4 0h0m19-1h0m-353 6h0m105 4h0m103-2h0m1-3h0m5 0h0m1 3h0m2-2h0m2 3h0m3-4h0m1 5h0m8 0h0m5-1h0m2-2h0m3 3h0m4 0h0m0-5h0m4 4h0m1-2h0m3-1h0m3 2h0m2-1h0m1-1h0m4 0h0m4 0h0m2 0h0m0 4h0m4-1h0m1-3h0m2-1h0m1 4h0m4-2h0m2 1h0m4-1h0m2 2h0m2 0h0m5-2h0m0 3h0m3 0h0m1-3h0m1-2h0m0 4h0m5 1h0m0-2h0m4 0h0m3-3h0m10 2h0m4 0h0m2 3h0m3-1h0m1-3h0m4 2h0m12 0h0m21 2h0m9-1h0m-436 7h0m38 0h0m76-2h0m151-1h0m4-2h0m3 4h0m1-3h0m2 3h0m5 1h0m3-4h0m1-1h0m2 3h0m9-1h0m4 1h0m3 1h0m3 0h0m0-1h0m2 0h0m5 0h0m4-2h0m0 4h0m0-5h0m3 2h0m1 3h0m2-5h0m1 5h0m1-4h0m2-1h0m3 5h0m1-4h0m4 4h0m1-3h0m0-2h0m3 3h0m3-3h0m2 0h0m6 1h0m2 4h0m5 0h0m4-5h0m1 1h0m3 0h0m2 2h0m4-3h0m1 3h0m2-3h0m1 4h0m2-4h0m1 5h0m5 0h0m3-5h0m4 1h0m0 3h0m1-4h0m2 4h0m3-1h0m2 1h0m2-2h0m1 3h0m1-5h0m3 2h0m2 0h0m4 1h0m5 0h0m22 2h0m18 0h0m-377 5h0m40-3h0m85 2h0m72-1h0m5 1h0m4-3h0m2 1h0m2-1h0m3 1h0m4 4h0m1-4h0m1-1h0m4 2h0m3 0h0m0 3h0m3-4h0m2 3h0m3-1h0m3 1h0m1 0h0m7-4h0m3 5h0m3-5h0m6 5h0m0-3h0m1-1h0m5 2h0m5 0h0m3 0h0m3-1h0m0 2h0m2-1h0m2 1h0m4-4h0m1 0h0m2 1h0m1 4h0m4-4h0m10 2h0m1 1h0m4-4h0m0 3h0m2 2h0m3-1h0m2-3h0m6-1h0m2 2h0m13 2h0m3-1h0m1 1h0m3-2h0m2 0h0m0-2h0m1 4h0m1-1h0m0 2h0m10-1h0m1 0h0m15-2h0m4 2h0m13-1h0m-387 7h0m77-4h0m40 0h0m130 1h0m3 1h0m2-1h0m0 4h0m3-4h0m7 3h0m1-4h0m1 3h0m6 1h0m0-4h0m3 1h0m4 3h0m2 0h0m1-4h0m5 3h0m3 1h0m2-4h0m1 1h0m4 1h0m6 0h0m1 0h0m9 1h0m3 1h0m7-3h0m5 2h0m10 2h0m3 0h0m0-2h0m1-2h0m2 2h0m4-1h0m5 2h0m4-1h0m4-3h0m1 2h0m2-2h0m4 5h0m1-3h0m55 2h0m-159 2h0m16 2h0m8-1h0m2 1h0m3-2h0m3 3h0m0-3h0m5 1h0m9 2h0m5 1h0m2-1h0m5 2h0m2-3h0m1-1h0m1 4h0m2-1h0m2-3h0m3 0h0m6 3h0m3-1h0m12 1h0m2 1h0m1-1h0m3 1h0m4-2h0m3 1h0m1-1h0m3 2h0m5-1h0m2-4h0m3 4h0m9 0h0m3-2h0m3-1h0m9-1h0m-469 11h0m56-1h0m83-2h0m221-2h0m6 2h0m2-2h0m11 2h0m3 2h0m2 0h0m3-2h0m2 1h0m1 1h0m5 1h0m1-5h0m4 1h0m1 3h0m4-2h0m1 2h0m3 0h0m0-2h0m4-2h0m4 0h0m2 4h0m0-1h0m4-2h0m2 4h0m3-3h0m3 2h0m3-2h0m3 1h0m0-2h0m4 2h0m0-1h0m5-2h0m7 2h0m4 0h0m2 2h0m1-4h0m3 1h0m4 4h0m-405 1h0m7 2h0m293-1h0m18 0h0m5 0h0m4 0h0m0 3h0m4-1h0m0-1h0m8 2h0m0-2h0m6 1h0m8-2h0m3-1h0m1 1h0m3 3h0m0-3h0m1 2h0m4-2h0m2 0h0m0 4h0m4-5h0m0 4h0m4 0h0m3-2h0m1 1h0m2-1h0m0 1h0m2 2h0m5-3h0m4-1h0m0 3h0m1-2h0m5-2h0m3 2h0m3 2h0m1-4h0m4 2h0m0-1h0m1 2h0m4-1h0m1 0h0m1 1h0m4 0h0m7-3h0m0 3h0m13 1h0m1-1h0m10 0h0m5-2h0m-358 9h0m4-4h0m86 3h0m137-2h0m15 2h0m2 2h0m2-2h0m0-3h0m4 2h0m6 1h0m2-3h0m1 0h0m1 5h0m3 0h0m5-2h0m3 0h0m1-1h0m1 3h0m3-1h0m1-2h0m3 1h0m0-1h0m4-2h0m1 5h0m2-5h0m2 4h0m4-3h0m1 4h0m6-3h0m5 1h0m3 0h0m2-3h0m1 4h0m5-3h0m2 3h0m3-3h0m1 3h0m3-1h0m4-2h0m1 3h0m5 1h0m2-2h0m0-2h0m3 1h0m2 1h0m17 2h0m19-4h0m-268 9h0m75 0h0m63-3h0m5 2h0m6 0h0m2 2h0m1 0h0m8-2h0m1 2h0m1-4h0m4 4h0m2-2h0m3 0h0m2 2h0m5-2h0m3 1h0m5-2h0m1 3h0m3-5h0m2 0h0m4 5h0m1-1h0m0-2h0m4-2h0m1 5h0m5-1h0m3-3h0m0 3h0m3 1h0m1-5h0m3 2h0m5 3h0m1-3h0m2 1h0m4-1h0m0 1h0m1-2h0m6-1h0m0 1h0m2 4h0m1-2h0m1 0h0m3 0h0m2 2h0m4-3h0m0 3h0m1-2h0m-375 8h0m64-1h0m54-1h0m173 1h0m4-3h0m1 3h0m1-2h0m8-2h0m0 2h0m3 2h0m7-4h0m1 2h0m0-1h0m2 4h0m2-1h0m1 1h0m3-3h0m5 0h0m1 1h0m3-2h0m3 3h0m8 1h0m10-4h0m3 3h0m2-4h0m2 1h0m7 0h0m3 4h0m1-3h0m5 3h0m2-5h0m1 2h0m6 3h0m-114 3h0m6 2h0m4-4h0m11 3h0m2-1h0m1-2h0m5 4h0m5-4h0m1 1h0m1 1h0m2 2h0m1-3h0m0 2h0m2 1h0m2-3h0m11 3h0m1-2h0m7-2h0m5 5h0m1-3h0m3-1h0m2 3h0m5 0h0m3-4h0m2 4h0m5-1h0m10-2h0m1 2h0m3 1h0m3-3h0m1 4h0m0-1h0m1-4h0m13 3h0m-162 8h0m60-1h0m15-4h0m6 3h0m5-2h0m5-1h0m2 3h0m0-2h0m6 4h0m1-1h0m5-2h0m3 3h0m8-4h0m4 0h0m8-1h0m0 3h0m1 2h0m3-5h0m2 5h0m5-4h0m2 2h0m5 1h0m1-4h0m-517 8h0m438-2h0m8 0h0m8 3h0m7-3h0m7 3h0m1-2h0m6 1h0m3-2h0m1 3h0m1 2h0m0-5h0m4 4h0m2 0h0m1 1h0m4 0h0m3-1h0m2 0h0m9-3h0m1 3h0m4-2h0m3 1h0m0-2h0m1 4h0m1-4h0m3 3h0m2-3h0m2 1h0m0-1h0m5 4h0m0-5h0m-265 11h0m207-4h0m3 2h0m1-3h0m8 3h0m3-2h0m1 1h0m6-1h0m1 0h0m0 4h0m3-4h0m6 2h0m6-1h0m1 2h0m1-2h0m2 0h0m3 2h0m4-1h0m4 1h0m-500 4h0m335 3h0m15-3h0m89 1h0m5 2h0m13-4h0m11 1h0m3 1h0m0-1h0m2-1h0m4 1h0m8-1h0m0 4h0m0-5h0m2 3h0m1 0h0m3-3h0m1 4h0m1-2h0m4-1h0m2 3h0m3-4h0m-376 11h0m24-1h0m95-1h0m93 1h0m40-4h0m59 5h0m14-5h0m5 0h0m2 0h0m8 5h0m0-5h0m2 3h0m3 0h0m2-1h0m2 1h0m1-3h0m0 1h0m1 3h0m3 1h0m2-3h0m3-1h0m2 2h0m6 0h0m1-1h0m1-2h0m1 2h0m7-1h0m2 3h0m-462 6h0m42-3h0m211 3h0m124 0h0m36-3h0m1 4h0m3-4h0m2-1h0m4 1h0m3 4h0m0-4h0m2 1h0m6-1h0m1 4h0m1 0h0m6-2h0m2-2h0m1-1h0m4 3h0m3-2h0m1 3h0m1-4h0m2 0h0m1 4h0m2 1h0m0-2h0m-412 6h0m92-1h0m256-2h0m21 3h0m2-3h0m2 3h0m1 0h0m2 0h0m5-1h0m3 1h0m2-2h0m1 1h0m5 3h0m10-1h0m5 0h0m2 0h0m3-4h0m-463 9h0m231 0h0m173 1h0m7 1h0m2-5h0m7 1h0m2 2h0m2-3h0m1 2h0m3 0h0m5-1h0m1 2h0m0-2h0m4 0h0m2 1h0m8 2h0m7-1h0m3-1h0m4 2h0m0-3h0m-240 10h0m180 0h0m13-3h0m5 2h0m2-2h0m3-1h0m2 3h0m2 1h0m6-5h0m6 5h0m5-4h0m1 2h0m1 2h0m4-5h0m4 4h0m1 1h0m3-4h0m0 1h0m-397 5h0m200 2h0m140-2h0m14 4h0m5-3h0m1 1h0m3 2h0m1-4h0m4 4h0m0-5h0m1 2h0m4-1h0m4 1h0m3 3h0m0-1h0m2-2h0m2-1h0m2 4h0m3-2h0m4 0h0m3-1h0m-452 6h0m398-2h0m8 3h0m3 2h0m4-2h0m1-3h0m2 5h0m1-5h0m3 4h0m6-2h0m2-2h0m1 0h0m4 5h0m3-3h0m1 3h0m3-5h0m1 4h0m2 1h0m4-3h0m2 3h0m-50 5h0m5-3h0m0 1h0m3 3h0m3-3h0m2-2h0m0 2h0m7 2h0m2-1h0m1 2h0m0-5h0m4 3h0m2-1h0m2 2h0m3-2h0m1 0h0m1 2h0m1-4h0m1 1h0m6-1h0m0 4h0m1 1h0m1-3h0m-261 8h0m15 1h0m92 0h0m77-5h0m37 1h0m3 2h0m1 2h0m2-1h0m1-1h0m4-1h0m3 2h0m1-2h0m1-1h0m3 2h0m2-2h0m5 4h0m3 0h0m3-4h0m0 2h0m6 0h0m-223 3h0m145 2h0m0-1h0m4 4h0m12 0h0m2 0h0m4-1h0m6 0h0m3 0h0m4-2h0m3 0h0m0-2h0m3 2h0m1-1h0m3 4h0m1-4h0m1 3h0m3-4h0m3 5h0m0-1h0m3 1h0m1-5h0m0 4h0m2-4h0m1 4h0m3-3h0m7 1h0m2 2h0m3-1h0m3-2h0m-125 10h0m57-1h0m2 0h0m2 1h0m1 0h0m2 0h0m2-1h0m6 0h0m1-2h0m5 1h0m2 0h0m3 2h0m0-5h0m2 5h0m2-4h0m0 4h0m11-3h0m11 2h0m1-4h0m2 3h0m1-1h0m3 3h0m2-5h0m0 4h0m2-3h0m3 2h0m-305 8h0m163-5h0m65 1h0m5-1h0m1 3h0m4 0h0m0-2h0m10 4h0m2-5h0m5 4h0m1-3h0m5 0h0m3 0h0m4 2h0m2-1h0m2 0h0m5 0h0m1 1h0m3-1h0m1 2h0m3-1h0m3 2h0m1-4h0m2 0h0m2 4h0m0-2h0m6 2h0m4-5h0m-80 11h0m2-5h0m2 5h0m3-4h0m7 0h0m0 4h0m6 0h0m1-3h0m7-1h0m4 2h0m3 0h0m2-3h0m4 2h0m4 2h0m3-3h0m1-1h0m3 3h0m6-2h0m2 2h0m3 0h0m3-2h0m1 2h0m2 2h0m7-3h0m-74 4h0m3 3h0m1 1h0m1 0h0m2-1h0m1 2h0m0-5h0m2 3h0m1 1h0m3-4h0m2 0h0m3 2h0m0 3h0m3 0h0m1-5h0m5 5h0m2-5h0m2 0h0m1 2h0m2 3h0m3-2h0m6-2h0m1 3h0m2-1h0m5 2h0m2-4h0m2 2h0m2-3h0m4 2h0m1 1h0m3-2h0m6-1h0m1 2h0m-75 4h0m14 3h0m4 0h0m3 0h0m1 2h0m6-2h0m1 1h0m1 0h0m3-3h0m6 1h0m2 1h0m3-2h0m5 4h0m1-2h0m5-1h0m2-1h0m0-1h0m4 2h0m3-2h0m-310 11h0m176-2h0m87 1h0m3 1h0m6-3h0m10-2h0m-24 8h0m12-1h0m19 0h0m-42 9h0m-195 4h0m1 3h0m88 3h0m146-2h0m2 19h0m-165 11h0" stroke="#FA3CF6" stroke-width="4.7" stroke-linecap="round"/>
<path transform="scale(0.5)" d="M579 305h0m-97 29h0m-20 21h0m109 7h0m101 1h0m-254 8h0m255 5h0m-282 6h0m4 1h0m2-2h0m1 2h0m69-1h0m68-2h0m-150 8h0m3-1h0m1-3h0m0 4h0m3-3h0m2 1h0m1 2h0m3-1h0m5-1h0m1-1h0m-10 6h0m0 4h0m0-5h0m1 2h0m1-1h0m2 0h0m1 3h0m2-3h0m1 1h0m0 3h0m4 0h0m0-4h0m2 2h0m-9 7h0m1-3h0m3 1h0m4-1h0m0 4h0m1-4h0m4 1h0m0-1h0m9 2h0m117 2h0m-140 6h0m3-4h0m3 4h0m0-5h0m6 3h0m2-1h0m1 3h0m3-1h0m1-4h0m-27 7h0m14 0h0m1 2h0m2 0h0m1-1h0m3 0h0m7-1h0m2-1h0m0 4h0m4 0h0m1-3h0m2 3h0m305-2h0m13 3h0m-345 3h0m10-2h0m0 2h0m1-2h0m2 4h0m1-1h0m1 1h0m3 1h0m0-5h0m3 0h0m2 5h0m1-2h0m7 2h0m2-3h0m2 0h0m54 2h0m-77 3h0m3 0h0m4 3h0m0-2h0m7-2h0m1 4h0m0-2h0m1-1h0m1-1h0m4 2h0m1-2h0m1 3h0m3-1h0m1-2h0m106 5h0m-122 2h0m2 3h0m3-3h0m1 0h0m2 1h0m1 3h0m2-4h0m0 2h0m5 1h0m1-3h0m2 3h0m4 1h0m81-2h0m-99 5h0m2 0h0m4-2h0m2 3h0m0 2h0m1-1h0m1-3h0m4 2h0m5 1h0m-13 4h0m3-1h0m1 4h0m5-3h0m3 2h0m1-3h0m3 1h0m2-1h0m3 2h0m-13 7h0m0-2h0m2 0h0m1 1h0m7-2h0m0 3h0m2 1h0m0-3h0m3 1h0m1-1h0m2 1h0m-18 4h0m1 2h0m2-3h0m3 3h0m2 0h0m3-3h0m3 5h0m1-5h0m1 5h0m3-4h0m2 0h0m2 3h0m3 1h0m-20 5h0m1-2h0m3 2h0m2-3h0m1 3h0m2-1h0m4 1h0m0-1h0m7 0h0m39 0h0m-52 5h0m2 3h0m2-5h0m1 1h0m3-1h0m1 5h0m1-3h0m4 2h0m2-3h0m0 2h0m3-2h0m0 4h0m227-1h0m169 0h0m-411 4h0m1-1h0m2 3h0m4-3h0m2 0h0m1-1h0m5 2h0m2-1h0m3 4h0m-16 1h0m1 4h0m5-2h0m2 2h0m1-4h0m5 2h0m2 3h0m5-1h0m2-1h0m99-3h0m44 5h0m-161 1h0m1 1h0m4 4h0m2-5h0m2 5h0m2-5h0m2 3h0m1 0h0m6 0h0m2 2h0m-15 1h0m1 5h0m2-4h0m3 4h0m1-4h0m0 1h0m2 2h0m3 0h0m1-2h0m0-2h0m2 4h0m4 1h0m-15 1h0m0 2h0m3 3h0m5-3h0m0 3h0m2-2h0m1 1h0m3-4h0m2 2h0m5 2h0m-16 4h0m1 3h0m0-5h0m3 2h0m1-1h0m4 3h0m0-4h0m1 1h0m2-1h0m1 5h0m1-2h0m0-1h0m1 3h0m5 0h0m1 0h0m419-3h0m-435 9h0m3-3h0m5-1h0m3 0h0m3 2h0m0 2h0m4-2h0m-32 8h0m21-5h0m1 4h0m6-1h0m3 1h0m2 1h0m1 0h0m383-5h0m-399 7h0m3 1h0m2-1h0m0 4h0m2 0h0m2-5h0m0 4h0m4-2h0m1-1h0m2 1h0m4 3h0m0-1h0m44 0h0m82-2h0m-143 4h0m3 3h0m0-3h0m5 1h0m1 4h0m0-3h0m3 2h0m0-1h0m2-2h0m6 2h0m1-2h0m1 0h0m1 4h0m-16 5h0m2-2h0m3-2h0m3 4h0m1-2h0m1 3h0m3-3h0m3 0h0m0 3h0m140-2h0m38 1h0m-191 2h0m1 0h0m2 3h0m2 2h0m2-3h0m3 2h0m1-2h0m1-2h0m3 0h0m1 3h0m1 1h0m402-3h0m-446 8h0m35-1h0m1 0h0m4-2h0m0 4h0m2 0h0m3-3h0m2 3h0m-13 7h0m1-1h0m1 0h0m3-3h0m1 3h0m1 0h0m1 0h0m3-1h0m2 1h0m4-1h0m104 0h0m-118 6h0m5 1h0m4-3h0m2-1h0m0 4h0m1-1h0m2 2h0m2-3h0m2 2h0m396-3h0m-412 6h0m7 1h0m1 0h0m3 1h0m0 2h0m4-5h0m0 3h0m1-3h0m3 3h0m1-2h0m1 2h0m4 1h0m407-4h0m19 0h0m-444 6h0m4 2h0m4 3h0m0-3h0m4 0h0m0-1h0m0 3h0m6 0h0m3-3h0m1 1h0m3 0h0m246 3h0m-279 6h0m13-3h0m3-2h0m1 3h0m3-3h0m3 2h0m2 0h0m1 2h0m1-4h0m2 4h0m3-3h0m6 4h0m4-1h0m-21 3h0m2-1h0m3 0h0m1 1h0m4 4h0m0-4h0m1-1h0m2 5h0m0-2h0m4-2h0m5 2h0m0-1h0m1 2h0m-34 3h0m17 0h0m2-1h0m0 4h0m4-3h0m7 4h0m2-5h0m1 1h0m4 1h0m2 1h0m1-3h0m5 3h0m3 2h0m1-2h0m2 1h0m-25 2h0m3 3h0m0-2h0m1 1h0m3-1h0m1-1h0m3 5h0m1-2h0m4-1h0m3 2h0m4-1h0m1 1h0m1-2h0m4 3h0m0-3h0m2-1h0m1 3h0m2-1h0m0 2h0m-29 1h0m3 2h0m5 1h0m2-3h0m1 2h0m2-2h0m1 4h0m1-4h0m1 4h0m7-2h0m2 2h0m3-2h0m4-2h0m2 3h0m5 2h0m1-3h0m196 2h0m-222 4h0m2-1h0m1 2h0m2-3h0m1 4h0m4 1h0m0-5h0m3 4h0m2-2h0m1-2h0m1 5h0m0-4h0m3 3h0m2 1h0m1-5h0m1 3h0m4 2h0m1-4h0m2 1h0m1 0h0m2 1h0m3 1h0m5 0h0m0-3h0m3 4h0m3-1h0m2 1h0m-51 1h0m4 1h0m2-1h0m2 5h0m2-2h0m1 2h0m2 0h0m2-4h0m6 3h0m2-2h0m5-1h0m4 1h0m2 1h0m5-3h0m1 5h0m1-5h0m3 1h0m5 0h0m1 4h0m0-1h0m1-3h0m4 4h0m1-3h0m2 0h0m3 3h0m3-1h0m-55 2h0m6 0h0m2 0h0m5 3h0m3 2h0m1-3h0m5 0h0m2 2h0m1-3h0m1 0h0m4 0h0m1 2h0m2 1h0m3-3h0m1 3h0m3-2h0m1 1h0m2-1h0m1 2h0m3 1h0m0-5h0m3 5h0m2-2h0m2 1h0m2-1h0m5 0h0m10 1h0m4-1h0m7 2h0m30-4h0m-85 6h0m1-1h0m2 5h0m3-3h0m4 2h0m1-2h0m2 2h0m1-3h0m2 2h0m3-1h0m0 2h0m4-4h0m1 1h0m0 3h0m2 0h0m4-2h0m0 3h0m1-5h0m2 4h0m1-4h0m1 2h0m1-2h0m1 0h0m1 5h0m1-4h0m5 1h0m0 3h0m2-3h0m1 2h0m3-4h0m1 3h0m1 2h0m1-5h0m3 0h0m3 4h0m2 0h0m144 0h0m-192 3h0m2-1h0m0 3h0m3-1h0m5 3h0m1-3h0m3 2h0m1-2h0m1 3h0m6-1h0m1 0h0m1-2h0m5-2h0m1 1h0m3 0h0m3 0h0m2 3h0m2 0h0m2-4h0m1 4h0m0 1h0m2-4h0m2 3h0m1 0h0m2 0h0m3 0h0m1-1h0m3 0h0m5 2h0m3-1h0m1-3h0m6 1h0m0 3h0m1-1h0m2-4h0m3 5h0m49 0h0m66-3h0m-173 5h0m3 3h0m1-4h0m2 4h0m3-3h0m4-1h0m0 4h0m3 0h0m1-3h0m0 3h0m4 1h0m2-2h0m2 0h0m1-3h0m5 1h0m2 4h0m1-3h0m0-2h0m6 5h0m3 0h0m3-3h0m1-2h0m2 4h0m1 1h0m1-4h0m3 1h0m3 0h0m4 1h0m2 0h0m4-2h0m1 3h0m2 1h0m0-2h0m7 2h0m-67 1h0m7 0h0m5 2h0m3-2h0m2 2h0m2 0h0m1-2h0m1 5h0m5-3h0m2-1h0m1 1h0m1 1h0m4 0h0m4-1h0m0 3h0m6-3h0m1 2h0m2-2h0m1-1h0m1 1h0m1 0h0m4-1h0m3 1h0m0 3h0m2 0h0m2-2h0m1-2h0m3 4h0m1 0h0m4-4h0m0 3h0m2-2h0m6 3h0m0-4h0m7 3h0m5-1h0m22 2h0m-89 1h0m2 1h0m4 0h0m1 0h0m2 1h0m2-2h0m1 2h0m1-2h0m4 4h0m0-3h0m3 0h0m4 4h0m1-5h0m4 3h0m2-1h0m7 1h0m7 0h0m3-1h0m0 1h0m3-2h0m1 2h0m2-2h0m0 2h0m4 0h0m1-2h0m2 4h0m3-1h0m1-4h0m1 0h0m1 5h0m1-1h0m1-2h0m2 2h0m1 0h0m2-2h0m3 1h0m0-3h0m2 2h0m2-1h0m1 4h0m3-1h0m2-4h0m2 2h0m1 3h0m3 0h0m2-3h0m1 3h0m1 0h0m7-2h0m3 0h0m5 1h0m4-1h0m13 2h0m70 0h0m5 0h0m6-1h0m5-1h0m8 2h0m3-1h0m3 0h0m-198 2h0m2 1h0m4 3h0m0-2h0m4 0h0m0 3h0m2-5h0m5 1h0m2 1h0m1 1h0m3-3h0m3 5h0m1-3h0m1 1h0m0-1h0m4 2h0m1-4h0m2 4h0m2-1h0m5-3h0m6 2h0m5 0h0m3-1h0m4 4h0m5-4h0m1 4h0m0-2h0m3-1h0m3-1h0m0 3h0m2 0h0m0-1h0m3-1h0m8 1h0m1-3h0m2 5h0m4-4h0m1 2h0m0-2h0m10 0h0m0 2h0m5-3h0m0 4h0m2 1h0m2-5h0m1 3h0m3-2h0m8 4h0m2-3h0m2 3h0m1-2h0m7 2h0m3-5h0m4 3h0m1-2h0m0 3h0m2-2h0m1-2h0m5 5h0m4-3h0m1 3h0m2-3h0m1 1h0m1-3h0m4 5h0m3 0h0m0-5h0m3 4h0m2-3h0m3-1h0m1 1h0m1 2h0m3 0h0m1 2h0m3-1h0m0-3h0m2-1h0m2 3h0m2-2h0m3 3h0m2-4h0m3 2h0m2-2h0m3 5h0m-191 1h0m5 0h0m2 1h0m5 0h0m5 2h0m2 0h0m7-3h0m0 4h0m1-1h0m2 1h0m0-3h0m0-1h0m2 4h0m0-2h0m5 3h0m0-5h0m1 0h0m3 2h0m0 3h0m2-5h0m3 5h0m2-2h0m1-2h0m5 0h0m4 2h0m1-1h0m3 3h0m1-2h0m4 0h0m1-3h0m2 1h0m1 1h0m6-2h0m3 2h0m1-1h0m3 4h0m4 0h0m0-5h0m1 3h0m1-2h0m4 1h0m2 3h0m1-1h0m2-2h0m3 2h0m1-4h0m1 0h0m0 2h0m3-1h0m4 0h0m4 4h0m0-5h0m1 3h0m4-1h0m3 3h0m3-5h0m3 1h0m0 4h0m7-5h0m2 0h0m2 3h0m2-3h0m0 3h0m4-2h0m0 4h0m5-4h0m0-1h0m0 4h0m1-2h0m2 3h0m4-3h0m2 0h0m2 0h0m1 1h0m0-3h0m2 4h0m2-3h0m3 4h0m0-4h0m6 4h0m1-4h0m1-1h0m3 2h0m1 2h0m2-2h0m5 0h0m1 2h0m3-4h0m-164 7h0m8 2h0m2 0h0m3-2h0m2-1h0m6 4h0m0-1h0m1 0h0m3-3h0m3 2h0m3-1h0m1 3h0m1-2h0m9 2h0m3-4h0m1 3h0m1 2h0m0-5h0m4 0h0m0 2h0m0-1h0m1 4h0m3-2h0m4 1h0m2 1h0m1-1h0m0-1h0m3 1h0m3-3h0m1 0h0m0 3h0m2-3h0m5 3h0m1-4h0m3 1h0m5 4h0m2-5h0m2 1h0m3 1h0m2 2h0m1 1h0m2-5h0m3 2h0m0-1h0m0 4h0m4-4h0m0-1h0m3 3h0m3 2h0m4-5h0m1 1h0m1 4h0m2 0h0m0-2h0m5-2h0m0 2h0m6-3h0m2 2h0m0-2h0m1 4h0m2-1h0m4 1h0m4-3h0m2 0h0m3 1h0m1 2h0m0-1h0m4-3h0m1 2h0m2 1h0m35-1h0m34 2h0m-193 2h0m7 0h0m9 2h0m7 0h0m2-1h0m4 2h0m6-1h0m2 0h0m3 0h0m2-2h0m1 1h0m4 1h0m12-2h0m1 1h0m7-1h0m1 1h0m6 0h0m0-1h0m2 0h0m9 1h0m8-1h0m3 0h0m9 0h0m9 0h0m-156 15h0m92 13h0" stroke="#F6222E" stroke-width="4.7" stroke-linecap="round"/>
<path transform="scale(0.5)" d="M653 381h0m-242 4h0m-26 16h0m243 0h0m-192 5h0m31-3h0m-92 27h0m230-2h0m142-2h0m-292 6h0m261 24h0m-53 8h0m203 1h0m-97 6h0m-15 14h0m-192 3h0m241 3h0m-135 4h0m-125 5h0m-27 6h0m427 15h0m-240 11h0m-256 10h0m278 1h0m251 7h0m-216 13h0m65 0h0m-100 2h0m-88 9h0m65-1h0m292 13h0m-181 4h0m11-1h0m-286 10h0m235 0h0m71-2h0m-218 7h0m219-3h0m-79 28h0m74-1h0m89 14h0m-228 14h0m30 18h0m15 6h0m149 3h0" stroke="#16FF32" stroke-width="4.1" stroke-linecap="round"/>
<path transform="scale(0.5)" d="M559 299h0m-73 46h0m15 16h0m161 1h0m5 1h0m5-3h0m2 2h0m2 1h0m0 1h0m5 1h0m-10 2h0m0 2h0m2-3h0m3 4h0m3-2h0m-2 4h0m2 0h0m8 5h0m5-1h0m4-1h0m2 6h0m8 2h0m-220 5h0m215-4h0m4 2h0m1 1h0m11 3h0m-210 7h0m-31 23h0m187 18h0m136 5h0m-9 3h0m3-1h0m7 3h0m4-2h0m0 3h0m-1 1h0m1 2h0m3 1h0m2-3h0m3 4h0m1-4h0m3 4h0m0-1h0m4 0h0m-340 7h0m339-3h0m10 0h0m9 2h0m10 2h0m-259 1h0m244 0h0m1 1h0m11 3h0m0-1h0m5 0h0m1-1h0m7 0h0m3 2h0m-2 5h0m2-3h0m3 1h0m3 4h0m0-5h0m1 5h0m5-1h0m1 1h0m2-3h0m0 3h0m3 3h0m-291 17h0m250 6h0m-407 21h0m497-2h0m-363 11h0m299 1h0m-375 6h0m415 23h0m-166 28h0m-4 12h0m239-1h0m-260 5h0m55 26h0m80-4h0m83 0h0m9 4h0m-331 6h0m220 29h0m98 14h0m-129 11h0m-49 7h0" stroke="#1CFFCE" stroke-width="4.1" stroke-linecap="round"/>
<path transform="scale(0.5)" d="M571 298h0m-73 112h0m73 15h0m79 15h0m-132 10h0m81 39h0m-107 25h0m122 18h0m228-2h0m-75 9h0m-258 22h0m189 3h0m175 40h0m-103 8h0m40 23h0m7-5h0m-150 17h0m259 25h0m-160 10h0" stroke="#3283FE" stroke-width="4.1" stroke-linecap="round"/>
<path transform="scale(0.5)" d="M543 307h0m-90 43h0m149 11h0m-128 27h0m35 1h0m39-2h0m97 8h0m-187 24h0m47 13h0m-27 24h0m30 5h0m-91 30h0m105-1h0m228-3h0m38 17h0m-304 6h0m16 1h0m70 3h0m364 1h0m-227 9h0m143 9h0m-102 6h0m-260 1h0m-27 12h0m41 5h0m-7 1h0m518 2h0m-377 7h0m47 1h0m34 0h0m-152 4h0m146 0h0m51 5h0m5 10h0m-84 1h0m224 1h0m35 1h0m-87 6h0m-160 12h0m111 4h0m-43 10h0m45 7h0m31-5h0m-157 24h0m-17 6h0m34 28h0m254 1h0m-190 6h0m156-3h0m-160 8h0m49 12h0" stroke="#90AD1C" stroke-width="4.1" stroke-linecap="round"/>
<path transform="scale(0.5)" d="M531 390h0m-21 8h0m-10 12h0m7 2h0m-21 11h0m55 4h0m-152 17h0m46 3h0m33 6h0m216-1h0m-43 9h0m-211 1h0m156 21h0m-83 7h0m128-2h0m236 3h0m-420 10h0m187 6h0m298-3h0m-474 11h0m62 3h0m84 2h0m-121 7h0m488-2h0m-236 26h0m-5 20h0m103 0h0m-122 8h0m191 3h0m-294 12h0m110 2h0m235 1h0m-79 8h0m57-5h0m-24 17h0m-22 24h0m-58 6h0m-86 8h0m61 0h0m-117 10h0m187-3h0m-179 7h0m45 8h0m-20 1h0m171 8h0m49 18h0" stroke="#A81A60" stroke-width="4.1" stroke-linecap="round"/>
<path transform="scale(0.5)" d="M556 303h0m52 46h0m-101 8h0m-29 4h0m202 28h0m-166 33h0m23 15h0m244 0h0m-194 54h0m224 16h0m-154 6h0m-165 5h0m76 7h0m417-2h0m-372 14h0m125-2h0m137 16h0m-11 17h0m27 10h0m14 44h0m-244 40h0m66 1h0m-8 7h0m110 5h0m-77 3h0m157 2h0m-124 19h0" stroke="#F8A19F" stroke-width="4.1" stroke-linecap="round"/>
<path transform="scale(0.5)" d="M463 345h0m3 71h0m323 42h0m-232 19h0m154 9h0m-202 15h0m31 34h0m338 16h0m-208 9h0m12 3h0m211-5h0m-281 13h0m-11 8h0m-79 7h0m-12 4h0m43 9h0m282-3h0m1 8h0m98 24h0m-291 34h0m261 7h0m-40 7h0" stroke="#325A9B" stroke-width="4.1" stroke-linecap="round"/>
<path transform="scale(0.5)" d="M564 296h0m7 27h0m-128 44h0m300 45h0m-61 26h0m88 2h0m-77 8h0m-106 3h0m-62 27h0m74 3h0m144 1h0m43 1h0m18 27h0m-250 14h0m73 9h0m-101 6h0m20-1h0m307 0h0m-158 7h0m168-3h0m-269 7h0m313 0h0m-400 12h0m39 0h0m-34 6h0m287-1h0m-197 4h0m152 0h0m122 3h0m10 1h0m-154 11h0m15-3h0m183 21h0m-241 3h0m126 5h0m119 3h0m-94 28h0m76 6h0m-264 13h0m312 5h0m-47 59h0" stroke="#C4451C" stroke-width="4.1" stroke-linecap="round"/>
<path transform="scale(0.5)" d="M552 294h0m-64 56h0m-87 27h0m8-1h0m119 12h0m-43 9h0m45 24h0m95 6h0m115 0h0m40 10h0m-85 6h0m-214 5h0m149-1h0m-136 8h0m41-3h0m-40 5h0m221 12h0m62 15h0m1 12h0m-99 24h0m284 7h0m-525 17h0m205 4h0m-51 6h0m59 20h0m3-4h0m149 11h0m-61 18h0m-89 6h0m301-1h0m-306 8h0m116 3h0m83 8h0m20-2h0m-170 3h0m75 13h0m142 2h0m-283 3h0m19 0h0m164 3h0m56 1h0m30-3h0m-153 5h0m-100 14h0m330 0h0m-276 12h0m202 1h0m-183 8h0m3-2h0m217 6h0m12 0h0m-86 3h0" stroke="#85660D" stroke-width="4.1" stroke-linecap="round"/>
<path transform="scale(0.5)" d="M507 361h0m221 39h0m-76 31h0m-69 62h0m47 5h0m-72 33h0m0 7h0m382 13h0m-222 5h0m151 13h0m-168 9h0m139-1h0m-114 12h0m-81 54h0m-19 12h0m229 19h0m-115 12h0m174-1h0m-51 28h0m-13 5h0m2-2h0m3 0h0m2 3h0m1-4h0m3 1h0m2 2h0m1 1h0m1-4h0m4 0h0m1 1h0m1 2h0m3-4h0m1 1h0m2 3h0m1 0h0m2-3h0m1-1h0m0 2h0m5-1h0m1 3h0m1-1h0m0 2h0m2-1h0m0-3h0m2 4h0m4 0h0m-50 3h0m2 1h0m0 2h0m2-2h0m0-3h0m4 1h0m0 1h0m1 2h0m4-4h0m0 2h0m4 2h0m1-2h0m2 1h0m3-1h0m4 0h0m1-2h0m1 2h0m0 2h0m5 1h0m1-4h0m2 0h0m2 3h0m1-4h0m4 5h0m4-3h0m1 0h0m4 2h0m-46 5h0m0-2h0m4 0h0m1 3h0m2-4h0m3 1h0m2 2h0m1-3h0m3 0h0m4 2h0m1 1h0m1-3h0m5 0h0m2 3h0m3-3h0m1 4h0m1 0h0m1-4h0m3 2h0m4-1h0" stroke="#2ED9FF" stroke-width="4.7" stroke-linecap="round"/>
<rect x="53.6" y="32.5" width="476.4" height="482.9" fill="none" stroke="#555" stroke-width="1.4"/>
<text x="556.0" y="47.0" font-size="17">cell type</text>
<circle cx="569.6" cy="70.7" r="5.3" fill="#5A5156"/>
<text x="591.6" y="75.6" font-size="13.8" fill="#1a1a1a">Astrocyte</text>
<circle cx="569.6" cy="97.7" r="5.3" fill="#F6222E"/>
<text x="591.6" y="102.6" font-size="13.8" fill="#1a1a1a">CA1</text>
<circle cx="569.6" cy="124.7" r="5.3" fill="#FA3CF6"/>
<text x="591.6" y="129.6" font-size="13.8" fill="#1a1a1a">CA3</text>
<circle cx="569.6" cy="151.7" r="5.3" fill="#16FF32"/>
<text x="591.6" y="156.6" font-size="13.8" fill="#1a1a1a">Cajal_Retzius</text>
<circle cx="569.6" cy="178.7" r="5.3" fill="#3283FE"/>
<text x="591.6" y="183.6" font-size="13.8" fill="#1a1a1a">Choroid</text>
<circle cx="569.6" cy="205.7" r="5.3" fill="#FEAF16"/>
<text x="591.6" y="210.6" font-size="13.8" fill="#1a1a1a">Denate</text>
<circle cx="569.6" cy="232.7" r="5.3" fill="#A81A60"/>
<text x="591.6" y="237.6" font-size="13.8" fill="#1a1a1a">Endothelial_Stalk</text>
<circle cx="569.6" cy="259.7" r="5.3" fill="#1CFFCE"/>
<text x="591.6" y="264.6" font-size="13.8" fill="#1a1a1a">Endothelial_Tip</text>
<circle cx="569.6" cy="286.7" r="5.3" fill="#90AD1C"/>
<text x="591.6" y="291.6" font-size="13.8" fill="#1a1a1a">Entorihinal</text>
<circle cx="569.6" cy="313.7" r="5.3" fill="#2ED9FF"/>
<text x="591.6" y="318.6" font-size="13.8" fill="#1a1a1a">Ependymal</text>
<circle cx="569.6" cy="340.7" r="5.3" fill="#DEA0FD"/>
<text x="591.6" y="345.6" font-size="13.8" fill="#1a1a1a">Interneuron</text>
<circle cx="569.6" cy="367.7" r="5.3" fill="#A532F2"/>
<text x="591.6" y="372.6" font-size="13.8" fill="#1a1a1a">Microglia_Macrophages</text>
<circle cx="569.6" cy="394.7" r="5.3" fill="#F8A19F"/>
<text x="591.6" y="399.6" font-size="13.8" fill="#1a1a1a">Mural</text>
<circle cx="569.6" cy="421.7" r="5.3" fill="#325A9B"/>
<text x="591.6" y="426.6" font-size="13.8" fill="#1a1a1a">Neurogenesis</text>
<circle cx="569.6" cy="448.7" r="5.3" fill="#C4451C"/>
<text x="591.6" y="453.6" font-size="13.8" fill="#1a1a1a">Neuron.Slc17a6</text>
<circle cx="569.6" cy="475.7" r="5.3" fill="#1C8356"/>
<text x="591.6" y="480.6" font-size="13.8" fill="#1a1a1a">Oligodendrocyte</text>
<circle cx="569.6" cy="502.7" r="5.3" fill="#85660D"/>
<text x="591.6" y="507.6" font-size="13.8" fill="#1a1a1a">Polydendrocyte</text>
<text x="889.2" y="22.9" font-size="23.1">Selected SVGs: mouse HPC</text>
<path d="M946.9 75.4h0M952.2 75.8h0M983.9 76.4h0M995.3 78.9h0M944.3 82.8h0M933.2 89.0h0M979.8 90.6h0M996.6 90.9h0M916.4 93.0h0M915.8 94.3h0M940.8 93.9h0M920.8 97.0h0M933.6 95.9h0M941.2 98.2h0M905.1 98.9h0M907.6 99.7h0M908.9 100.6h0M920.8 100.2h0M905.7 102.5h0M907.0 102.8h0M921.9 103.1h0M953.5 102.2h0M1058.8 94.0h0M1022.0 100.2h0M1038.6 103.8h0M1016.2 106.2h0M933.0 109.7h0M939.0 108.7h0M951.8 112.9h0M962.0 113.5h0M970.2 111.6h0M975.4 111.8h0M996.3 114.4h0M910.9 113.9h0M921.4 115.0h0M922.6 117.8h0M927.1 116.5h0M911.5 119.0h0M934.1 118.5h0M976.4 118.4h0M950.3 121.1h0M949.7 121.9h0M959.5 122.7h0M949.1 124.8h0M957.9 125.8h0M965.4 125.1h0M968.9 124.5h0M950.3 127.8h0M952.2 128.9h0M951.3 130.1h0M949.1 131.4h0M950.7 133.0h0M942.3 128.9h0M932.7 131.7h0M963.5 132.0h0M950.1 137.7h0M955.2 141.5h0M928.5 143.3h0M932.2 144.1h0M942.8 145.6h0M935.0 149.5h0M966.9 145.9h0M960.3 148.5h0M971.5 148.7h0M974.7 147.0h0M977.7 144.4h0M974.5 150.7h0M939.3 154.9h0M949.8 154.5h0M946.7 157.4h0M951.5 159.5h0M966.4 156.1h0M964.2 159.0h0M963.9 160.3h0M968.6 161.3h0M973.7 156.3h0M982.8 156.9h0M985.8 156.5h0M992.6 156.8h0M1000.2 153.9h0M1005.9 156.5h0M1017.3 155.6h0M956.8 163.8h0M980.5 163.8h0M978.6 166.9h0M977.4 168.5h0M954.1 168.1h0M956.6 168.1h0M1035.1 164.9h0M1047.6 155.6h0M1059.8 159.4h0M1035.8 136.1h0M1041.5 142.9h0M1045.1 141.8h0M1055.9 144.9h0M1063.5 146.7h0M1020.7 108.1h0M1022.6 107.5h0M1023.2 109.4h0M1026.4 109.4h0M1027.0 111.9h0M1030.8 116.3h0M1031.4 117.5h0M1040.0 118.8h0M1036.4 121.3h0M1037.7 122.3h0M1040.2 122.8h0M1038.3 123.8h0M1040.2 126.3h0M1040.8 128.2h0M1044.0 130.7h0M1045.9 127.6h0M1047.1 126.3h0M1048.4 125.7h0M1046.5 128.9h0M1047.8 131.4h0M1049.0 132.6h0M1052.2 126.1h0M1053.4 128.9h0M1054.7 130.1h0M1055.9 128.2h0M1052.8 131.4h0M1058.4 133.9h0M1061.0 131.4h0M1055.9 135.1h0M1064.1 133.9h0M1064.7 135.8h0M1047.1 137.0h0M1049.6 137.7h0M1057.8 138.9h0M1059.1 140.8h0M977.7 169.6h0M1018.0 171.5h0M973.0 174.0h0M975.2 175.5h0M976.7 172.8h0M978.6 173.8h0M991.9 175.5h0M959.4 184.0h0M983.3 185.3h0M993.7 184.3h0M986.0 189.0h0M1000.9 188.1h0M1038.3 183.8h0M1043.6 181.6h0M1042.7 189.4h0M1046.3 191.0h0M973.8 191.3h0M973.8 193.9h0M965.9 195.4h0M978.1 196.0h0M1021.7 190.4h0M1022.2 192.6h0M1024.5 194.8h0M1064.7 196.4h0M995.5 197.8h0M974.5 199.7h0M982.6 200.7h0M985.3 203.4h0M987.9 205.6h0M991.6 204.7h0M993.3 202.1h0M997.6 201.1h0M998.2 202.7h0M1005.3 203.2h0M1010.7 202.7h0M1013.2 204.4h0M1021.6 201.9h0M1027.0 202.9h0M1028.9 201.9h0M1031.7 203.8h0M1040.0 203.7h0M1024.5 208.6h0M1027.5 207.7h0M1030.8 208.2h0M1041.9 208.1h0M1051.8 206.5h0M1046.5 213.1h0M1058.1 212.6h0M986.2 211.4h0M1005.3 217.0h0M1011.1 220.9h0M1037.1 213.9h0M1044.6 216.1h0M1041.5 218.3h0M1044.4 218.3h0M1050.3 216.5h0M1054.9 216.3h0M1064.7 216.8h0M1033.1 224.7h0M1033.3 226.2h0M1051.8 226.8h0M1056.9 227.7h0M1055.3 230.0h0M1065.6 226.8h0M1017.6 231.1h0M1044.6 232.9h0M1047.5 232.1h0M1050.9 232.7h0M1054.2 233.7h0M1061.3 231.9h0M1060.3 235.2h0M1056.6 236.9h0M1060.0 237.3h0M1047.1 236.9h0M1049.0 239.6h0M1030.8 237.5h0M1033.7 238.9h0M1065.4 240.0h0M1059.3 243.9h0M1064.7 246.6h0M1058.1 255.2h0M1128.9 188.1h0M1159.0 191.6h0M1166.6 191.8h0M1070.8 193.1h0M1114.1 198.7h0M1100.8 202.3h0M1153.1 203.4h0M1149.0 205.4h0M1177.3 202.5h0M1170.1 206.3h0M1166.2 208.5h0M1178.3 207.5h0M1187.1 207.3h0M1074.4 207.5h0M1120.9 211.3h0M1069.8 211.9h0M1076.3 212.6h0M1196.1 209.4h0M1156.5 213.8h0M1159.3 211.9h0M1111.5 215.1h0M1094.7 217.0h0M1096.8 217.6h0M1099.9 217.0h0M1149.0 217.0h0M1133.9 217.8h0M1177.9 215.5h0M1099.9 220.1h0M1162.8 216.3h0M1079.2 221.1h0M1143.3 221.6h0M1158.1 218.6h0M1163.4 219.2h0M1106.6 225.8h0M1099.2 224.8h0M1112.8 224.5h0M1124.1 224.5h0M1066.6 226.8h0M1157.5 227.0h0M1156.5 231.0h0M1162.2 231.8h0M1101.2 231.8h0M1131.4 231.4h0M1137.7 232.1h0M1140.8 234.6h0M1152.7 233.3h0M1069.1 235.2h0M1122.6 235.8h0M1097.8 237.1h0M1098.4 239.0h0M1084.9 241.9h0M1114.4 243.1h0M1132.6 245.3h0M1137.0 243.6h0M1145.8 247.5h0M1135.8 248.8h0M1140.9 248.8h0M1159.0 243.7h0M1162.8 245.9h0M1154.6 250.9h0M1158.4 248.8h0M1089.6 252.2h0M1107.5 254.3h0M1109.4 254.1h0M1117.5 254.1h0M1120.1 253.4h0M1165.9 254.1h0M1181.7 251.5h0M1186.7 254.7h0M1187.9 257.8h0M1154.0 256.2h0M1174.1 260.1h0M1176.6 261.6h0M1152.7 263.1h0M1191.7 247.1h0M1196.7 248.4h0M1209.3 244.6h0M1204.3 247.1h0M1176.6 258.5h0M1155.3 176.7h0M1156.5 180.5h0M1165.3 179.9h0M1156.5 183.7h0M1169.1 185.5h0M1176.6 195.6h0M1181.7 196.2h0M1184.8 193.1h0M1191.7 196.9h0M1193.0 199.4h0M1186.7 201.9h0M1198.0 204.4h0M1201.8 209.4h0M1204.3 211.9h0M1191.7 214.5h0M1186.7 217.0h0M1198.0 219.5h0M1189.2 222.0h0M1204.3 217.0h0M1191.7 209.4h0M1119.4 127.0h0M1083.3 132.4h0M1138.3 144.2h0M1148.3 147.5h0M1112.9 164.7h0M1131.0 166.2h0M1177.9 161.3h0M1183.5 161.2h0M1192.3 165.1h0M1201.8 165.9h0M1221.0 168.5h0M1067.9 136.4h0M1071.0 137.7h0M1031.4 118.5h0M1034.5 119.1h0M1038.9 121.7h0M1039.5 125.4h0M1032.6 121.7h0M1046.5 133.0h0M1047.7 135.5h0M1056.5 141.8h0M1059.0 144.3h0M1062.8 144.3h0M1064.1 151.8h0M1064.7 155.0h0M1072.9 150.6h0M1075.4 153.1h0M1071.6 156.9h0M1076.6 160.6h0M1077.9 162.5h0M1085.4 156.9h0M1089.2 154.3h0M1086.7 160.6h0M1084.8 150.6h0M1075.4 169.4h0M1079.1 170.7h0M1082.3 170.1h0M1090.5 166.3h0M1094.2 164.4h0M1098.0 161.9h0M1099.9 159.4h0M1094.2 173.2h0M1096.7 175.7h0M1104.3 164.4h0M1108.1 166.9h0M1110.6 169.4h0M1112.5 171.9h0M1116.9 170.7h0M1123.1 177.0h0M1125.7 174.5h0M1129.4 178.2h0M1133.2 182.6h0M1129.4 185.8h0M1118.1 193.3h0M1120.6 195.8h0M1123.1 194.6h0M1128.2 192.1h0M1128.8 194.6h0M1031.4 105.1h0M1021.1 115.6h0M1060.3 111.6h0M1062.8 137.7h0M1055.3 168.4h0M1065.3 180.5h0M1071.6 178.2h0M1091.1 183.6h0M1104.0 187.0h0M1139.5 161.9h0M1140.1 178.0h0M1023.2 202.7h0M1076.2 202.7h0M1097.7 209.3h0M1096.1 94.6h0M1073.5 153.1h0M1074.7 149.9h0M1087.9 158.7h0M1055.9 143.7h0M1061.5 150.6h0M1103.7 166.3h0M1106.2 169.4h0M1107.0 140.7h0M1110.0 140.6h0M1114.2 140.2h0M1117.7 140.5h0M1125.4 140.6h0M1097.3 142.0h0M1102.0 141.2h0M1103.3 141.7h0M1105.9 141.9h0M1108.1 141.0h0M1108.9 141.6h0M1111.5 141.5h0M1112.9 141.1h0M1118.2 141.5h0M1122.2 141.9h0M1123.9 141.0h0M1125.1 141.9h0M1127.0 142.4h0M1128.4 141.3h0M1088.3 143.7h0M1090.1 143.1h0M1091.8 142.9h0M1093.3 143.9h0M1095.6 143.7h0M1097.3 142.8h0M1100.5 143.2h0M1101.5 143.9h0M1103.4 144.2h0M1107.8 144.0h0M1109.4 143.3h0M1110.7 143.7h0M1114.7 144.0h0M1116.8 143.5h0M1118.1 143.9h0M1119.1 142.8h0M1120.8 144.1h0M1123.7 142.7h0M1125.6 143.7h0M1126.7 142.9h0M1128.0 143.3h0M1130.9 142.9h0M1131.6 143.0h0M1133.3 143.5h0M1081.5 146.0h0M1084.6 144.7h0M1086.0 144.9h0M1087.9 144.6h0M1090.1 144.5h0M1094.2 145.4h0M1095.1 145.0h0M1099.1 144.6h0M1100.0 145.6h0M1103.0 145.7h0M1103.7 145.9h0M1105.6 145.2h0M1112.0 145.4h0M1115.1 145.1h0M1115.9 144.8h0M1117.8 145.7h0M1122.0 145.8h0M1125.0 144.5h0M1128.0 145.7h0M1130.5 145.8h0M1132.5 145.1h0M1133.8 145.4h0M1135.3 145.0h0M1136.9 145.1h0M1079.7 146.4h0M1085.0 147.7h0M1085.9 146.3h0M1088.0 146.9h0M1090.4 146.3h0M1091.8 146.8h0M1093.7 146.8h0M1096.3 147.4h0M1098.4 146.4h0M1102.1 146.7h0M1104.3 147.5h0M1107.5 146.3h0M1108.8 147.3h0M1110.6 146.4h0M1113.5 147.1h0M1115.2 146.3h0M1116.7 146.2h0M1117.8 146.2h0M1119.7 146.8h0M1123.2 147.0h0M1124.6 147.7h0M1126.8 146.3h0M1128.9 146.9h0M1130.9 147.2h0M1131.3 146.2h0M1137.7 147.6h0M1078.3 149.0h0M1079.7 148.3h0M1082.5 148.2h0M1085.1 148.8h0M1085.8 149.3h0M1088.8 148.0h0M1089.4 149.1h0M1092.9 148.1h0M1094.6 148.1h0M1097.2 149.4h0M1099.9 149.2h0M1101.9 148.0h0M1104.0 149.4h0M1105.2 148.3h0M1108.2 148.3h0M1109.0 148.1h0M1111.2 149.0h0M1112.2 148.7h0M1115.7 148.4h0M1118.1 149.4h0M1120.0 148.6h0M1122.0 148.4h0M1124.6 149.0h0M1127.5 148.1h0M1128.2 148.1h0M1130.8 148.9h0M1132.8 148.6h0M1134.1 148.4h0M1135.2 148.1h0M1138.3 148.4h0M1079.0 150.5h0M1082.3 150.6h0M1088.5 150.3h0M1089.6 150.1h0M1092.0 150.6h0M1093.5 150.4h0M1095.6 150.3h0M1097.4 150.4h0M1099.9 149.8h0M1102.7 149.9h0M1103.9 151.0h0M1105.8 149.7h0M1113.5 150.0h0M1114.2 149.9h0M1115.6 150.1h0M1117.9 150.2h0M1122.1 150.8h0M1123.1 150.4h0M1124.2 150.4h0M1127.1 151.1h0M1130.7 150.4h0M1132.3 151.1h0M1133.7 150.0h0M1135.1 150.8h0M1138.8 149.9h0M1140.5 149.9h0M1141.7 149.9h0M1143.6 149.7h0M1146.7 151.0h0M1148.4 149.8h0M1148.7 149.8h0M1152.9 151.2h0M1080.9 152.5h0M1082.9 151.7h0M1087.7 152.2h0M1096.0 151.7h0M1097.4 152.2h0M1100.3 151.9h0M1102.1 152.4h0M1106.0 151.8h0M1109.7 151.9h0M1112.0 152.2h0M1114.5 151.5h0M1117.0 152.7h0M1117.9 151.5h0M1119.3 153.0h0M1121.1 151.6h0M1125.5 152.7h0M1126.2 151.9h0M1128.0 152.6h0M1132.6 152.6h0M1134.4 152.3h0M1135.6 151.9h0M1136.9 152.2h0M1138.3 151.8h0M1142.9 152.4h0M1144.1 152.0h0M1146.6 152.7h0M1147.2 151.5h0M1149.1 151.5h0M1150.8 151.8h0M1153.1 151.9h0M1154.3 152.9h0M1156.6 152.6h0M1158.2 152.8h0M1083.7 153.3h0M1085.0 154.1h0M1087.1 153.4h0M1090.5 154.5h0M1093.9 153.7h0M1095.3 154.3h0M1098.7 154.0h0M1102.0 154.0h0M1103.5 154.7h0M1105.4 154.5h0M1109.2 153.7h0M1110.8 153.2h0M1112.2 153.7h0M1115.2 153.8h0M1115.9 154.2h0M1117.4 154.0h0M1119.2 154.5h0M1121.4 154.4h0M1124.3 154.6h0M1129.5 153.7h0M1132.7 154.7h0M1134.5 154.1h0M1134.8 153.9h0M1139.0 153.7h0M1140.3 153.9h0M1142.1 154.8h0M1144.3 154.3h0M1146.0 153.8h0M1147.0 153.4h0M1148.7 154.3h0M1150.8 153.7h0M1152.5 154.6h0M1156.6 153.7h0M1160.3 153.3h0M1162.3 154.1h0M1089.7 155.4h0M1091.0 156.0h0M1096.5 155.9h0M1098.4 156.4h0M1101.9 155.9h0M1103.7 155.4h0M1106.5 156.0h0M1107.6 156.0h0M1108.6 155.1h0M1111.2 156.5h0M1113.3 156.5h0M1114.4 155.7h0M1116.7 155.9h0M1118.7 155.8h0M1119.8 155.9h0M1120.9 155.2h0M1125.4 156.2h0M1126.2 156.2h0M1128.8 156.1h0M1129.5 155.9h0M1132.1 156.5h0M1134.1 155.6h0M1135.2 155.3h0M1137.4 156.4h0M1139.0 156.0h0M1140.6 155.4h0M1142.3 155.0h0M1144.0 156.0h0M1146.0 156.3h0M1147.5 156.2h0M1149.4 156.4h0M1152.5 156.2h0M1155.4 155.5h0M1156.7 156.5h0M1158.1 155.1h0M1159.3 156.3h0M1161.3 156.5h0M1163.9 155.5h0M1165.0 156.5h0M1167.6 156.4h0M1098.7 158.1h0M1100.6 157.1h0M1102.0 158.1h0M1103.9 156.7h0M1105.6 157.3h0M1110.0 157.8h0M1111.2 158.3h0M1114.6 157.7h0M1119.0 156.8h0M1122.0 157.6h0M1122.6 157.1h0M1124.4 157.9h0M1126.2 157.7h0M1130.6 157.9h0M1131.9 157.3h0M1134.4 157.4h0M1135.7 156.8h0M1137.4 158.0h0M1138.6 157.3h0M1140.6 158.2h0M1142.1 157.3h0M1143.7 157.3h0M1147.9 157.3h0M1149.6 157.0h0M1151.2 157.0h0M1153.5 157.7h0M1154.3 157.7h0M1156.2 157.5h0M1158.5 158.1h0M1160.1 157.6h0M1162.9 157.8h0M1165.2 157.4h0M1166.5 158.2h0M1168.2 157.9h0M1171.8 157.8h0M1096.7 158.7h0M1101.3 159.1h0M1102.9 159.8h0M1103.7 159.2h0M1105.3 159.1h0M1106.9 159.4h0M1109.9 160.0h0M1110.6 159.7h0M1113.3 159.1h0M1114.9 159.6h0M1116.0 158.7h0M1118.7 158.5h0M1121.0 158.6h0M1123.0 159.6h0M1125.2 159.3h0M1128.9 158.6h0M1130.7 159.3h0M1133.3 158.7h0M1136.0 158.9h0M1137.6 158.9h0M1141.4 160.0h0M1142.0 159.2h0M1151.7 159.4h0M1153.1 158.8h0M1155.4 159.3h0M1156.7 160.0h0M1158.2 159.2h0M1162.4 159.7h0M1163.9 158.8h0M1168.6 158.5h0M1170.7 159.6h0M1172.4 158.7h0M1174.5 159.7h0M1175.9 158.5h0M1178.6 160.0h0M1102.3 160.8h0M1103.6 161.3h0M1106.1 160.8h0M1107.0 161.0h0M1108.5 160.4h0M1113.2 161.7h0M1113.9 160.4h0M1115.8 160.7h0M1118.7 160.5h0M1119.9 161.3h0M1121.6 161.0h0M1125.6 160.7h0M1126.7 160.2h0M1130.6 161.3h0M1132.4 161.2h0M1134.3 161.0h0M1135.0 161.5h0M1137.6 161.5h0M1139.1 160.9h0M1141.2 161.7h0M1141.8 161.0h0M1144.2 160.7h0M1147.3 160.8h0M1149.9 160.9h0M1156.9 160.8h0M1158.6 160.7h0M1159.6 161.3h0M1162.4 161.1h0M1164.1 160.4h0M1166.0 160.7h0M1166.4 160.2h0M1169.7 160.7h0M1171.9 160.2h0M1173.7 160.9h0M1176.5 160.4h0M1178.1 160.7h0M1182.5 161.3h0M1112.8 162.0h0M1117.7 162.8h0M1120.4 162.8h0M1122.3 162.9h0M1123.8 163.0h0M1125.6 162.5h0M1126.9 162.3h0M1128.5 162.3h0M1132.5 163.3h0M1134.2 162.5h0M1136.1 162.4h0M1137.4 162.0h0M1139.5 163.4h0M1142.8 163.2h0M1144.4 163.3h0M1147.3 162.8h0M1149.2 163.3h0M1151.7 162.6h0M1153.7 162.2h0M1154.0 162.5h0M1155.9 163.5h0M1158.6 162.3h0M1161.7 162.3h0M1163.7 162.5h0M1165.1 163.1h0M1167.1 162.3h0M1170.6 162.7h0M1172.6 162.9h0M1173.9 162.6h0M1175.2 162.5h0M1177.0 163.3h0M1180.9 163.1h0M1182.9 163.2h0M1183.8 162.6h0M1187.7 163.4h0M1124.6 163.9h0M1126.4 164.7h0M1130.1 164.6h0M1132.6 164.1h0M1133.8 164.4h0M1135.0 165.2h0M1137.1 164.9h0M1139.7 165.0h0M1140.7 163.8h0M1146.7 164.4h0M1147.0 165.2h0M1149.6 164.7h0M1151.0 164.2h0M1152.8 164.3h0M1156.1 164.7h0M1158.7 163.9h0M1161.6 164.8h0M1166.4 163.8h0M1170.8 164.5h0M1172.3 164.5h0M1174.6 164.9h0M1178.3 165.1h0M1179.1 163.9h0M1180.3 165.0h0M1184.9 164.7h0M1186.3 163.7h0M1188.3 164.4h0M1190.3 164.3h0M1127.9 165.5h0M1129.6 165.8h0M1131.4 165.8h0M1134.5 166.1h0M1137.9 166.8h0M1139.6 166.0h0M1140.5 166.9h0M1143.3 165.8h0M1144.6 166.4h0M1145.4 166.9h0M1147.8 166.8h0M1151.4 166.5h0M1153.3 166.1h0M1158.5 167.0h0M1160.6 166.7h0M1161.9 165.7h0M1162.7 166.9h0M1167.4 166.0h0M1168.3 167.0h0M1171.2 166.3h0M1173.0 165.8h0M1173.6 165.7h0M1176.4 166.9h0M1179.0 166.5h0M1180.7 166.3h0M1182.6 166.1h0M1184.7 166.0h0M1186.0 166.5h0M1187.9 165.6h0M1191.3 166.3h0M1192.7 165.8h0M1135.8 167.4h0M1143.2 167.9h0M1144.3 167.4h0M1146.3 168.0h0M1148.4 168.2h0M1150.1 168.4h0M1152.0 168.7h0M1155.0 168.4h0M1156.2 167.5h0M1164.6 167.6h0M1166.4 168.6h0M1168.8 168.4h0M1171.1 168.1h0M1172.8 167.9h0M1174.3 167.3h0M1175.3 167.9h0M1177.8 168.2h0M1178.8 168.4h0M1181.1 168.4h0M1182.0 167.3h0M1187.6 167.4h0M1189.0 168.1h0M1191.0 168.2h0M1193.6 168.5h0M1195.3 167.4h0M1146.7 169.6h0M1149.7 169.4h0M1150.6 170.2h0M1152.3 170.3h0M1154.2 169.9h0M1156.5 169.7h0M1159.5 169.6h0M1161.7 169.5h0M1164.2 169.2h0M1166.0 169.0h0M1166.8 169.8h0M1168.4 169.1h0M1172.3 170.0h0M1174.4 170.0h0M1177.7 169.8h0M1180.5 169.5h0M1182.7 169.1h0M1184.9 169.2h0M1187.9 169.7h0M1192.2 169.6h0M1192.8 170.3h0M1194.7 169.3h0M1197.3 169.7h0M1154.1 171.4h0M1158.1 171.9h0M1160.2 171.0h0M1161.4 170.7h0M1163.1 171.5h0M1165.1 171.1h0M1167.2 171.9h0M1168.6 171.2h0M1170.9 171.1h0M1172.6 171.1h0M1174.1 170.8h0M1176.4 172.0h0M1178.3 172.3h0M1183.3 172.2h0M1184.8 170.9h0M1188.6 171.9h0M1191.7 171.4h0M1193.7 171.7h0M1195.3 171.6h0M1196.4 170.9h0M1197.9 171.9h0M1199.7 171.8h0M1201.3 171.9h0M1154.6 173.3h0M1171.0 173.7h0M1172.8 172.8h0M1174.8 172.5h0M1176.0 173.5h0M1179.9 172.6h0M1180.9 173.0h0M1183.1 173.1h0M1183.8 172.5h0M1188.6 173.9h0M1189.8 173.6h0M1191.0 173.3h0M1193.2 173.2h0M1195.2 173.0h0M1197.5 173.7h0M1199.0 173.7h0M1199.9 172.8h0M1204.0 174.0h0M1205.6 174.0h0M1206.5 173.9h0M1173.5 174.6h0M1175.3 174.2h0M1176.8 175.2h0M1179.3 175.6h0M1182.7 175.4h0M1183.7 174.6h0M1186.7 174.4h0M1187.7 174.6h0M1190.1 174.8h0M1191.7 175.7h0M1194.0 174.8h0M1194.5 174.5h0M1197.3 175.6h0M1198.3 174.7h0M1200.2 175.8h0M1201.8 175.1h0M1205.2 174.8h0M1206.9 174.7h0M1178.2 176.9h0M1178.6 177.0h0M1181.1 176.0h0M1183.2 176.9h0M1184.3 176.6h0M1186.7 177.1h0M1189.0 176.9h0M1192.0 177.5h0M1194.9 177.3h0M1196.5 177.1h0M1197.7 176.5h0M1200.8 176.3h0M1202.6 177.2h0M1203.7 176.3h0M1205.6 176.4h0M1206.8 176.9h0M1210.6 177.4h0M1181.6 177.8h0M1184.8 178.3h0M1186.2 178.5h0M1188.7 178.9h0M1189.9 179.2h0M1190.9 177.8h0M1193.0 178.6h0M1194.9 178.7h0M1196.9 178.5h0M1199.6 177.8h0M1202.7 179.1h0M1204.8 179.2h0M1206.9 178.2h0M1208.8 178.0h0M1210.7 179.0h0M1212.6 177.9h0M1215.5 178.6h0M1182.6 179.5h0M1187.7 180.4h0M1189.6 180.9h0M1191.0 180.6h0M1193.2 180.8h0M1196.4 180.4h0M1198.6 179.9h0M1200.7 180.2h0M1202.1 179.5h0M1203.5 180.0h0M1204.8 180.6h0M1210.4 180.2h0M1215.4 180.9h0M1217.0 180.7h0M1186.9 182.6h0M1187.7 181.6h0M1189.6 181.3h0M1191.8 182.6h0M1195.0 181.7h0M1197.1 182.1h0M1199.0 182.1h0M1203.1 181.8h0M1205.6 182.4h0M1207.3 182.4h0M1209.3 182.4h0M1211.2 181.2h0M1212.9 182.3h0M1214.3 182.2h0M1216.7 181.4h0M1218.0 181.3h0M1218.8 182.2h0M1220.6 181.4h0M1189.6 184.0h0M1190.8 183.8h0M1195.8 183.5h0M1196.1 184.0h0M1199.0 183.9h0M1199.7 183.6h0M1203.9 184.4h0M1205.5 183.3h0M1213.5 183.9h0M1215.9 183.5h0M1217.8 184.3h0M1218.7 183.9h0M1221.9 184.2h0M1222.6 183.0h0M1192.1 185.3h0M1192.7 186.2h0M1195.2 185.0h0M1197.5 186.1h0M1197.8 185.7h0M1202.4 184.9h0M1204.0 185.1h0M1204.8 185.9h0M1207.9 186.2h0M1208.3 185.8h0M1211.1 185.2h0M1213.0 185.7h0M1213.6 185.8h0M1216.7 186.0h0M1217.3 184.7h0M1219.9 184.8h0M1221.0 185.5h0M1222.9 185.8h0M1197.5 187.7h0M1199.0 186.6h0M1200.6 187.3h0M1202.1 187.4h0M1206.2 186.7h0M1207.3 187.8h0M1209.8 187.0h0M1210.2 187.7h0M1212.1 187.9h0M1214.0 187.8h0M1217.5 187.5h0M1219.9 187.5h0M1222.3 186.8h0M1196.8 189.7h0M1198.7 189.2h0M1202.4 188.8h0M1205.0 188.5h0M1207.3 189.4h0M1208.4 189.0h0M1211.3 189.8h0M1212.1 188.5h0M1213.5 188.5h0M1220.2 188.6h0M1222.0 189.8h0M1222.6 189.5h0M1225.5 188.5h0M1198.0 191.3h0M1204.4 190.0h0M1206.2 191.3h0M1207.9 190.1h0M1208.9 191.3h0M1212.9 191.4h0M1213.7 190.7h0M1221.2 191.1h0M1224.9 190.5h0M1200.7 193.0h0M1204.4 192.5h0M1205.9 192.3h0M1206.6 193.2h0M1210.6 192.5h0M1212.1 192.7h0M1214.2 191.9h0M1215.2 192.9h0M1219.5 191.8h0M1221.6 193.3h0M1223.1 191.8h0M1225.3 192.7h0M1203.2 193.7h0M1205.1 193.6h0M1207.9 194.1h0M1209.6 195.0h0M1210.7 194.2h0M1212.2 195.0h0M1215.0 193.8h0M1215.8 195.0h0M1217.9 193.7h0M1219.0 194.6h0M1223.1 193.7h0M1224.4 195.0h0M1202.2 196.6h0M1203.2 196.3h0M1205.6 196.2h0M1207.2 196.7h0M1209.7 195.6h0M1210.3 196.0h0M1212.9 196.5h0M1214.9 196.6h0M1215.4 195.2h0M1217.2 196.1h0M1219.6 195.3h0M1220.9 196.5h0M1224.7 195.5h0M1204.1 197.9h0M1205.2 197.7h0M1207.1 197.5h0M1211.1 197.8h0M1211.9 198.2h0M1214.4 197.7h0M1216.3 198.2h0M1217.9 197.0h0M1218.7 197.6h0M1220.8 197.4h0M1225.0 198.1h0M1207.6 200.1h0M1212.9 199.9h0M1214.8 199.3h0M1215.4 199.7h0M1218.5 198.9h0M1219.8 198.7h0M1222.8 199.9h0M1225.3 199.0h0M1205.9 200.9h0M1208.0 202.0h0M1209.0 200.5h0M1210.3 201.8h0M1212.9 201.6h0M1214.5 201.8h0M1216.0 201.8h0M1219.3 202.0h0M1222.3 201.8h0M1206.2 202.8h0M1207.5 202.6h0M1208.6 203.6h0M1210.3 203.7h0M1212.7 202.7h0M1214.3 203.5h0M1216.1 203.0h0M1217.4 203.4h0M1220.1 203.5h0M1220.9 203.0h0M1223.3 203.2h0M1224.8 202.9h0M1208.3 204.2h0M1210.4 204.1h0M1214.6 205.5h0M1217.9 204.1h0M1221.3 204.8h0M1223.0 204.3h0M1206.1 207.3h0M1207.5 207.3h0M1208.6 206.4h0M1210.5 206.6h0M1214.3 206.0h0M1215.3 205.8h0M1221.9 206.8h0M1223.6 206.8h0M1224.4 206.0h0M1206.7 207.7h0M1210.8 208.0h0M1215.5 209.0h0M1217.1 208.1h0M1220.2 208.2h0M1221.1 208.8h0M1223.8 208.7h0M1224.1 207.9h0M1207.2 210.0h0M1210.9 209.7h0M1212.5 209.2h0M1213.6 210.7h0M1217.4 210.4h0M1219.4 210.1h0M1222.0 209.6h0M1222.4 209.5h0M1205.6 212.2h0M1208.8 212.4h0M1210.3 211.5h0M1212.2 212.0h0M1214.5 212.4h0M1218.3 211.5h0M1219.8 212.1h0M1221.7 211.4h0M1222.2 211.1h0M1207.5 213.9h0M1209.2 213.2h0M1210.9 213.4h0M1214.5 213.3h0M1215.9 213.8h0M1217.1 214.1h0M1219.8 213.2h0M1220.6 214.0h0M1222.8 213.0h0M1204.4 215.9h0M1205.2 215.1h0M1206.8 215.3h0M1209.4 215.4h0M1213.3 215.5h0M1215.7 215.0h0M1218.0 215.9h0M1222.0 215.4h0M1202.6 217.6h0M1206.0 217.1h0M1206.5 216.5h0M1212.4 217.1h0M1214.8 216.6h0M1217.0 217.2h0M1218.9 217.8h0M1221.2 216.7h0M1201.6 218.3h0M1203.2 218.6h0M1204.9 218.8h0M1207.1 219.1h0M1208.8 219.4h0M1210.5 218.0h0M1212.3 218.5h0M1215.0 218.6h0M1217.6 218.6h0M1219.8 218.1h0M1198.9 220.7h0M1202.3 220.5h0M1203.7 220.4h0M1205.3 221.2h0M1206.8 220.7h0M1208.5 221.2h0M1210.4 220.9h0M1211.8 220.1h0M1214.8 221.2h0M1216.2 220.7h0M1218.2 219.9h0M1219.1 220.4h0M1194.3 222.9h0M1197.1 221.6h0M1198.8 221.5h0M1199.8 221.9h0M1202.7 222.5h0M1203.6 222.4h0M1205.2 222.9h0M1208.7 221.7h0M1213.2 222.2h0M1214.2 222.3h0M1217.5 222.8h0M1185.9 224.1h0M1189.1 224.0h0M1193.9 223.9h0M1195.6 224.3h0M1196.8 223.7h0M1198.8 223.7h0M1200.4 223.5h0M1201.8 224.7h0M1205.2 224.3h0M1207.1 224.3h0M1208.9 223.7h0M1210.8 224.7h0M1213.9 223.6h0M1216.3 223.6h0M1217.4 224.5h0M1177.9 226.4h0M1182.5 225.8h0M1183.9 226.4h0M1186.4 226.5h0M1188.3 226.1h0M1189.1 225.0h0M1191.8 226.0h0M1192.6 225.2h0M1196.0 226.2h0M1198.2 225.3h0M1199.8 225.5h0M1201.8 226.4h0M1203.1 225.8h0M1205.6 225.7h0M1206.8 226.4h0M1209.2 226.5h0M1210.4 225.9h0M1212.2 225.9h0M1214.7 225.7h0M1215.6 226.2h0M1217.2 225.5h0M1177.8 227.4h0M1179.5 227.8h0M1181.1 227.4h0M1182.1 228.1h0M1184.2 227.6h0M1186.1 228.2h0M1187.7 228.1h0M1189.5 227.6h0M1190.9 227.2h0M1194.4 227.4h0M1196.8 226.9h0M1199.7 227.7h0M1203.5 227.8h0M1209.8 227.3h0M1212.7 228.2h0M1213.8 227.1h0M1215.3 228.2h0M1172.5 228.5h0M1173.6 228.7h0M1176.1 228.7h0M1177.2 229.5h0M1179.6 229.0h0M1181.1 229.7h0M1186.2 229.0h0M1188.5 229.1h0M1190.2 228.5h0M1191.9 229.8h0M1198.5 229.2h0M1202.2 228.9h0M1204.4 229.4h0M1206.3 228.9h0M1207.7 229.9h0M1208.5 229.8h0M1210.0 229.0h0M1212.7 229.0h0M1214.4 229.6h0M1172.8 231.0h0M1175.2 231.0h0M1180.0 230.8h0M1180.8 231.5h0M1182.7 230.4h0M1186.5 231.1h0M1189.0 231.5h0M1192.0 231.2h0M1193.0 231.0h0M1198.9 231.3h0M1200.3 231.1h0M1202.7 230.2h0M1203.1 231.6h0M1205.4 230.5h0M1208.7 231.6h0M1212.7 231.5h0M1214.1 231.1h0M1216.5 230.5h0M1170.9 232.6h0M1172.7 232.9h0M1173.5 232.1h0M1175.7 233.2h0M1176.9 232.7h0M1179.6 233.2h0M1180.4 232.4h0M1182.7 232.8h0M1183.8 233.0h0M1187.0 233.1h0M1188.1 232.4h0M1191.7 232.7h0M1193.7 232.8h0M1196.9 233.4h0M1200.9 233.0h0M1201.6 232.7h0M1204.4 233.3h0M1205.5 233.2h0M1206.9 232.3h0M1211.4 233.4h0M1212.1 232.3h0M1214.2 232.9h0M1170.5 234.4h0M1173.4 234.7h0M1176.5 233.8h0M1177.9 235.1h0M1181.2 233.8h0M1182.6 233.9h0M1184.5 235.2h0M1185.5 235.2h0M1189.1 233.7h0M1191.2 235.2h0M1193.4 235.1h0M1195.6 234.2h0M1199.3 234.1h0M1201.0 234.0h0M1201.8 234.1h0M1204.5 233.8h0M1205.3 233.7h0M1207.3 233.7h0M1208.7 234.8h0M1210.0 235.2h0M1212.9 234.5h0M1213.5 234.4h0M1173.4 235.9h0M1175.1 236.1h0M1177.3 236.4h0M1179.1 236.4h0M1181.1 236.9h0M1182.2 236.9h0M1184.5 236.1h0M1186.9 235.7h0M1190.5 236.4h0M1192.3 236.1h0M1198.6 235.6h0M1199.8 236.7h0M1201.7 236.3h0M1203.2 236.8h0M1205.0 236.9h0M1209.3 236.4h0M1210.7 236.0h0M1212.0 237.0h0M1173.2 238.1h0M1175.4 238.5h0M1176.7 237.3h0M1182.4 237.7h0M1184.3 238.1h0M1185.6 237.3h0M1187.3 237.8h0M1190.3 237.2h0M1195.4 238.2h0M1197.8 238.0h0M1200.5 237.3h0M1204.1 237.6h0M1208.0 238.1h0M1209.3 238.0h0M1174.2 240.0h0M1175.9 240.3h0M1179.9 239.5h0M1182.1 240.1h0M1184.3 239.4h0M1187.3 239.3h0M1192.0 239.3h0M1194.4 239.8h0M1196.6 240.5h0M1198.4 239.8h0M1199.6 239.5h0M1203.2 240.5h0M1206.0 239.2h0M1207.9 240.2h0M1208.9 239.3h0M1175.1 241.5h0M1177.6 241.1h0M1183.3 241.5h0M1184.7 240.7h0M1187.2 241.8h0M1190.2 242.3h0M1193.2 241.9h0M1195.4 240.8h0M1196.2 241.8h0M1199.3 241.3h0M1199.6 241.2h0M1202.6 242.0h0M1204.0 241.9h0M1205.5 241.6h0M1208.9 241.5h0M1177.5 243.5h0M1179.7 243.8h0M1182.6 243.8h0M1184.5 243.8h0M1186.4 243.2h0M1188.4 243.8h0M1190.4 243.3h0M1192.9 243.2h0M1194.2 242.7h0M1196.0 242.7h0M1198.9 244.0h0M1200.9 243.1h0M1201.9 244.0h0M1181.4 244.4h0M1185.9 245.6h0M1190.3 245.2h0M1191.4 245.4h0M1194.4 244.3h0M1196.6 245.7h0M1198.1 245.8h0M1200.7 245.3h0M1201.6 245.5h0M1204.1 244.3h0M1184.8 246.0h0M1185.6 246.6h0M1188.6 246.2h0M1189.1 247.3h0M1191.8 247.1h0M1192.9 246.7h0M1195.5 246.9h0M1196.4 247.5h0M1198.4 246.6h0M1200.2 246.3h0M1202.8 246.4h0M1191.6 247.8h0M1193.5 248.6h0M1165.3 241.9h0M1096.7 161.7h0M1172.0 240.5h0M1133.8 168.1h0M1085.2 142.8h0M1110.4 138.5h0M1146.5 148.9h0M1092.9 158.7h0M1210.0 240.9h0M1167.4 228.8h0M1120.0 139.2h0M1178.4 156.2h0M1119.2 134.8h0M1109.8 164.2h0M1130.1 170.1h0M1176.6 176.8h0M1223.9 219.3h0M1222.1 234.0h0M1190.9 222.1h0M1104.4 166.7h0M1094.9 158.9h0M1105.6 137.9h0M1165.1 230.3h0M1097.2 141.9h0M1188.7 248.1h0M1196.8 193.7h0M1141.9 143.8h0M1197.7 250.5h0M1197.9 251.0h0M1140.0 145.1h0M1089.6 164.9h0M1163.0 172.8h0M1105.9 166.7h0M1183.4 160.6h0M1199.0 249.0h0M1167.1 175.2h0M1224.3 208.8h0M1114.5 163.2h0M1093.0 157.9h0M1135.8 169.5h0M1192.2 160.0h0M1196.1 249.3h0M1206.8 247.0h0M1185.1 248.0h0M1172.1 178.5h0M1164.7 150.1h0M1173.6 223.9h0M1098.5 162.0h0M1171.1 243.0h0M1207.4 243.5h0M1132.3 171.0h0M1185.0 183.2h0M1131.6 172.6h0M1211.6 173.0h0M1206.2 208.9h0M1225.0 218.3h0M1133.0 140.3h0M1197.1 160.6h0M1102.9 165.2h0M1105.4 167.9h0M1208.5 245.5h0M1196.7 250.9h0M1162.2 152.5h0M1123.2 168.9h0M1084.3 155.5h0M1156.4 175.9h0M1184.2 250.1h0M1196.2 248.4h0M1225.2 186.2h0M1094.7 141.1h0M1221.2 225.8h0M1227.1 197.8h0M1179.4 223.3h0M1115.6 137.1h0M1101.9 140.2h0M1205.0 245.1h0M1185.3 161.1h0M1211.5 170.5h0M1194.8 251.5h0" stroke="#e2e2e2" stroke-width="2.5" stroke-linecap="round"/>
<path d="M946.9 321.4h0M952.2 321.8h0M983.9 322.4h0M995.3 324.9h0M944.3 328.8h0M933.2 335.0h0M979.8 336.6h0M996.6 336.9h0M916.4 339.0h0M915.8 340.3h0M940.8 339.9h0M920.8 343.0h0M933.6 341.9h0M941.2 344.2h0M905.1 344.9h0M907.6 345.7h0M908.9 346.6h0M920.8 346.2h0M905.7 348.5h0M907.0 348.8h0M921.9 349.1h0M953.5 348.2h0M1058.8 340.0h0M1022.0 346.2h0M1038.6 349.8h0M1016.2 352.2h0M933.0 355.7h0M939.0 354.7h0M951.8 358.9h0M962.0 359.5h0M970.2 357.6h0M975.4 357.8h0M996.3 360.4h0M910.9 359.9h0M921.4 361.0h0M922.6 363.8h0M927.1 362.5h0M911.5 365.0h0M934.1 364.5h0M976.4 364.4h0M950.3 367.1h0M949.7 367.9h0M959.5 368.7h0M949.1 370.8h0M957.9 371.8h0M965.4 371.1h0M968.9 370.5h0M950.3 373.8h0M952.2 374.9h0M951.3 376.1h0M949.1 377.4h0M950.7 379.0h0M942.3 374.9h0M932.7 377.7h0M963.5 378.0h0M950.1 383.7h0M955.2 387.5h0M928.5 389.3h0M932.2 390.1h0M942.8 391.6h0M935.0 395.5h0M966.9 391.9h0M960.3 394.5h0M971.5 394.7h0M974.7 393.0h0M977.7 390.4h0M974.5 396.7h0M939.3 400.9h0M949.8 400.5h0M946.7 403.4h0M951.5 405.5h0M966.4 402.1h0M964.2 405.0h0M963.9 406.3h0M968.6 407.3h0M973.7 402.3h0M982.8 402.9h0M985.8 402.5h0M992.6 402.8h0M1000.2 399.9h0M1005.9 402.5h0M1017.3 401.6h0M956.8 409.8h0M980.5 409.8h0M978.6 412.9h0M977.4 414.5h0M954.1 414.1h0M956.6 414.1h0M1035.1 410.9h0M1047.6 401.6h0M1059.8 405.4h0M1035.8 382.1h0M1041.5 388.9h0M1045.1 387.8h0M1055.9 390.9h0M1063.5 392.7h0M1020.7 354.1h0M1022.6 353.5h0M1023.2 355.4h0M1026.4 355.4h0M1027.0 357.9h0M1030.8 362.3h0M1031.4 363.5h0M1040.0 364.8h0M1036.4 367.3h0M1037.7 368.3h0M1040.2 368.8h0M1038.3 369.8h0M1040.2 372.3h0M1040.8 374.2h0M1044.0 376.7h0M1045.9 373.6h0M1047.1 372.3h0M1048.4 371.7h0M1046.5 374.9h0M1047.8 377.4h0M1049.0 378.6h0M1052.2 372.1h0M1053.4 374.9h0M1054.7 376.1h0M1055.9 374.2h0M1052.8 377.4h0M1058.4 379.9h0M1061.0 377.4h0M1055.9 381.1h0M1064.1 379.9h0M1064.7 381.8h0M1047.1 383.0h0M1049.6 383.7h0M1057.8 384.9h0M1059.1 386.8h0M977.7 415.6h0M1018.0 417.5h0M973.0 420.0h0M975.2 421.5h0M976.7 418.8h0M978.6 419.8h0M991.9 421.5h0M959.4 430.0h0M983.3 431.3h0M993.7 430.3h0M986.0 435.0h0M1000.9 434.1h0M1038.3 429.8h0M1043.6 427.6h0M1042.7 435.4h0M1046.3 437.0h0M973.8 437.3h0M973.8 439.9h0M965.9 441.4h0M978.1 442.0h0M1021.7 436.4h0M1022.2 438.6h0M1024.5 440.8h0M1064.7 442.4h0M995.5 443.8h0M974.5 445.7h0M982.6 446.7h0M985.3 449.4h0M987.9 451.6h0M991.6 450.7h0M993.3 448.1h0M997.6 447.1h0M998.2 448.7h0M1005.3 449.2h0M1010.7 448.7h0M1013.2 450.4h0M1021.6 447.9h0M1027.0 448.9h0M1028.9 447.9h0M1031.7 449.8h0M1040.0 449.7h0M1024.5 454.6h0M1027.5 453.7h0M1030.8 454.2h0M1041.9 454.1h0M1051.8 452.5h0M1046.5 459.1h0M1058.1 458.6h0M986.2 457.4h0M1005.3 463.0h0M1011.1 466.9h0M1037.1 459.9h0M1044.6 462.1h0M1041.5 464.3h0M1044.4 464.3h0M1050.3 462.5h0M1054.9 462.3h0M1064.7 462.8h0M1033.1 470.7h0M1033.3 472.2h0M1051.8 472.8h0M1056.9 473.7h0M1055.3 476.0h0M1065.6 472.8h0M1017.6 477.1h0M1044.6 478.9h0M1047.5 478.1h0M1050.9 478.7h0M1054.2 479.7h0M1061.3 477.9h0M1060.3 481.2h0M1056.6 482.9h0M1060.0 483.3h0M1047.1 482.9h0M1049.0 485.6h0M1030.8 483.5h0M1033.7 484.9h0M1065.4 486.0h0M1059.3 489.9h0M1064.7 492.6h0M1058.1 501.2h0M1128.9 434.1h0M1159.0 437.6h0M1166.6 437.8h0M1070.8 439.1h0M1114.1 444.7h0M1100.8 448.3h0M1153.1 449.4h0M1149.0 451.4h0M1177.3 448.5h0M1170.1 452.3h0M1166.2 454.5h0M1178.3 453.5h0M1187.1 453.3h0M1074.4 453.5h0M1120.9 457.3h0M1069.8 457.9h0M1076.3 458.6h0M1196.1 455.4h0M1156.5 459.8h0M1159.3 457.9h0M1111.5 461.1h0M1094.7 463.0h0M1096.8 463.6h0M1099.9 463.0h0M1149.0 463.0h0M1133.9 463.8h0M1177.9 461.5h0M1099.9 466.1h0M1162.8 462.3h0M1079.2 467.1h0M1143.3 467.6h0M1158.1 464.6h0M1163.4 465.2h0M1106.6 471.8h0M1099.2 470.8h0M1112.8 470.5h0M1124.1 470.5h0M1066.6 472.8h0M1157.5 473.0h0M1156.5 477.0h0M1162.2 477.8h0M1101.2 477.8h0M1131.4 477.4h0M1137.7 478.1h0M1140.8 480.6h0M1152.7 479.3h0M1069.1 481.2h0M1122.6 481.8h0M1097.8 483.1h0M1098.4 485.0h0M1084.9 487.9h0M1114.4 489.1h0M1132.6 491.3h0M1137.0 489.6h0M1145.8 493.5h0M1135.8 494.8h0M1140.9 494.8h0M1159.0 489.7h0M1162.8 491.9h0M1154.6 496.9h0M1158.4 494.8h0M1089.6 498.2h0M1107.5 500.3h0M1109.4 500.1h0M1117.5 500.1h0M1120.1 499.4h0M1165.9 500.1h0M1181.7 497.5h0M1186.7 500.7h0M1187.9 503.8h0M1154.0 502.2h0M1174.1 506.1h0M1176.6 507.6h0M1152.7 509.1h0M1191.7 493.1h0M1196.7 494.4h0M1209.3 490.6h0M1204.3 493.1h0M1176.6 504.5h0M1155.3 422.7h0M1156.5 426.5h0M1165.3 425.9h0M1156.5 429.7h0M1169.1 431.5h0M1176.6 441.6h0M1181.7 442.2h0M1184.8 439.1h0M1191.7 442.9h0M1193.0 445.4h0M1186.7 447.9h0M1198.0 450.4h0M1201.8 455.4h0M1204.3 457.9h0M1191.7 460.5h0M1186.7 463.0h0M1198.0 465.5h0M1189.2 468.0h0M1204.3 463.0h0M1191.7 455.4h0M1119.4 373.0h0M1083.3 378.4h0M1138.3 390.2h0M1148.3 393.5h0M1112.9 410.7h0M1131.0 412.2h0M1177.9 407.3h0M1183.5 407.2h0M1192.3 411.1h0M1201.8 411.9h0M1221.0 414.5h0M1067.9 382.4h0M1071.0 383.7h0M1031.4 364.5h0M1034.5 365.1h0M1038.9 367.7h0M1039.5 371.4h0M1032.6 367.7h0M1046.5 379.0h0M1047.7 381.5h0M1056.5 387.8h0M1059.0 390.3h0M1062.8 390.3h0M1064.1 397.8h0M1064.7 401.0h0M1072.9 396.6h0M1075.4 399.1h0M1071.6 402.9h0M1076.6 406.6h0M1077.9 408.5h0M1085.4 402.9h0M1089.2 400.3h0M1086.7 406.6h0M1084.8 396.6h0M1075.4 415.4h0M1079.1 416.7h0M1082.3 416.1h0M1090.5 412.3h0M1094.2 410.4h0M1098.0 407.9h0M1099.9 405.4h0M1094.2 419.2h0M1096.7 421.7h0M1104.3 410.4h0M1108.1 412.9h0M1110.6 415.4h0M1112.5 417.9h0M1116.9 416.7h0M1123.1 423.0h0M1125.7 420.5h0M1129.4 424.2h0M1133.2 428.6h0M1129.4 431.8h0M1118.1 439.3h0M1120.6 441.8h0M1123.1 440.6h0M1128.2 438.1h0M1128.8 440.6h0M1031.4 351.1h0M1021.1 361.6h0M1060.3 357.6h0M1062.8 383.7h0M1055.3 414.4h0M1065.3 426.5h0M1071.6 424.2h0M1091.1 429.6h0M1104.0 433.0h0M1139.5 407.9h0M1140.1 424.0h0M1023.2 448.7h0M1076.2 448.7h0M1097.7 455.3h0M1096.1 340.6h0M1073.5 399.1h0M1074.7 395.9h0M1087.9 404.7h0M1055.9 389.7h0M1061.5 396.6h0M1103.7 412.3h0M1106.2 415.4h0M1107.0 386.7h0M1110.0 386.6h0M1114.2 386.2h0M1117.7 386.5h0M1125.4 386.6h0M1097.3 388.0h0M1102.0 387.2h0M1103.3 387.7h0M1105.9 387.9h0M1108.1 387.0h0M1108.9 387.6h0M1111.5 387.5h0M1112.9 387.1h0M1118.2 387.5h0M1122.2 387.9h0M1123.9 387.0h0M1125.1 387.9h0M1127.0 388.4h0M1128.4 387.3h0M1088.3 389.7h0M1090.1 389.1h0M1091.8 388.9h0M1093.3 389.9h0M1095.6 389.7h0M1097.3 388.8h0M1100.5 389.2h0M1101.5 389.9h0M1103.4 390.2h0M1107.8 390.0h0M1109.4 389.3h0M1110.7 389.7h0M1114.7 390.0h0M1116.8 389.5h0M1118.1 389.9h0M1119.1 388.8h0M1120.8 390.1h0M1123.7 388.7h0M1125.6 389.7h0M1126.7 388.9h0M1128.0 389.3h0M1130.9 388.9h0M1131.6 389.0h0M1133.3 389.5h0M1081.5 392.0h0M1084.6 390.7h0M1086.0 390.9h0M1087.9 390.6h0M1090.1 390.5h0M1094.2 391.4h0M1095.1 391.0h0M1099.1 390.6h0M1100.0 391.6h0M1103.0 391.7h0M1103.7 391.9h0M1105.6 391.2h0M1112.0 391.4h0M1115.1 391.1h0M1115.9 390.8h0M1117.8 391.7h0M1122.0 391.8h0M1125.0 390.5h0M1128.0 391.7h0M1130.5 391.8h0M1132.5 391.1h0M1133.8 391.4h0M1135.3 391.0h0M1136.9 391.1h0M1079.7 392.4h0M1085.0 393.7h0M1085.9 392.3h0M1088.0 392.9h0M1090.4 392.3h0M1091.8 392.8h0M1093.7 392.8h0M1096.3 393.4h0M1098.4 392.4h0M1102.1 392.7h0M1104.3 393.5h0M1107.5 392.3h0M1108.8 393.3h0M1110.6 392.4h0M1113.5 393.1h0M1115.2 392.3h0M1116.7 392.2h0M1117.8 392.2h0M1119.7 392.8h0M1123.2 393.0h0M1124.6 393.7h0M1126.8 392.3h0M1128.9 392.9h0M1130.9 393.2h0M1131.3 392.2h0M1137.7 393.6h0M1078.3 395.0h0M1079.7 394.3h0M1082.5 394.2h0M1085.1 394.8h0M1085.8 395.3h0M1088.8 394.0h0M1089.4 395.1h0M1092.9 394.1h0M1094.6 394.1h0M1097.2 395.4h0M1099.9 395.2h0M1101.9 394.0h0M1104.0 395.4h0M1105.2 394.3h0M1108.2 394.3h0M1109.0 394.1h0M1111.2 395.0h0M1112.2 394.7h0M1115.7 394.4h0M1118.1 395.4h0M1120.0 394.6h0M1122.0 394.4h0M1124.6 395.0h0M1127.5 394.1h0M1128.2 394.1h0M1130.8 394.9h0M1132.8 394.6h0M1134.1 394.4h0M1135.2 394.1h0M1138.3 394.4h0M1079.0 396.5h0M1082.3 396.6h0M1088.5 396.3h0M1089.6 396.1h0M1092.0 396.6h0M1093.5 396.4h0M1095.6 396.3h0M1097.4 396.4h0M1099.9 395.8h0M1102.7 395.9h0M1103.9 397.0h0M1105.8 395.7h0M1113.5 396.0h0M1114.2 395.9h0M1115.6 396.1h0M1117.9 396.2h0M1122.1 396.8h0M1123.1 396.4h0M1124.2 396.4h0M1127.1 397.1h0M1130.7 396.4h0M1132.3 397.1h0M1133.7 396.0h0M1135.1 396.8h0M1138.8 395.9h0M1140.5 395.9h0M1141.7 395.9h0M1143.6 395.7h0M1146.7 397.0h0M1148.4 395.8h0M1148.7 395.8h0M1152.9 397.2h0M1080.9 398.5h0M1082.9 397.7h0M1087.7 398.2h0M1096.0 397.7h0M1097.4 398.2h0M1100.3 397.9h0M1102.1 398.4h0M1106.0 397.8h0M1109.7 397.9h0M1112.0 398.2h0M1114.5 397.5h0M1117.0 398.7h0M1117.9 397.5h0M1119.3 399.0h0M1121.1 397.6h0M1125.5 398.7h0M1126.2 397.9h0M1128.0 398.6h0M1132.6 398.6h0M1134.4 398.3h0M1135.6 397.9h0M1136.9 398.2h0M1138.3 397.8h0M1142.9 398.4h0M1144.1 398.0h0M1146.6 398.7h0M1147.2 397.5h0M1149.1 397.5h0M1150.8 397.8h0M1153.1 397.9h0M1154.3 398.9h0M1156.6 398.6h0M1158.2 398.8h0M1083.7 399.3h0M1085.0 400.1h0M1087.1 399.4h0M1090.5 400.5h0M1093.9 399.7h0M1095.3 400.3h0M1098.7 400.0h0M1102.0 400.0h0M1103.5 400.7h0M1105.4 400.5h0M1109.2 399.7h0M1110.8 399.2h0M1112.2 399.7h0M1115.2 399.8h0M1115.9 400.2h0M1117.4 400.0h0M1119.2 400.5h0M1121.4 400.4h0M1124.3 400.6h0M1129.5 399.7h0M1132.7 400.7h0M1134.5 400.1h0M1134.8 399.9h0M1139.0 399.7h0M1140.3 399.9h0M1142.1 400.8h0M1144.3 400.3h0M1146.0 399.8h0M1147.0 399.4h0M1148.7 400.3h0M1150.8 399.7h0M1152.5 400.6h0M1156.6 399.7h0M1160.3 399.3h0M1162.3 400.1h0M1089.7 401.4h0M1091.0 402.0h0M1096.5 401.9h0M1098.4 402.4h0M1101.9 401.9h0M1103.7 401.4h0M1106.5 402.0h0M1107.6 402.0h0M1108.6 401.1h0M1111.2 402.5h0M1113.3 402.5h0M1114.4 401.7h0M1116.7 401.9h0M1118.7 401.8h0M1119.8 401.9h0M1120.9 401.2h0M1125.4 402.2h0M1126.2 402.2h0M1128.8 402.1h0M1129.5 401.9h0M1132.1 402.5h0M1134.1 401.6h0M1135.2 401.3h0M1137.4 402.4h0M1139.0 402.0h0M1140.6 401.4h0M1142.3 401.0h0M1144.0 402.0h0M1146.0 402.3h0M1147.5 402.2h0M1149.4 402.4h0M1152.5 402.2h0M1155.4 401.5h0M1156.7 402.5h0M1158.1 401.1h0M1159.3 402.3h0M1161.3 402.5h0M1163.9 401.5h0M1165.0 402.5h0M1167.6 402.4h0M1098.7 404.1h0M1100.6 403.1h0M1102.0 404.1h0M1103.9 402.7h0M1105.6 403.3h0M1110.0 403.8h0M1111.2 404.3h0M1114.6 403.7h0M1119.0 402.8h0M1122.0 403.6h0M1122.6 403.1h0M1124.4 403.9h0M1126.2 403.7h0M1130.6 403.9h0M1131.9 403.3h0M1134.4 403.4h0M1135.7 402.8h0M1137.4 404.0h0M1138.6 403.3h0M1140.6 404.2h0M1142.1 403.3h0M1143.7 403.3h0M1147.9 403.3h0M1149.6 403.0h0M1151.2 403.0h0M1153.5 403.7h0M1154.3 403.7h0M1156.2 403.5h0M1158.5 404.1h0M1160.1 403.6h0M1162.9 403.8h0M1165.2 403.4h0M1166.5 404.2h0M1168.2 403.9h0M1171.8 403.8h0M1096.7 404.7h0M1101.3 405.1h0M1102.9 405.8h0M1103.7 405.2h0M1105.3 405.1h0M1106.9 405.4h0M1109.9 406.0h0M1110.6 405.7h0M1113.3 405.1h0M1114.9 405.6h0M1116.0 404.7h0M1118.7 404.5h0M1121.0 404.6h0M1123.0 405.6h0M1125.2 405.3h0M1128.9 404.6h0M1130.7 405.3h0M1133.3 404.7h0M1136.0 404.9h0M1137.6 404.9h0M1141.4 406.0h0M1142.0 405.2h0M1151.7 405.4h0M1153.1 404.8h0M1155.4 405.3h0M1156.7 406.0h0M1158.2 405.2h0M1162.4 405.7h0M1163.9 404.8h0M1168.6 404.5h0M1170.7 405.6h0M1172.4 404.7h0M1174.5 405.7h0M1175.9 404.5h0M1178.6 406.0h0M1102.3 406.8h0M1103.6 407.3h0M1106.1 406.8h0M1107.0 407.0h0M1108.5 406.4h0M1113.2 407.7h0M1113.9 406.4h0M1115.8 406.7h0M1118.7 406.5h0M1119.9 407.3h0M1121.6 407.0h0M1125.6 406.7h0M1126.7 406.2h0M1130.6 407.3h0M1132.4 407.2h0M1134.3 407.0h0M1135.0 407.5h0M1137.6 407.5h0M1139.1 406.9h0M1141.2 407.7h0M1141.8 407.0h0M1144.2 406.7h0M1147.3 406.8h0M1149.9 406.9h0M1156.9 406.8h0M1158.6 406.7h0M1159.6 407.3h0M1162.4 407.1h0M1164.1 406.4h0M1166.0 406.7h0M1166.4 406.2h0M1169.7 406.7h0M1171.9 406.2h0M1173.7 406.9h0M1176.5 406.4h0M1178.1 406.7h0M1182.5 407.3h0M1112.8 408.0h0M1117.7 408.8h0M1120.4 408.8h0M1122.3 408.9h0M1123.8 409.0h0M1125.6 408.5h0M1126.9 408.3h0M1128.5 408.3h0M1132.5 409.3h0M1134.2 408.5h0M1136.1 408.4h0M1137.4 408.0h0M1139.5 409.4h0M1142.8 409.2h0M1144.4 409.3h0M1147.3 408.8h0M1149.2 409.3h0M1151.7 408.6h0M1153.7 408.2h0M1154.0 408.5h0M1155.9 409.5h0M1158.6 408.3h0M1161.7 408.3h0M1163.7 408.5h0M1165.1 409.1h0M1167.1 408.3h0M1170.6 408.7h0M1172.6 408.9h0M1173.9 408.6h0M1175.2 408.5h0M1177.0 409.3h0M1180.9 409.1h0M1182.9 409.2h0M1183.8 408.6h0M1187.7 409.4h0M1124.6 409.9h0M1126.4 410.7h0M1130.1 410.6h0M1132.6 410.1h0M1133.8 410.4h0M1135.0 411.2h0M1137.1 410.9h0M1139.7 411.0h0M1140.7 409.8h0M1146.7 410.4h0M1147.0 411.2h0M1149.6 410.7h0M1151.0 410.2h0M1152.8 410.3h0M1156.1 410.7h0M1158.7 409.9h0M1161.6 410.8h0M1166.4 409.8h0M1170.8 410.5h0M1172.3 410.5h0M1174.6 410.9h0M1178.3 411.1h0M1179.1 409.9h0M1180.3 411.0h0M1184.9 410.7h0M1186.3 409.7h0M1188.3 410.4h0M1190.3 410.3h0M1127.9 411.5h0M1129.6 411.8h0M1131.4 411.8h0M1134.5 412.1h0M1137.9 412.8h0M1139.6 412.0h0M1140.5 412.9h0M1143.3 411.8h0M1144.6 412.4h0M1145.4 412.9h0M1147.8 412.8h0M1151.4 412.5h0M1153.3 412.1h0M1158.5 413.0h0M1160.6 412.7h0M1161.9 411.7h0M1162.7 412.9h0M1167.4 412.0h0M1168.3 413.0h0M1171.2 412.3h0M1173.0 411.8h0M1173.6 411.7h0M1176.4 412.9h0M1179.0 412.5h0M1180.7 412.3h0M1182.6 412.1h0M1184.7 412.0h0M1186.0 412.5h0M1187.9 411.6h0M1191.3 412.3h0M1192.7 411.8h0M1135.8 413.4h0M1143.2 413.9h0M1144.3 413.4h0M1146.3 414.0h0M1148.4 414.2h0M1150.1 414.4h0M1152.0 414.7h0M1155.0 414.4h0M1156.2 413.5h0M1164.6 413.6h0M1166.4 414.6h0M1168.8 414.4h0M1171.1 414.1h0M1172.8 413.9h0M1174.3 413.3h0M1175.3 413.9h0M1177.8 414.2h0M1178.8 414.4h0M1181.1 414.4h0M1182.0 413.3h0M1187.6 413.4h0M1189.0 414.1h0M1191.0 414.2h0M1193.6 414.5h0M1195.3 413.4h0M1146.7 415.6h0M1149.7 415.4h0M1150.6 416.2h0M1152.3 416.3h0M1154.2 415.9h0M1156.5 415.7h0M1159.5 415.6h0M1161.7 415.5h0M1164.2 415.2h0M1166.0 415.0h0M1166.8 415.8h0M1168.4 415.1h0M1172.3 416.0h0M1174.4 416.0h0M1177.7 415.8h0M1180.5 415.5h0M1182.7 415.1h0M1184.9 415.2h0M1187.9 415.7h0M1192.2 415.6h0M1192.8 416.3h0M1194.7 415.3h0M1197.3 415.7h0M1154.1 417.4h0M1158.1 417.9h0M1160.2 417.0h0M1161.4 416.7h0M1163.1 417.5h0M1165.1 417.1h0M1167.2 417.9h0M1168.6 417.2h0M1170.9 417.1h0M1172.6 417.1h0M1174.1 416.8h0M1176.4 418.0h0M1178.3 418.3h0M1183.3 418.2h0M1184.8 416.9h0M1188.6 417.9h0M1191.7 417.4h0M1193.7 417.7h0M1195.3 417.6h0M1196.4 416.9h0M1197.9 417.9h0M1199.7 417.8h0M1201.3 417.9h0M1154.6 419.3h0M1171.0 419.7h0M1172.8 418.8h0M1174.8 418.5h0M1176.0 419.5h0M1179.9 418.6h0M1180.9 419.0h0M1183.1 419.1h0M1183.8 418.5h0M1188.6 419.9h0M1189.8 419.6h0M1191.0 419.3h0M1193.2 419.2h0M1195.2 419.0h0M1197.5 419.7h0M1199.0 419.7h0M1199.9 418.8h0M1204.0 420.0h0M1205.6 420.0h0M1206.5 419.9h0M1173.5 420.6h0M1175.3 420.2h0M1176.8 421.2h0M1179.3 421.6h0M1182.7 421.4h0M1183.7 420.6h0M1186.7 420.4h0M1187.7 420.6h0M1190.1 420.8h0M1191.7 421.7h0M1194.0 420.8h0M1194.5 420.5h0M1197.3 421.6h0M1198.3 420.7h0M1200.2 421.8h0M1201.8 421.1h0M1205.2 420.8h0M1206.9 420.7h0M1178.2 422.9h0M1178.6 423.0h0M1181.1 422.0h0M1183.2 422.9h0M1184.3 422.6h0M1186.7 423.1h0M1189.0 422.9h0M1192.0 423.5h0M1194.9 423.3h0M1196.5 423.1h0M1197.7 422.5h0M1200.8 422.3h0M1202.6 423.2h0M1203.7 422.3h0M1205.6 422.4h0M1206.8 422.9h0M1210.6 423.4h0M1181.6 423.8h0M1184.8 424.3h0M1186.2 424.5h0M1188.7 424.9h0M1189.9 425.2h0M1190.9 423.8h0M1193.0 424.6h0M1194.9 424.7h0M1196.9 424.5h0M1199.6 423.8h0M1202.7 425.1h0M1204.8 425.2h0M1206.9 424.2h0M1208.8 424.0h0M1210.7 425.0h0M1212.6 423.9h0M1215.5 424.6h0M1182.6 425.5h0M1187.7 426.4h0M1189.6 426.9h0M1191.0 426.6h0M1193.2 426.8h0M1196.4 426.4h0M1198.6 425.9h0M1200.7 426.2h0M1202.1 425.5h0M1203.5 426.0h0M1204.8 426.6h0M1210.4 426.2h0M1215.4 426.9h0M1217.0 426.7h0M1186.9 428.6h0M1187.7 427.6h0M1189.6 427.3h0M1191.8 428.6h0M1195.0 427.7h0M1197.1 428.1h0M1199.0 428.1h0M1203.1 427.8h0M1205.6 428.4h0M1207.3 428.4h0M1209.3 428.4h0M1211.2 427.2h0M1212.9 428.3h0M1214.3 428.2h0M1216.7 427.4h0M1218.0 427.3h0M1218.8 428.2h0M1220.6 427.4h0M1189.6 430.0h0M1190.8 429.8h0M1195.8 429.5h0M1196.1 430.0h0M1199.0 429.9h0M1199.7 429.6h0M1203.9 430.4h0M1205.5 429.3h0M1213.5 429.9h0M1215.9 429.5h0M1217.8 430.3h0M1218.7 429.9h0M1221.9 430.2h0M1222.6 429.0h0M1192.1 431.3h0M1192.7 432.2h0M1195.2 431.0h0M1197.5 432.1h0M1197.8 431.7h0M1202.4 430.9h0M1204.0 431.1h0M1204.8 431.9h0M1207.9 432.2h0M1208.3 431.8h0M1211.1 431.2h0M1213.0 431.7h0M1213.6 431.8h0M1216.7 432.0h0M1217.3 430.7h0M1219.9 430.8h0M1221.0 431.5h0M1222.9 431.8h0M1197.5 433.7h0M1199.0 432.6h0M1200.6 433.3h0M1202.1 433.4h0M1206.2 432.7h0M1207.3 433.8h0M1209.8 433.0h0M1210.2 433.7h0M1212.1 433.9h0M1214.0 433.8h0M1217.5 433.5h0M1219.9 433.5h0M1222.3 432.8h0M1196.8 435.7h0M1198.7 435.2h0M1202.4 434.8h0M1205.0 434.5h0M1207.3 435.4h0M1208.4 435.0h0M1211.3 435.8h0M1212.1 434.5h0M1213.5 434.5h0M1220.2 434.6h0M1222.0 435.8h0M1222.6 435.5h0M1225.5 434.5h0M1198.0 437.3h0M1204.4 436.0h0M1206.2 437.3h0M1207.9 436.1h0M1208.9 437.3h0M1212.9 437.4h0M1213.7 436.7h0M1221.2 437.1h0M1224.9 436.5h0M1200.7 439.0h0M1204.4 438.5h0M1205.9 438.3h0M1206.6 439.2h0M1210.6 438.5h0M1212.1 438.7h0M1214.2 437.9h0M1215.2 438.9h0M1219.5 437.8h0M1221.6 439.3h0M1223.1 437.8h0M1225.3 438.7h0M1203.2 439.7h0M1205.1 439.6h0M1207.9 440.1h0M1209.6 441.0h0M1210.7 440.2h0M1212.2 441.0h0M1215.0 439.8h0M1215.8 441.0h0M1217.9 439.7h0M1219.0 440.6h0M1223.1 439.7h0M1224.4 441.0h0M1202.2 442.6h0M1203.2 442.3h0M1205.6 442.2h0M1207.2 442.7h0M1209.7 441.6h0M1210.3 442.0h0M1212.9 442.5h0M1214.9 442.6h0M1215.4 441.2h0M1217.2 442.1h0M1219.6 441.3h0M1220.9 442.5h0M1224.7 441.5h0M1204.1 443.9h0M1205.2 443.7h0M1207.1 443.5h0M1211.1 443.8h0M1211.9 444.2h0M1214.4 443.7h0M1216.3 444.2h0M1217.9 443.0h0M1218.7 443.6h0M1220.8 443.4h0M1225.0 444.1h0M1207.6 446.1h0M1212.9 445.9h0M1214.8 445.3h0M1215.4 445.7h0M1218.5 444.9h0M1219.8 444.7h0M1222.8 445.9h0M1225.3 445.0h0M1205.9 446.9h0M1208.0 448.0h0M1209.0 446.5h0M1210.3 447.8h0M1212.9 447.6h0M1214.5 447.8h0M1216.0 447.8h0M1219.3 448.0h0M1222.3 447.8h0M1206.2 448.8h0M1207.5 448.6h0M1208.6 449.6h0M1210.3 449.7h0M1212.7 448.7h0M1214.3 449.5h0M1216.1 449.0h0M1217.4 449.4h0M1220.1 449.5h0M1220.9 449.0h0M1223.3 449.2h0M1224.8 448.9h0M1208.3 450.2h0M1210.4 450.1h0M1214.6 451.5h0M1217.9 450.1h0M1221.3 450.8h0M1223.0 450.3h0M1206.1 453.3h0M1207.5 453.3h0M1208.6 452.4h0M1210.5 452.6h0M1214.3 452.0h0M1215.3 451.8h0M1221.9 452.8h0M1223.6 452.8h0M1224.4 452.0h0M1206.7 453.7h0M1210.8 454.0h0M1215.5 455.0h0M1217.1 454.1h0M1220.2 454.2h0M1221.1 454.8h0M1223.8 454.7h0M1224.1 453.9h0M1207.2 456.0h0M1210.9 455.7h0M1212.5 455.2h0M1213.6 456.7h0M1217.4 456.4h0M1219.4 456.1h0M1222.0 455.6h0M1222.4 455.5h0M1205.6 458.2h0M1208.8 458.4h0M1210.3 457.5h0M1212.2 458.0h0M1214.5 458.4h0M1218.3 457.5h0M1219.8 458.1h0M1221.7 457.4h0M1222.2 457.1h0M1207.5 459.9h0M1209.2 459.2h0M1210.9 459.4h0M1214.5 459.3h0M1215.9 459.8h0M1217.1 460.1h0M1219.8 459.2h0M1220.6 460.0h0M1222.8 459.0h0M1204.4 461.9h0M1205.2 461.1h0M1206.8 461.3h0M1209.4 461.4h0M1213.3 461.5h0M1215.7 461.0h0M1218.0 461.9h0M1222.0 461.4h0M1202.6 463.6h0M1206.0 463.1h0M1206.5 462.5h0M1212.4 463.1h0M1214.8 462.6h0M1217.0 463.2h0M1218.9 463.8h0M1221.2 462.7h0M1201.6 464.3h0M1203.2 464.6h0M1204.9 464.8h0M1207.1 465.1h0M1208.8 465.4h0M1210.5 464.0h0M1212.3 464.5h0M1215.0 464.6h0M1217.6 464.6h0M1219.8 464.1h0M1198.9 466.7h0M1202.3 466.5h0M1203.7 466.4h0M1205.3 467.2h0M1206.8 466.7h0M1208.5 467.2h0M1210.4 466.9h0M1211.8 466.1h0M1214.8 467.2h0M1216.2 466.7h0M1218.2 465.9h0M1219.1 466.4h0M1194.3 468.9h0M1197.1 467.6h0M1198.8 467.5h0M1199.8 467.9h0M1202.7 468.5h0M1203.6 468.4h0M1205.2 468.9h0M1208.7 467.7h0M1213.2 468.2h0M1214.2 468.3h0M1217.5 468.8h0M1185.9 470.1h0M1189.1 470.0h0M1193.9 469.9h0M1195.6 470.3h0M1196.8 469.7h0M1198.8 469.7h0M1200.4 469.5h0M1201.8 470.7h0M1205.2 470.3h0M1207.1 470.3h0M1208.9 469.7h0M1210.8 470.7h0M1213.9 469.6h0M1216.3 469.6h0M1217.4 470.5h0M1177.9 472.4h0M1182.5 471.8h0M1183.9 472.4h0M1186.4 472.5h0M1188.3 472.1h0M1189.1 471.0h0M1191.8 472.0h0M1192.6 471.2h0M1196.0 472.2h0M1198.2 471.3h0M1199.8 471.5h0M1201.8 472.4h0M1203.1 471.8h0M1205.6 471.7h0M1206.8 472.4h0M1209.2 472.5h0M1210.4 471.9h0M1212.2 471.9h0M1214.7 471.7h0M1215.6 472.2h0M1217.2 471.5h0M1177.8 473.4h0M1179.5 473.8h0M1181.1 473.4h0M1182.1 474.1h0M1184.2 473.6h0M1186.1 474.2h0M1187.7 474.1h0M1189.5 473.6h0M1190.9 473.2h0M1194.4 473.4h0M1196.8 472.9h0M1199.7 473.7h0M1203.5 473.8h0M1209.8 473.3h0M1212.7 474.2h0M1213.8 473.1h0M1215.3 474.2h0M1172.5 474.5h0M1173.6 474.7h0M1176.1 474.7h0M1177.2 475.5h0M1179.6 475.0h0M1181.1 475.7h0M1186.2 475.0h0M1188.5 475.1h0M1190.2 474.5h0M1191.9 475.8h0M1198.5 475.2h0M1202.2 474.9h0M1204.4 475.4h0M1206.3 474.9h0M1207.7 475.9h0M1208.5 475.8h0M1210.0 475.0h0M1212.7 475.0h0M1214.4 475.6h0M1172.8 477.0h0M1175.2 477.0h0M1180.0 476.8h0M1180.8 477.5h0M1182.7 476.4h0M1186.5 477.1h0M1189.0 477.5h0M1192.0 477.2h0M1193.0 477.0h0M1198.9 477.3h0M1200.3 477.1h0M1202.7 476.2h0M1203.1 477.6h0M1205.4 476.5h0M1208.7 477.6h0M1212.7 477.5h0M1214.1 477.1h0M1216.5 476.5h0M1170.9 478.6h0M1172.7 478.9h0M1173.5 478.1h0M1175.7 479.2h0M1176.9 478.7h0M1179.6 479.2h0M1180.4 478.4h0M1182.7 478.8h0M1183.8 479.0h0M1187.0 479.1h0M1188.1 478.4h0M1191.7 478.7h0M1193.7 478.8h0M1196.9 479.4h0M1200.9 479.0h0M1201.6 478.7h0M1204.4 479.3h0M1205.5 479.2h0M1206.9 478.3h0M1211.4 479.4h0M1212.1 478.3h0M1214.2 478.9h0M1170.5 480.4h0M1173.4 480.7h0M1176.5 479.8h0M1177.9 481.1h0M1181.2 479.8h0M1182.6 479.9h0M1184.5 481.2h0M1185.5 481.2h0M1189.1 479.7h0M1191.2 481.2h0M1193.4 481.1h0M1195.6 480.2h0M1199.3 480.1h0M1201.0 480.0h0M1201.8 480.1h0M1204.5 479.8h0M1205.3 479.7h0M1207.3 479.7h0M1208.7 480.8h0M1210.0 481.2h0M1212.9 480.5h0M1213.5 480.4h0M1173.4 481.9h0M1175.1 482.1h0M1177.3 482.4h0M1179.1 482.4h0M1181.1 482.9h0M1182.2 482.9h0M1184.5 482.1h0M1186.9 481.7h0M1190.5 482.4h0M1192.3 482.1h0M1198.6 481.6h0M1199.8 482.7h0M1201.7 482.3h0M1203.2 482.8h0M1205.0 482.9h0M1209.3 482.4h0M1210.7 482.0h0M1212.0 483.0h0M1173.2 484.1h0M1175.4 484.5h0M1176.7 483.3h0M1182.4 483.7h0M1184.3 484.1h0M1185.6 483.3h0M1187.3 483.8h0M1190.3 483.2h0M1195.4 484.2h0M1197.8 484.0h0M1200.5 483.3h0M1204.1 483.6h0M1208.0 484.1h0M1209.3 484.0h0M1174.2 486.0h0M1175.9 486.3h0M1179.9 485.5h0M1182.1 486.1h0M1184.3 485.4h0M1187.3 485.3h0M1192.0 485.3h0M1194.4 485.8h0M1196.6 486.5h0M1198.4 485.8h0M1199.6 485.5h0M1203.2 486.5h0M1206.0 485.2h0M1207.9 486.2h0M1208.9 485.3h0M1175.1 487.5h0M1177.6 487.1h0M1183.3 487.5h0M1184.7 486.7h0M1187.2 487.8h0M1190.2 488.3h0M1193.2 487.9h0M1195.4 486.8h0M1196.2 487.8h0M1199.3 487.3h0M1199.6 487.2h0M1202.6 488.0h0M1204.0 487.9h0M1205.5 487.6h0M1208.9 487.5h0M1177.5 489.5h0M1179.7 489.8h0M1182.6 489.8h0M1184.5 489.8h0M1186.4 489.2h0M1188.4 489.8h0M1190.4 489.3h0M1192.9 489.2h0M1194.2 488.7h0M1196.0 488.7h0M1198.9 490.0h0M1200.9 489.1h0M1201.9 490.0h0M1181.4 490.4h0M1185.9 491.6h0M1190.3 491.2h0M1191.4 491.4h0M1194.4 490.3h0M1196.6 491.7h0M1198.1 491.8h0M1200.7 491.3h0M1201.6 491.5h0M1204.1 490.3h0M1184.8 492.0h0M1185.6 492.6h0M1188.6 492.2h0M1189.1 493.3h0M1191.8 493.1h0M1192.9 492.7h0M1195.5 492.9h0M1196.4 493.5h0M1198.4 492.6h0M1200.2 492.3h0M1202.8 492.4h0M1191.6 493.8h0M1193.5 494.6h0M1165.3 487.9h0M1096.7 407.7h0M1172.0 486.5h0M1133.8 414.1h0M1085.2 388.8h0M1110.4 384.5h0M1146.5 394.9h0M1092.9 404.7h0M1210.0 486.9h0M1167.4 474.8h0M1120.0 385.2h0M1178.4 402.2h0M1119.2 380.8h0M1109.8 410.2h0M1130.1 416.1h0M1176.6 422.8h0M1223.9 465.3h0M1222.1 480.0h0M1190.9 468.1h0M1104.4 412.7h0M1094.9 404.9h0M1105.6 383.9h0M1165.1 476.3h0M1097.2 387.9h0M1188.7 494.1h0M1196.8 439.7h0M1141.9 389.8h0M1197.7 496.5h0M1197.9 497.0h0M1140.0 391.1h0M1089.6 410.9h0M1163.0 418.8h0M1105.9 412.7h0M1183.4 406.6h0M1199.0 495.0h0M1167.1 421.2h0M1224.3 454.8h0M1114.5 409.2h0M1093.0 403.9h0M1135.8 415.5h0M1192.2 406.0h0M1196.1 495.3h0M1206.8 493.0h0M1185.1 494.0h0M1172.1 424.5h0M1164.7 396.1h0M1173.6 469.9h0M1098.5 408.0h0M1171.1 489.0h0M1207.4 489.5h0M1132.3 417.0h0M1185.0 429.2h0M1131.6 418.6h0M1211.6 419.0h0M1206.2 454.9h0M1225.0 464.3h0M1133.0 386.3h0M1197.1 406.6h0M1102.9 411.2h0M1105.4 413.9h0M1208.5 491.5h0M1196.7 496.9h0M1162.2 398.5h0M1123.2 414.9h0M1084.3 401.5h0M1156.4 421.9h0M1184.2 496.1h0M1196.2 494.4h0M1225.2 432.2h0M1094.7 387.1h0M1221.2 471.8h0M1227.1 443.8h0M1179.4 469.3h0M1115.6 383.1h0M1101.9 386.2h0M1205.0 491.1h0M1185.3 407.1h0M1211.5 416.5h0M1194.8 497.5h0" stroke="#e2e2e2" stroke-width="2.5" stroke-linecap="round"/>
<path d="M1021.3 108.2h0M1058.5 140.9h0M1104.2 151.5h0M1112.5 149.5h0M1116.3 159.5h0M1138.4 151.4h0M1152.1 160.9h0M1152.7 163.9h0M1130.6 158.5h0M1180.8 168.7h0M1182.0 169.7h0M1179.0 174.9h0M1197.8 233.5h0M1170.7 250.0h0" stroke="#fa4628" stroke-width="2.8" stroke-linecap="round"/>
<path d="M1036.3 121.3h0M1050.9 137.7h0M1077.3 149.5h0M1091.2 154.5h0M1094.2 149.0h0M1128.4 152.7h0M942.3 146.0h0M1192.2 175.0h0M1198.7 175.9h0M1215.5 209.9h0M1214.1 220.3h0M1204.5 234.2h0M1194.2 232.4h0" stroke="#ff6a4c" stroke-width="2.8" stroke-linecap="round"/>
<path d="M1046.4 126.8h0M1048.9 126.8h0M1047.9 138.2h0M1085.6 152.7h0M1143.7 155.5h0M1147.9 164.5h0M1155.1 163.9h0M1160.5 164.5h0M1218.5 187.0h0" stroke="#ff3e20" stroke-width="2.8" stroke-linecap="round"/>
<path d="M1052.2 130.9h0M1054.7 131.9h0M1106.7 150.2h0M1101.2 158.5h0M1105.0 157.8h0M1120.8 151.5h0M1127.6 149.0h0M1144.1 159.1h0M1149.1 157.9h0M1149.1 163.9h0M1165.6 165.7h0M1185.6 171.3h0M1176.6 173.7h0M1205.9 178.9h0M1211.5 185.7h0M1220.9 202.2h0M1181.4 242.2h0" stroke="#ff4a2c" stroke-width="2.8" stroke-linecap="round"/>
<path d="M1058.0 134.4h0M1097.4 146.5h0M1101.2 150.2h0M1108.8 146.0h0M1115.0 146.5h0M1136.0 148.4h0M1140.2 152.0h0M1145.5 156.7h0M1154.5 157.9h0M1139.8 164.9h0M1188.6 178.3h0" stroke="#f5381c" stroke-width="2.8" stroke-linecap="round"/>
<path d="M1064.8 134.4h0M1082.4 146.5h0M1100.0 146.5h0M1123.3 148.5h0M1125.1 148.5h0M1132.4 144.2h0M1144.3 153.2h0M1156.9 161.5h0M1162.9 163.3h0M1130.6 154.9h0M1176.6 165.3h0M1186.0 174.1h0M1189.4 179.5h0M1194.0 173.7h0M1197.0 173.5h0M1213.1 197.4h0M1225.3 197.4h0M1216.7 217.7h0M1213.7 229.4h0" stroke="#ff5a3c" stroke-width="2.8" stroke-linecap="round"/>
<path d="M1085.6 152.7h0M1106.7 150.2h0M1104.2 151.5h0" stroke="#8a0c06" stroke-width="2.8" stroke-linecap="round"/>
<path d="M1144.1 159.1h0M1147.9 164.5h0M1165.6 165.7h0" stroke="#9a0e06" stroke-width="2.8" stroke-linecap="round"/>
<path d="M1089.9 397.6h0M1132.0 404.9h0M1152.5 409.5h0M1178.9 412.9h0M1214.3 434.7h0M1218.1 439.3h0M1222.3 450.0h0M1200.3 451.3h0M1162.8 468.0h0M1218.1 472.4h0M1171.0 494.0h0M1178.3 494.1h0M988.7 405.1h0M1098.1 393.3h0M1122.6 400.0h0M1141.4 399.7h0" stroke="#ff5a3c" stroke-width="2.8" stroke-linecap="round"/>
<path d="M1098.1 393.5h0M1214.7 442.5h0M1190.2 474.0h0M1211.8 466.7h0M1212.4 473.7h0M1174.4 494.6h0M1069.1 487.2h0" stroke="#fa4628" stroke-width="2.8" stroke-linecap="round"/>
<path d="M1118.8 400.4h0M1137.9 407.4h0M1141.4 399.9h0M1198.2 423.7h0M1216.5 442.9h0M1216.8 446.4h0M1198.6 471.8h0M1214.3 468.0h0M1202.6 496.0h0M1108.1 449.9h0" stroke="#ff4a2c" stroke-width="2.8" stroke-linecap="round"/>
<path d="M1122.6 400.1h0M1136.0 405.5h0M1152.1 406.8h0M1184.4 421.2h0M1199.2 424.6h0M1210.2 431.3h0M1219.6 438.1h0M1223.1 450.8h0M1220.6 453.8h0M1218.5 461.5h0M1215.6 471.1h0M1004.4 434.7h0" stroke="#f5381c" stroke-width="2.8" stroke-linecap="round"/>
<path d="M1138.9 404.8h0M1153.0 403.9h0M1181.9 420.0h0M1194.8 426.3h0M1204.9 434.3h0M1225.0 445.0h0M1208.0 446.6h0M1217.9 455.2h0M1218.1 456.7h0M1219.1 460.5h0M1194.2 469.6h0M1216.8 468.6h0M1169.1 485.8h0M1118.5 400.2h0" stroke="#ff6a4c" stroke-width="2.8" stroke-linecap="round"/>
<path d="M1176.6 420.9h0M1209.3 427.3h0M1216.0 451.9h0M1174.7 465.1h0M1182.3 473.0h0M1163.2 494.0h0M1088.6 494.1h0M1102.8 501.9h0M990.2 430.8h0M1089.9 397.5h0" stroke="#ff3e20" stroke-width="2.8" stroke-linecap="round"/>
<path d="M1197.9 479.6h0M1188.8 479.1h0M1198.3 486.4h0M1207.8 482.6h0M1197.8 490.5h0" stroke="#ff6a50" stroke-width="2.8" stroke-linecap="round"/>
<path d="M1191.7 477.0h0M1198.3 481.6h0M1198.0 491.2h0M1212.5 480.8h0M1212.8 486.6h0M1204.7 479.7h0M1205.2 486.7h0M1204.9 490.2h0" stroke="#ff5a3a" stroke-width="2.8" stroke-linecap="round"/>
<path d="M1206.7 480.4h0M1176.7 476.1h0M1183.2 478.1h0M1184.2 491.0h0M1209.5 486.3h0M1199.1 484.6h0M1194.2 489.4h0M1197.4 481.5h0" stroke="#ff4a2a" stroke-width="2.8" stroke-linecap="round"/>
<path d="M1211.6 492.7h0M1210.2 479.1h0M1199.6 482.9h0M1211.3 484.7h0M1180.3 478.7h0M1192.0 491.1h0M1167.7 480.4h0M1215.7 473.5h0M1208.0 476.8h0M1191.3 478.6h0" stroke="#ff3a1a" stroke-width="2.8" stroke-linecap="round"/>
<path d="M1195.2 488.8h0M1168.0 472.8h0M1204.6 482.3h0M1192.2 479.7h0M1212.1 485.6h0M1201.4 485.8h0" stroke="#f23a1c" stroke-width="2.8" stroke-linecap="round"/>
<path d="M1193.4 486.4h0M1193.0 484.6h0M1184.8 489.1h0M1195.5 481.7h0M1192.1 482.7h0M1194.7 482.5h0" stroke="#ff2a10" stroke-width="2.8" stroke-linecap="round"/>
<path d="M1195.9 483.3h0M1169.7 484.6h0M1173.6 484.2h0M1187.5 472.9h0M1198.6 474.1h0M1181.2 493.7h0M1175.2 489.5h0M1192.1 482.8h0M1205.3 482.7h0M1185.7 478.2h0" stroke="#e8200c" stroke-width="2.8" stroke-linecap="round"/>
<path d="M1193.0 484.1h0M1190.3 480.6h0M1196.1 484.1h0M1186.2 479.9h0M1192.1 481.0h0M1171.5 484.1h0M1182.1 481.0h0M1190.6 486.4h0" stroke="#d01a0a" stroke-width="2.8" stroke-linecap="round"/>
<path d="M1173.4 488.5h0M1181.0 482.0h0M1175.3 479.9h0M1187.5 481.3h0M1170.3 486.4h0M1194.8 481.8h0" stroke="#c8190a" stroke-width="2.8" stroke-linecap="round"/>
<path d="M1192.3 483.5h0M1181.6 487.2h0M1195.2 485.3h0M1197.5 484.2h0" stroke="#a01008" stroke-width="2.8" stroke-linecap="round"/>
<path d="M1184.0 483.1h0M1182.3 485.3h0M1185.4 482.8h0" stroke="#8a0c06" stroke-width="2.8" stroke-linecap="round"/>
<path d="M1181.2 482.8h0M1187.7 484.4h0M1192.1 484.7h0M1184.7 484.4h0M1191.3 488.2h0M1193.9 488.1h0M1189.2 487.1h0M1194.4 481.9h0M1191.2 480.8h0M1176.0 484.4h0M1194.7 483.4h0M1182.9 488.3h0" stroke="#7a0a05" stroke-width="2.8" stroke-linecap="round"/>
<path d="M1181.9 485.1h0M1181.0 485.4h0M1186.4 483.2h0M1187.9 484.0h0" stroke="#2a0301" stroke-width="2.8" stroke-linecap="round"/>
<rect x="889.7" y="37.3" width="352.6" height="29.0" fill="#d9d9d9" stroke="#555" stroke-width="1.4"/>
<line x1="890.60" y1="64.70" x2="1241.40" y2="64.70" stroke="#e6e6e6" stroke-width="1.0"/>
<rect x="889.7" y="66.3" width="352.6" height="205.9" fill="none" stroke="#555" stroke-width="1.4"/>
<line x1="889.70" y1="66.30" x2="1242.30" y2="66.30" stroke="#2a2a2a" stroke-width="1.4"/>
<text x="1066.4" y="56.9" font-size="15.5" font-style="italic" text-anchor="middle" fill="#1a1a1a">Cpne9</text>
<rect x="889.7" y="283.0" width="352.6" height="29.0" fill="#d9d9d9" stroke="#555" stroke-width="1.4"/>
<line x1="890.60" y1="310.40" x2="1241.40" y2="310.40" stroke="#e6e6e6" stroke-width="1.0"/>
<rect x="889.7" y="312.0" width="352.6" height="205.6" fill="none" stroke="#555" stroke-width="1.4"/>
<line x1="889.70" y1="312.00" x2="1242.30" y2="312.00" stroke="#2a2a2a" stroke-width="1.4"/>
<text x="1066.4" y="302.6" font-size="15.5" font-style="italic" text-anchor="middle" fill="#1a1a1a">Rgs14</text>
<text x="1271.0" y="218.5" font-size="19">counts</text>
<defs><linearGradient id="cb" x1="0" y1="1" x2="0" y2="0"><stop offset="0" stop-color="#e5e5e5"/><stop offset="0.25" stop-color="#fca08a"/><stop offset="0.5" stop-color="#ff2a0a"/><stop offset="0.75" stop-color="#8c1a0e"/><stop offset="1" stop-color="#0d0000"/></linearGradient></defs>
<rect x="1271.8" y="230.3" width="30.2" height="151.3" fill="url(#cb)"/>
<text x="1311.2" y="236.4" font-size="15.5">8</text>
<text x="1311.2" y="386.9" font-size="15.5">0</text>
<text x="126.0" y="577.9" font-size="25.85">Selected SVGs: mouseHPC</text>
<rect x="127" y="594.4" width="365.4" height="455.2" fill="#fff"/>
<line x1="127.00" y1="968.25" x2="492.40" y2="968.25" stroke="#f2f2f2" stroke-width="1.3"/>
<line x1="127.00" y1="846.05" x2="492.40" y2="846.05" stroke="#f2f2f2" stroke-width="1.3"/>
<line x1="127.00" y1="723.85" x2="492.40" y2="723.85" stroke="#f2f2f2" stroke-width="1.3"/>
<line x1="127.00" y1="601.65" x2="492.40" y2="601.65" stroke="#f2f2f2" stroke-width="1.3"/>
<line x1="127.00" y1="1029.35" x2="492.40" y2="1029.35" stroke="#ebebeb" stroke-width="1.9"/>
<line x1="127.00" y1="907.15" x2="492.40" y2="907.15" stroke="#ebebeb" stroke-width="1.9"/>
<line x1="127.00" y1="784.95" x2="492.40" y2="784.95" stroke="#ebebeb" stroke-width="1.9"/>
<line x1="127.00" y1="662.75" x2="492.40" y2="662.75" stroke="#ebebeb" stroke-width="1.9"/>
<line x1="226.50" y1="594.40" x2="226.50" y2="1049.60" stroke="#ebebeb" stroke-width="1.9"/>
<line x1="393.00" y1="594.40" x2="393.00" y2="1049.60" stroke="#ebebeb" stroke-width="1.9"/>
<rect x="127" y="594.4" width="365.4" height="455.2" fill="none" stroke="#555" stroke-width="1.4"/>
<line x1="121.30" y1="1029.35" x2="127.00" y2="1029.35" stroke="#333" stroke-width="1.2"/>
<text x="116.6" y="1035.4" font-size="17.2" text-anchor="end" fill="#4d4d4d">10</text>
<line x1="121.30" y1="907.15" x2="127.00" y2="907.15" stroke="#333" stroke-width="1.2"/>
<text x="116.6" y="913.2" font-size="17.2" text-anchor="end" fill="#4d4d4d">100</text>
<line x1="121.30" y1="784.95" x2="127.00" y2="784.95" stroke="#333" stroke-width="1.2"/>
<text x="116.6" y="791.1" font-size="17.2" text-anchor="end" fill="#4d4d4d">1000</text>
<line x1="121.30" y1="662.75" x2="127.00" y2="662.75" stroke="#333" stroke-width="1.2"/>
<text x="116.6" y="668.9" font-size="17.2" text-anchor="end" fill="#4d4d4d">10000</text>
<line x1="226.50" y1="1049.60" x2="226.50" y2="1055.10" stroke="#333" stroke-width="1.2"/>
<text x="226.9" y="1072.5" font-size="17.2" font-style="italic" text-anchor="middle" fill="#4d4d4d">Cpne9</text>
<line x1="393.00" y1="1049.60" x2="393.00" y2="1055.10" stroke="#333" stroke-width="1.2"/>
<text x="393.4" y="1072.5" font-size="17.2" font-style="italic" text-anchor="middle" fill="#4d4d4d">Rgs14</text>
<text x="309.6" y="1095.7" font-size="21.8" text-anchor="middle">gene</text>
<text x="0" y="0" font-size="21.6" text-anchor="middle" transform="translate(59.2,821.9) rotate(-90)">rank</text>
<circle cx="226.50" cy="721.17" r="5.0" stroke="#FF8C00" stroke-width="3.3" fill="none"/>
<text x="260.0" y="725.4" font-size="11.5" text-anchor="middle" fill="#F28C1F">3326</text>
<path d="M226.50 755.83L233.40 767.63L219.60 767.63Z" stroke="#CD2626" stroke-width="3.0" stroke-linejoin="round" fill="none"/>
<text x="260.0" y="767.6" font-size="11.5" text-anchor="middle" fill="#D12E2E">1500</text>
<path d="M221.60 855.35L231.40 865.15M221.60 865.15L231.40 855.35" stroke="#0000CD" stroke-width="3.2" stroke-linecap="round" fill="none"/>
<text x="260.0" y="864.4" font-size="11.5" text-anchor="middle" fill="#2233CC">242</text>
<path d="M219.50 877.75H233.50M226.50 870.75V884.75" stroke="#00B2EE" stroke-width="3.2" stroke-linecap="round" fill="none"/>
<text x="260.0" y="882.0" font-size="11.5" text-anchor="middle" fill="#1AA6E6">174</text>
<circle cx="393.00" cy="634.01" r="5.0" stroke="#FF8C00" stroke-width="3.3" fill="none"/>
<text x="426.5" y="638.2" font-size="11.5" text-anchor="middle" fill="#F28C1F">17185</text>
<path d="M393.00 851.13L399.90 862.93L386.10 862.93Z" stroke="#CD2626" stroke-width="3.0" stroke-linejoin="round" fill="none"/>
<text x="426.5" y="862.9" font-size="11.5" text-anchor="middle" fill="#D12E2E">249</text>
<path d="M388.10 940.11L397.90 949.91M388.10 949.91L397.90 940.11" stroke="#0000CD" stroke-width="3.2" stroke-linecap="round" fill="none"/>
<text x="426.5" y="949.2" font-size="11.5" text-anchor="middle" fill="#2233CC">49</text>
<path d="M386.00 959.92H400.00M393.00 952.92V966.92" stroke="#00B2EE" stroke-width="3.2" stroke-linecap="round" fill="none"/>
<text x="426.5" y="964.1" font-size="11.5" text-anchor="middle" fill="#1AA6E6">37</text>
<text x="525.0" y="757.0" font-size="21.4">method</text>
<path d="M537.10 781.60L546.90 791.40M537.10 791.40L546.90 781.60" stroke="#0000CD" stroke-width="3.2" stroke-linecap="round" fill="none"/>
<text x="569.6" y="792.8" font-size="17.3">nnSVG</text>
<path d="M535.00 820.50H549.00M542.00 813.50V827.50" stroke="#00B2EE" stroke-width="3.2" stroke-linecap="round" fill="none"/>
<text x="569.6" y="826.8" font-size="17.3">SPARK-X</text>
<circle cx="542.00" cy="854.50" r="5.0" stroke="#FF8C00" stroke-width="3.3" fill="none"/>
<text x="569.6" y="860.8" font-size="17.3">HVGs</text>
<path d="M542.00 880.90L548.90 892.70L535.10 892.70Z" stroke="#CD2626" stroke-width="3.0" stroke-linejoin="round" fill="none"/>
<text x="569.6" y="894.8" font-size="17.3">Moran's I</text>
<text x="807.6" y="608.6" font-size="25.0">nnSVG: mouseHPC</text>
<rect x="809" y="624.3" width="587.8" height="405.7" fill="#fff"/>
<line x1="910.43" y1="624.30" x2="910.43" y2="1030.00" stroke="#f3f3f3" stroke-width="1.3"/>
<line x1="1061.10" y1="624.30" x2="1061.10" y2="1030.00" stroke="#f3f3f3" stroke-width="1.3"/>
<line x1="1211.77" y1="624.30" x2="1211.77" y2="1030.00" stroke="#f3f3f3" stroke-width="1.3"/>
<line x1="1362.44" y1="624.30" x2="1362.44" y2="1030.00" stroke="#f3f3f3" stroke-width="1.3"/>
<line x1="809.00" y1="976.32" x2="1396.80" y2="976.32" stroke="#f3f3f3" stroke-width="1.3"/>
<line x1="809.00" y1="904.96" x2="1396.80" y2="904.96" stroke="#f3f3f3" stroke-width="1.3"/>
<line x1="809.00" y1="833.60" x2="1396.80" y2="833.60" stroke="#f3f3f3" stroke-width="1.3"/>
<line x1="809.00" y1="762.24" x2="1396.80" y2="762.24" stroke="#f3f3f3" stroke-width="1.3"/>
<line x1="809.00" y1="690.88" x2="1396.80" y2="690.88" stroke="#f3f3f3" stroke-width="1.3"/>
<line x1="835.10" y1="624.30" x2="835.10" y2="1030.00" stroke="#ebebeb" stroke-width="1.9"/>
<line x1="985.77" y1="624.30" x2="985.77" y2="1030.00" stroke="#ebebeb" stroke-width="1.9"/>
<line x1="1136.43" y1="624.30" x2="1136.43" y2="1030.00" stroke="#ebebeb" stroke-width="1.9"/>
<line x1="1287.10" y1="624.30" x2="1287.10" y2="1030.00" stroke="#ebebeb" stroke-width="1.9"/>
<line x1="809.00" y1="1012.00" x2="1396.80" y2="1012.00" stroke="#ebebeb" stroke-width="1.9"/>
<line x1="809.00" y1="940.64" x2="1396.80" y2="940.64" stroke="#ebebeb" stroke-width="1.9"/>
<line x1="809.00" y1="869.28" x2="1396.80" y2="869.28" stroke="#ebebeb" stroke-width="1.9"/>
<line x1="809.00" y1="797.92" x2="1396.80" y2="797.92" stroke="#ebebeb" stroke-width="1.9"/>
<line x1="809.00" y1="726.56" x2="1396.80" y2="726.56" stroke="#ebebeb" stroke-width="1.9"/>
<line x1="809.00" y1="655.20" x2="1396.80" y2="655.20" stroke="#ebebeb" stroke-width="1.9"/>
<path d="M835.3 642.0 L835.4 700.0 L835.5 800.0 L835.8 900.0 L836.1 950.0 L836.6 975.0 L837.2 987.0 L838.2 994.0 L839.5 999.0 L841.5 1003.0 L844.0 1005.5 L848.0 1007.2 L852.0 1008.4 L858.0 1009.5 L866.0 1010.3 L880.0 1011.0 L900.0 1011.5 L930.0 1011.8 L980.0 1012.0 L1370.4 1012.0" fill="none" stroke="#00008B" stroke-width="2" stroke-linejoin="round"/>
<line x1="896.8" y1="1030" x2="896.8" y2="624.3" stroke="#F07F12" stroke-width="2.1" stroke-dasharray="7.7 8.3"/>
<rect x="809" y="624.3" width="587.8" height="405.7" fill="none" stroke="#555" stroke-width="1.4"/>
<line x1="803.50" y1="1012.00" x2="809.00" y2="1012.00" stroke="#333" stroke-width="1.2"/>
<text x="797.8" y="1018.0" font-size="16.5" text-anchor="end" fill="#4d4d4d">0</text>
<line x1="803.50" y1="940.64" x2="809.00" y2="940.64" stroke="#333" stroke-width="1.2"/>
<text x="797.8" y="946.6" font-size="16.5" text-anchor="end" fill="#4d4d4d">1000</text>
<line x1="803.50" y1="869.28" x2="809.00" y2="869.28" stroke="#333" stroke-width="1.2"/>
<text x="797.8" y="875.3" font-size="16.5" text-anchor="end" fill="#4d4d4d">2000</text>
<line x1="803.50" y1="797.92" x2="809.00" y2="797.92" stroke="#333" stroke-width="1.2"/>
<text x="797.8" y="803.9" font-size="16.5" text-anchor="end" fill="#4d4d4d">3000</text>
<line x1="803.50" y1="726.56" x2="809.00" y2="726.56" stroke="#333" stroke-width="1.2"/>
<text x="797.8" y="732.6" font-size="16.5" text-anchor="end" fill="#4d4d4d">4000</text>
<line x1="803.50" y1="655.20" x2="809.00" y2="655.20" stroke="#333" stroke-width="1.2"/>
<text x="797.8" y="661.2" font-size="16.5" text-anchor="end" fill="#4d4d4d">5000</text>
<line x1="835.10" y1="1030.00" x2="835.10" y2="1035.50" stroke="#333" stroke-width="1.2"/>
<text x="835.1" y="1051.8" font-size="16.5" text-anchor="middle" fill="#4d4d4d">0</text>
<line x1="985.77" y1="1030.00" x2="985.77" y2="1035.50" stroke="#333" stroke-width="1.2"/>
<text x="985.8" y="1051.8" font-size="16.5" text-anchor="middle" fill="#4d4d4d">2500</text>
<line x1="1136.43" y1="1030.00" x2="1136.43" y2="1035.50" stroke="#333" stroke-width="1.2"/>
<text x="1136.4" y="1051.8" font-size="16.5" text-anchor="middle" fill="#4d4d4d">5000</text>
<line x1="1287.10" y1="1030.00" x2="1287.10" y2="1035.50" stroke="#333" stroke-width="1.2"/>
<text x="1287.1" y="1051.8" font-size="16.5" text-anchor="middle" fill="#4d4d4d">7500</text>
<text x="1102.9" y="1075.4" font-size="21" text-anchor="middle">rank</text>
<text x="0" y="0" font-size="21" text-anchor="middle" transform="translate(752.8,826.6) rotate(-90)">likelihood ratio statistic</text>
<text x="1015.8" y="719.6" font-size="18.9" text-anchor="middle" fill="#EE7B16">adjusted p-value = 0.05</text>
<text x="1016.1" y="746.7" font-size="18.9" text-anchor="middle" fill="#EE7B16">(rank 1024)</text>
<line x1="863.50" y1="953.50" x2="840.00" y2="988.00" stroke="#D42A2A" stroke-width="1.3"/>
<line x1="875.50" y1="971.50" x2="852.00" y2="1003.50" stroke="#D42A2A" stroke-width="1.3"/>
<circle cx="837.8" cy="992.5" r="5" fill="#CD2626"/>
<circle cx="849.7" cy="1007.5" r="5" fill="#CD2626"/>
<text x="843.2" y="950.5" font-size="15.5" font-style="italic" fill="#D42A2A">Rgs14</text>
<text x="879.2" y="975.0" font-size="15.5" font-style="italic" fill="#D42A2A">Cpne9</text>
</svg>
</body></html>
